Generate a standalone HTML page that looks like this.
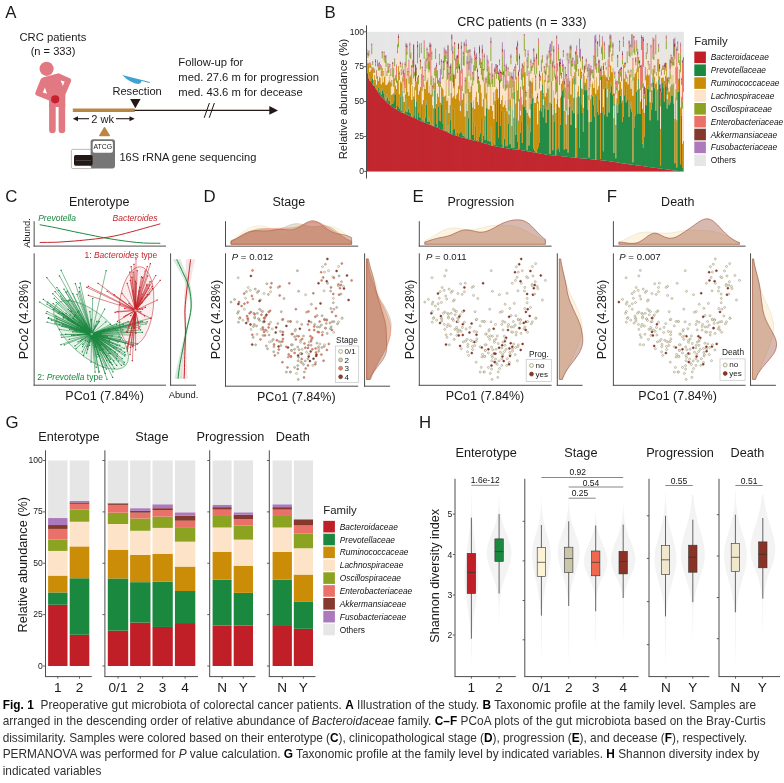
<!DOCTYPE html>
<html><head><meta charset="utf-8"><title>Fig. 1</title>
<style>
html,body{margin:0;padding:0;background:#fff;}
svg{display:block;font-family:'Liberation Sans', sans-serif;will-change:transform;}
</style></head><body>
<svg width="784" height="783" viewBox="0 0 784 783" font-family="Liberation Sans, sans-serif">
<rect width="784" height="783" fill="#fff"/>
<defs><circle id="s0" r="1.02" fill="#FDF6DC" stroke="#7d7960" stroke-width="0.42"/><circle id="s2" r="1.02" fill="#D2CDB2" stroke="#7d7960" stroke-width="0.42"/><circle id="s3" r="1.02" fill="#F07C62" stroke="#9a6a58" stroke-width="0.42"/><circle id="s4" r="1.02" fill="#8F3C2A" stroke="#5e3a30" stroke-width="0.42"/><circle id="p0" r="1.02" fill="#FCF4DA" stroke="#7d7960" stroke-width="0.42"/><circle id="p1" r="1.02" fill="#8E3423" stroke="#6e2b1f" stroke-width="0.42"/><circle id="d0" r="1.02" fill="#FCF4DA" stroke="#7d7960" stroke-width="0.42"/><circle id="d1" r="1.02" fill="#8E3423" stroke="#6e2b1f" stroke-width="0.42"/></defs>
<text x="5.20" y="18.15" font-size="16.8" text-anchor="start" fill="#1a1a1a">A</text>
<text x="52.90" y="41.45" font-size="11.25" text-anchor="middle" fill="#1a1a1a">CRC patients</text>
<text x="53.00" y="55.20" font-size="11.1" text-anchor="middle" fill="#1a1a1a">(n = 333)</text>
<g fill="#E27882">
<circle cx="46.6" cy="68.8" r="7.1"/>
<path d="M58.6,73.2 L70.2,78.6 Q71.8,79.8 71.0,81.6 L65.4,94.6 L65.2,107 L49.1,107 L49.1,100.6 L36.6,95.4 Q34.6,94.4 35.4,92.4 L40.6,79.6 Q41.2,78.2 42.8,77.6 Z"/>
<path d="M49.1,104 h6.6 v26 a3.3,3.3 0 0 1 -6.6,0 z"/>
<path d="M58.6,104 h6.6 v26 a3.3,3.3 0 0 1 -6.6,0 z"/>
</g>
<path d="M44.9,87.6 L42.8,92.4 L47,93.7 Z" fill="#fff"/>
<path d="M60.6,80.6 L64.6,81.6 L62.9,85.9 Z" fill="#fff"/>
<circle cx="55.2" cy="99.3" r="4.1" fill="#C7202E"/>
<rect x="72.80" y="108.50" width="62.00" height="3.50" fill="#B98644"/>
<line x1="134.50" y1="110.40" x2="271.00" y2="110.40" stroke="#231815" stroke-width="1.2"/>
<path d="M269.3,106 L278,110.4 L269.3,114.8 Z" fill="#231815"/>
<path d="M130.1,99 L140.6,99 L135.35,108.2 Z" fill="#231815"/>
<line x1="204.20" y1="117.80" x2="209.40" y2="103.00" stroke="#231815" stroke-width="1"/>
<line x1="209.20" y1="117.80" x2="214.40" y2="103.00" stroke="#231815" stroke-width="1"/>
<text x="137.10" y="95.30" font-size="11.1" text-anchor="middle" fill="#1a1a1a">Resection</text>
<text x="178.30" y="65.85" font-size="11.25" text-anchor="start" fill="#1a1a1a">Follow-up for</text>
<text x="178.30" y="81.05" font-size="11.25" text-anchor="start" fill="#1a1a1a">med. 27.6 m for progression</text>
<text x="178.30" y="96.05" font-size="11.25" text-anchor="start" fill="#1a1a1a">med. 43.6 m for decease</text>
<path d="M122.1,75.1 L149.9,81.9 L149.7,83.1 L141.6,81.1 Q141.2,83.7 138.4,84 Q130.6,83.6 122.1,75.1 Z" fill="#3FA2D2"/>
<text x="102.60" y="122.90" font-size="11.1" text-anchor="middle" fill="#1a1a1a">2 wk</text>
<line x1="76.00" y1="118.70" x2="89.00" y2="118.70" stroke="#231815" stroke-width="1.1"/>
<path d="M72.8,118.7 L78,116.2 L78,121.2 Z" fill="#231815"/>
<line x1="116.00" y1="118.70" x2="131.50" y2="118.70" stroke="#231815" stroke-width="1.1"/>
<path d="M134.7,118.7 L129.5,116.2 L129.5,121.2 Z" fill="#231815"/>
<path d="M104.55,127.6 L109.4,135.6 L99.7,135.6 Z" fill="#B98644" stroke="#B98644" stroke-width="1.2" stroke-linejoin="round"/>
<rect x="71.4" y="149.4" width="22" height="19.2" rx="1.5" fill="#fff" stroke="#8a8a8a" stroke-width="0.6"/>
<rect x="90.6" y="139.3" width="24.4" height="29.1" rx="2.6" fill="#767676"/>
<rect x="92.7" y="141.1" width="20.2" height="11.6" rx="1.8" fill="#fff"/>
<text x="102.80" y="149.48" font-size="6.9" text-anchor="middle" fill="#1a1a1a">ATCG</text>
<rect x="74" y="155.1" width="18.6" height="10.6" rx="1.6" fill="#231815"/>
<line x1="75.50" y1="160.50" x2="91.00" y2="160.50" stroke="#6a6a6a" stroke-width="0.5"/>
<text x="119.40" y="160.50" font-size="11.1" text-anchor="start" fill="#1a1a1a">16S rRNA gene sequencing</text>
<text x="324.60" y="17.65" font-size="16.8" text-anchor="start" fill="#1a1a1a">B</text>
<text x="521.80" y="26.44" font-size="12.6" text-anchor="middle" fill="#1a1a1a">CRC patients (n = 333)</text>
<rect x="366.50" y="31.80" width="317.40" height="139.60" fill="#E6E6E6"/>
<g transform="translate(366.500,171.4) scale(0.9532,-0.13960)">
<path d="M0,751H1V703H2V665H3V652H4V643H5V634H6V625H7V615H8V605H9V595H10V585H11V575H12V565H13V555H14V545H15V538H16V531H17V524H18V517H19V510H20V503H21V496H22V489H23V482H24V475H25V469H26V465H27V461H28V457H29V453H30V449H31V444H32V440H33V436H34V432H35V428H36V424H37V421H38V418H39V415H40V413H41V410H42V407H43V404H44V401H45V398H46V395H47V391H48V388H49V385H50V382H51V379H52V376H53V372H54V369H55V366H56V363H57V360H58V357H59V354H60V351H61V348H62V346H63V343H64V340H65V337H66V334H67V332H68V329H69V326H70V323H71V321H72V318H73V315H74V313H75V310H76V307H77V304H78V302H79V299H80V295H81V292H82V289H83V285H84V282H85V278H86V275H87V272H88V268H89V265H90V263H91V261H92V259H93V257H94V255H95V253H96V251H97V249H98V246H99V244H100V242H101V241H102V239H103V237H104V236H105V234H106V232H107V231H108V229H109V227H110V226H111V224H112V222H113V220H114V219H115V217H116V215H117V213H118V211H119V210H120V208H121V206H122V204H123V202H124V200H125V198H126V196H127V194H128V192H129V190H130V188H131V186H132V184H133V182H134V181H135V180H136V178H137V177H138V175H139V174H140V173H141V171H142V170H143V169H144V168H145V167H146V166H147V165H148V164H149V163H150V162H151V161H152V160H153V159H154V158H156V157H157V156H159V155H160V154H161V153H162V152H163V151H164V150H165V149H166V147H167V146H168V145H169V144H170V143H171V141H172V140H173V139H174V138H175V137H176V135H177V134H178V133H179V132H180V130H181V129H182V128H183V127H184V125H185V124H186V123H187V122H188V120H189V119H190V118H191V117H192V116H193V115H195V114H197V113H198V112H200V111H202V110H204V109H205V108H206V107H208V106H209V105H211V104H212V103H213V102H215V101H216V100H218V99H219V98H221V97H222V96H223V95H225V94H226V93H228V92H229V91H231V90H232V89H234V88H235V87H237V86H238V85H239V84H241V83H242V82H244V81H245V80H247V79H248V78H250V77H251V76H252V75H253V74H254V73H255V72H256V71H257V70H258V69H259V68H260V67H261V66H262V65H263V64H264V63H265V62H266V60H267V59H268V58H269V57H270V56H271V55H272V54H273V53H274V52H275V51H276V50H277V49H278V48H279V47H280V46H281V45H282V44H283V43H284V42H285V41H286V40H288V39H289V38H290V37H291V36H292V35H293V34H294V33H295V32H296V31H297V30H299V29H300V28H301V27H302V26H303V25H304V24H305V23H306V22H307V21H309V20H310V19H311V18H312V17H313V16H314V15H315V14H316V13H317V12H318V11H319V10H320V9H321V8H322V7H323V6H324V5H325V4H326V3H327V2H329V1H331V2H332V0H333V0H0Z" fill="#C01F27"/>
<path d="M0,751H1V703H2V665H3V652H4V648H5V676H6V666H7V615H8V611H9V596H10V588H11V580H12V597H13V567H14V578H15V550H16V593H17V576H18V558H19V522H20V508H21V553H22V528H23V502H24V605H25V476H26V488H27V485H28V503H29V553H30V552H31V449H32V474H33V464H34V449H35V539H36V432H37V580H38V421H39V419H40V430H41V517H42V424H43V446H44V463H45V422H46V416H47V392H48V388H49V396H50V522H51V384H52V502H53V376H54V418H55V393H56V385H57V473H58V364H59V379H60V355H61V386H62V509H63V477H64V354H65V388H66V357H67V332H68V465H69V327H71V587H72V447H73V341H74V319H75V467H76V366H77V360H78V479H79V538H80V340H81V294H82V289H83V438H84V285H85V328H86V276H87V366H88V470H89V272H90V301H91V448H92V304H93V266H94V258H95V279H96V252H97V273H98V280H99V283H100V272H101V253H102V268H103V243H104V488H105V236H106V380H107V573H108V230H109V506H110V493H111V261H112V356H113V229H114V330H115V220H116V229H117V222H118V250H119V274H120V375H121V209H122V253H123V371H124V225H125V453H126V513H127V219H128V225H129V215H130V314H131V188H132V185H133V215H134V190H135V482H136V354H137V515H138V239H139V658H140V325H141V436H142V194H143V172H144V232H145V423H146V181H147V183H148V517H149V339H150V195H151V477H152V168H153V439H154V170H155V574H156V262H157V380H158V214H159V157H160V160H161V276H162V360H163V204H164V516H165V464H166V588H167V440H168V152H169V333H170V186H171V281H172V485H173V553H174V523H175V162H176V147H177V142H178V134H179V163H180V174H181V204H182V452H183V431H184V622H185V387H186V510H187V448H188V349H189V468H190V440H191V608H192V124H193V482H194V603H195V152H196V355H197V449H198V117H199V154H200V522H201V165H202V139H203V335H204V546H205V577H206V594H207V157H208V425H209V160H210V517H211V135H212V461H213V482H214V333H215V552H216V437H217V416H218V670H219V100H220V107H221V412H222V543H223V169H224V665H225V481H226V421H227V286H228V621H229V581H230V583H231V587H232V439H233V99H234V364H235V356H236V537H237V546H238V475H239V394H240V85H241V545H242V427H243V407H244V517H245V89H246V677H247V423H248V145H249V408H250V603H251V593H252V394H253V593H254V422H255V564H256V637H257V610H258V546H259V131H260V486H261V94H262V479H263V421H264V481H265V583H266V542H267V493H268V355H269V391H270V546H271V604H272V496H273V597H274V512H275V390H276V450H277V497H278V427H279V65H280V311H281V400H282V655H283V569H284V414H285V664H286V412H287V415H288V523H289V198H290V172H291V250H292V552H293V473H294V590H295V614H296V587H297V367H298V441H299V491H300V671H301V638H302V596H303V435H304V581H305V367H306V654H307V624H308V43H309V570H310V635H311V602H312V500H313V631H314V608H315V450H316V517H317V478H318V493H319V621H320V542H321V624H322V486H323V58H324V535H325V28H326V568H327V573H328V671H329V51H330V401H331V30H332V5H333V0H332V2H331V1H329V2H327V3H326V4H325V5H324V6H323V7H322V8H321V9H320V10H319V11H318V12H317V13H316V14H315V15H314V16H313V17H312V18H311V19H310V20H309V21H307V22H306V23H305V24H304V25H303V26H302V27H301V28H300V29H299V30H297V31H296V32H295V33H294V34H293V35H292V36H291V37H290V38H289V39H288V40H286V41H285V42H284V43H283V44H282V45H281V46H280V47H279V48H278V49H277V50H276V51H275V52H274V53H273V54H272V55H271V56H270V57H269V58H268V59H267V60H266V62H265V63H264V64H263V65H262V66H261V67H260V68H259V69H258V70H257V71H256V72H255V73H254V74H253V75H252V76H251V77H250V78H248V79H247V80H245V81H244V82H242V83H241V84H239V85H238V86H237V87H235V88H234V89H232V90H231V91H229V92H228V93H226V94H225V95H223V96H222V97H221V98H219V99H218V100H216V101H215V102H213V103H212V104H211V105H209V106H208V107H206V108H205V109H204V110H202V111H200V112H198V113H197V114H195V115H193V116H192V117H191V118H190V119H189V120H188V122H187V123H186V124H185V125H184V127H183V128H182V129H181V130H180V132H179V133H178V134H177V135H176V137H175V138H174V139H173V140H172V141H171V143H170V144H169V145H168V146H167V147H166V149H165V150H164V151H163V152H162V153H161V154H160V155H159V156H157V157H156V158H154V159H153V160H152V161H151V162H150V163H149V164H148V165H147V166H146V167H145V168H144V169H143V170H142V171H141V173H140V174H139V175H138V177H137V178H136V180H135V181H134V182H133V184H132V186H131V188H130V190H129V192H128V194H127V196H126V198H125V200H124V202H123V204H122V206H121V208H120V210H119V211H118V213H117V215H116V217H115V219H114V220H113V222H112V224H111V226H110V227H109V229H108V231H107V232H106V234H105V236H104V237H103V239H102V241H101V242H100V244H99V246H98V249H97V251H96V253H95V255H94V257H93V259H92V261H91V263H90V265H89V268H88V272H87V275H86V278H85V282H84V285H83V289H82V292H81V295H80V299H79V302H78V304H77V307H76V310H75V313H74V315H73V318H72V321H71V323H70V326H69V329H68V332H67V334H66V337H65V340H64V343H63V346H62V348H61V351H60V354H59V357H58V360H57V363H56V366H55V369H54V372H53V376H52V379H51V382H50V385H49V388H48V391H47V395H46V398H45V401H44V404H43V407H42V410H41V413H40V415H39V418H38V421H37V424H36V428H35V432H34V436H33V440H32V444H31V449H30V453H29V457H28V461H27V465H26V469H25V475H24V482H23V489H22V496H21V503H20V510H19V517H18V524H17V531H16V538H15V545H14V555H13V565H12V575H11V585H10V595H9V605H8V615H7V625H6V634H5V643H4V652H3V665H2V703H1V751H0Z" fill="#1B8840"/>
<path d="M0,798H1V774H2V776H3V713H4V728H5V748H6V746H7V654H8V692H9V659H10V623H11V686H12V647H13V679H14V671H15V624H16V740H17V639H18V678H19V740H20V619H21V625H22V637H23V651H24V691H25V638H26V547H27V554H28V561H29V667H30V616H31V591H32V653H33V755H34V552H35V650H36V637H37V675H38V537H39V497H40V552H41V666H42V742H43V569H44V542H45V679H46V693H47V513H48V611H49V537H50V605H51V465H52V646H53V676H54V551H55V580H56V605H57V698H58V481H59V512H60V624H61V590H62V642H63V653H64V672H65V563H66V615H67V551H68V685H69V473H70V452H71V635H72V752H73V482H74V560H75V534H76V669H77V493H78V609H79V599H80V589H81V536H82V544H83V658H84V506H85V530H86V419H87V476H88V562H89V702H90V530H91V542H92V693H93V523H94V549H95V561H96V612H97V508H98V433H99V618H100V513H101V564H102V555H103V393H104V673H105V433H106V591H107V645H108V569H109V610H110V634H111V457H112V509H113V447H114V533H115V572H116V497H117V478H118V649H119V623H120V566H121V465H122V519H123V636H124V396H125V559H126V685H127V451H128V444H129V469H130V637H131V468H132V435H133V376H134V504H135V586H136V603H137V591H138V526H139V733H140V482H141V512H142V545H143V464H144V478H145V510H146V456H147V430H148V627H149V407H150V516H151V685H152V326H153V563H154V384H155V650H156V487H157V678H158V581H159V364H160V518H161V403H162V536H163V479H164V614H165V787H166V711H167V512H168V421H169V589H170V399H171V382H172V651H173V639H174V670H175V528H176V490H177V493H178V532H179V338H180V501H181V437H182V577H183V581H184V709H185V476H186V655H187V536H188V561H189V651H190V594H191V760H192V491H193V644H194V769H195V406H196V581H197V526H198V419H199V482H200V685H201V463H202V456H203V529H204V630H205V649H206V770H207V433H208V599H209V338H210V665H211V404H212V672H213V649H214V550H215V691H216V668H217V527H218V711H219V311H220V532H221V573H222V612H223V537H224V739H225V596H226V591H227V456H228V687H229V635H230V664H231V686H232V543H233V352H234V516H235V549H236V627H237V646H238V597H239V659H240V556H241V678H242V587H243V611H244V799H245V419H246V756H247V689H248V462H249V723H250V692H251V677H252V532H253V654H254V676H255V765H256V757H257V710H258V743H259V381H260V555H261V333H262V524H263V649H264V579H265V734H266V642H267V594H268V507H269V763H270V666H271V716H272V640H273V680H274V625H275V722H276V695H277V592H278V659H279V542H280V675H281V699H282V711H283V738H284V583H285V749H286V594H287V501H288V765H289V449H290V631H291V420H292V598H293V689H294V733H295V696H296V687H297V495H298V630H299V582H300V731H301V761H302V677H303V630H304V642H305V587H306V805H307V681H308V306H309V669H310V673H311V675H312V649H313V685H314V779H315V518H316V600H317V571H318V608H319V695H320V622H321V691H322V630H323V375H324V590H325V366H326V752H327V663H328V732H329V458H330V536H331V200H332V220H333V5H332V30H331V401H330V51H329V671H328V573H327V568H326V28H325V535H324V58H323V486H322V624H321V542H320V621H319V493H318V478H317V517H316V450H315V608H314V631H313V500H312V602H311V635H310V570H309V43H308V624H307V654H306V367H305V581H304V435H303V596H302V638H301V671H300V491H299V441H298V367H297V587H296V614H295V590H294V473H293V552H292V250H291V172H290V198H289V523H288V415H287V412H286V664H285V414H284V569H283V655H282V400H281V311H280V65H279V427H278V497H277V450H276V390H275V512H274V597H273V496H272V604H271V546H270V391H269V355H268V493H267V542H266V583H265V481H264V421H263V479H262V94H261V486H260V131H259V546H258V610H257V637H256V564H255V422H254V593H253V394H252V593H251V603H250V408H249V145H248V423H247V677H246V89H245V517H244V407H243V427H242V545H241V85H240V394H239V475H238V546H237V537H236V356H235V364H234V99H233V439H232V587H231V583H230V581H229V621H228V286H227V421H226V481H225V665H224V169H223V543H222V412H221V107H220V100H219V670H218V416H217V437H216V552H215V333H214V482H213V461H212V135H211V517H210V160H209V425H208V157H207V594H206V577H205V546H204V335H203V139H202V165H201V522H200V154H199V117H198V449H197V355H196V152H195V603H194V482H193V124H192V608H191V440H190V468H189V349H188V448H187V510H186V387H185V622H184V431H183V452H182V204H181V174H180V163H179V134H178V142H177V147H176V162H175V523H174V553H173V485H172V281H171V186H170V333H169V152H168V440H167V588H166V464H165V516H164V204H163V360H162V276H161V160H160V157H159V214H158V380H157V262H156V574H155V170H154V439H153V168H152V477H151V195H150V339H149V517H148V183H147V181H146V423H145V232H144V172H143V194H142V436H141V325H140V658H139V239H138V515H137V354H136V482H135V190H134V215H133V185H132V188H131V314H130V215H129V225H128V219H127V513H126V453H125V225H124V371H123V253H122V209H121V375H120V274H119V250H118V222H117V229H116V220H115V330H114V229H113V356H112V261H111V493H110V506H109V230H108V573H107V380H106V236H105V488H104V243H103V268H102V253H101V272H100V283H99V280H98V273H97V252H96V279H95V258H94V266H93V304H92V448H91V301H90V272H89V470H88V366H87V276H86V328H85V285H84V438H83V289H82V294H81V340H80V538H79V479H78V360H77V366H76V467H75V319H74V341H73V447H72V587H71V327H69V465H68V332H67V357H66V388H65V354H64V477H63V509H62V386H61V355H60V379H59V364H58V473H57V385H56V393H55V418H54V376H53V502H52V384H51V522H50V396H49V388H48V392H47V416H46V422H45V463H44V446H43V424H42V517H41V430H40V419H39V421H38V580H37V432H36V539H35V449H34V464H33V474H32V449H31V552H30V553H29V503H28V485H27V488H26V476H25V605H24V502H23V528H22V553H21V508H20V522H19V558H18V576H17V593H16V550H15V578H14V567H13V597H12V580H11V588H10V596H9V611H8V615H7V666H6V676H5V648H4V652H3V665H2V703H1V751H0Z" fill="#CB8D07"/>
<path d="M0,846H1V815H2V825H3V743H4V742H5V840H6V763H7V705H8V707H9V753H10V663H11V750H12V723H13V722H14V732H15V682H16V811H17V686H18V795H19V777H20V748H21V684H22V707H23V706H24V746H25V684H26V609H27V674H28V607H29V754H30V652H31V634H32V847H33V889H34V654H35V746H36V688H37V736H38V642H39V561H40V598H41V748H42V836H43V686H44V628H45V814H46V805H47V621H48V744H49V665H50V684H51V581H52V686H53V775H54V625H55V814H56V731H57V847H58V578H59V607H60V806H61V648H62V735H63V797H64V736H65V709H66V726H67V618H68V799H69V537H70V590H71V685H72V806H73V671H74V627H75V609H76V763H77V605H78V691H79V660H80V666H81V727H82V784H83V805H84V654H85V662H86V541H87V645H88V651H89V864H90V640H91V595H92V797H93V663H94V734H95V705H96V737H97V587H98V470H99V703H100V576H101V760H102V756H103V557H104V849H105V560H106V792H107V684H108V777H109V653H110V773H111V616H112V652H113V722H114V721H115V741H116V630H117V563H118V762H119V741H120V690H121V656H122V643H123V722H124V523H125V631H126V715H127V605H128V622H129V607H130V789H131V628H132V604H133V478H134V605H135V697H136V664H137V698H138V653H139V760H140V636H141V647H142V691H143V593H144V680H145V576H146V589H147V599H148V684H149V435H150V597H151V767H152V523H153V603H154V516H155V720H156V658H157V788H158V763H159V500H160V714H161V434H162V657H163V586H164V675H165V867H166V822H167V535H168V683H169V741H170V610H171V444H172V701H173V721H174V742H175V761H176V694H177V578H178V699H179V487H180V761H181V592H182V650H183V713H184V778H185V517H186V709H187V641H188V693H189V746H190V633H191V814H192V640H193V770H194V861H195V649H196V773H197V673H198V552H199V569H200V715H201V792H202V619H203V687H204V665H205V713H206V819H207V527H208V662H209V437H210V796H211V518H212V773H213V813H214V686H215V751H216V752H217V625H218V732H219V622H220V716H221V770H222V683H223V814H224V787H225V664H226V729H227V551H228V702H229V730H230V749H231V716H232V676H233V512H234V602H235V690H236V704H237V671H238V660H239V752H240V731H241V706H242V822H243V707H244V895H245V654H246V842H247V796H248V589H249V805H250V758H251V729H252V590H253V674H254V747H255V853H256V885H257V788H258V830H259V470H260V665H261V552H262V581H263V746H264V626H265V859H266V679H267V646H268V765H269V892H270V741H271V750H272V665H273V774H274V705H275V827H276V818H277V675H278V830H279V651H280V850H281V833H282V760H283V858H284V710H285V773H286V741H287V583H288V870H289V600H290V748H291V520H292V653H293V803H294V843H295V765H296V727H297V568H298V694H299V605H300V807H301V798H302V702H303V839H304V685H305V715H306V855H307V713H308V467H309V688H310V729H312V693H313V722H314V875H315V551H316V642H317V628H318V662H319V774H320V751H321V763H322V756H323V804H324V627H325V510H326V865H327V777H328V761H329V711H330V620H331V450H332V570H333V220H332V200H331V536H330V458H329V732H328V663H327V752H326V366H325V590H324V375H323V630H322V691H321V622H320V695H319V608H318V571H317V600H316V518H315V779H314V685H313V649H312V675H311V673H310V669H309V306H308V681H307V805H306V587H305V642H304V630H303V677H302V761H301V731H300V582H299V630H298V495H297V687H296V696H295V733H294V689H293V598H292V420H291V631H290V449H289V765H288V501H287V594H286V749H285V583H284V738H283V711H282V699H281V675H280V542H279V659H278V592H277V695H276V722H275V625H274V680H273V640H272V716H271V666H270V763H269V507H268V594H267V642H266V734H265V579H264V649H263V524H262V333H261V555H260V381H259V743H258V710H257V757H256V765H255V676H254V654H253V532H252V677H251V692H250V723H249V462H248V689H247V756H246V419H245V799H244V611H243V587H242V678H241V556H240V659H239V597H238V646H237V627H236V549H235V516H234V352H233V543H232V686H231V664H230V635H229V687H228V456H227V591H226V596H225V739H224V537H223V612H222V573H221V532H220V311H219V711H218V527H217V668H216V691H215V550H214V649H213V672H212V404H211V665H210V338H209V599H208V433H207V770H206V649H205V630H204V529H203V456H202V463H201V685H200V482H199V419H198V526H197V581H196V406H195V769H194V644H193V491H192V760H191V594H190V651H189V561H188V536H187V655H186V476H185V709H184V581H183V577H182V437H181V501H180V338H179V532H178V493H177V490H176V528H175V670H174V639H173V651H172V382H171V399H170V589H169V421H168V512H167V711H166V787H165V614H164V479H163V536H162V403H161V518H160V364H159V581H158V678H157V487H156V650H155V384H154V563H153V326H152V685H151V516H150V407H149V627H148V430H147V456H146V510H145V478H144V464H143V545H142V512H141V482H140V733H139V526H138V591H137V603H136V586H135V504H134V376H133V435H132V468H131V637H130V469H129V444H128V451H127V685H126V559H125V396H124V636H123V519H122V465H121V566H120V623H119V649H118V478H117V497H116V572H115V533H114V447H113V509H112V457H111V634H110V610H109V569H108V645H107V591H106V433H105V673H104V393H103V555H102V564H101V513H100V618H99V433H98V508H97V612H96V561H95V549H94V523H93V693H92V542H91V530H90V702H89V562H88V476H87V419H86V530H85V506H84V658H83V544H82V536H81V589H80V599H79V609H78V493H77V669H76V534H75V560H74V482H73V752H72V635H71V452H70V473H69V685H68V551H67V615H66V563H65V672H64V653H63V642H62V590H61V624H60V512H59V481H58V698H57V605H56V580H55V551H54V676H53V646H52V465H51V605H50V537H49V611H48V513H47V693H46V679H45V542H44V569H43V742H42V666H41V552H40V497H39V537H38V675H37V637H36V650H35V552H34V755H33V653H32V591H31V616H30V667H29V561H28V554H27V547H26V638H25V691H24V651H23V637H22V625H21V619H20V740H19V678H18V639H17V740H16V624H15V671H14V679H13V647H12V686H11V623H10V659H9V692H8V654H7V746H6V748H5V728H4V713H3V776H2V774H1V798H0Z" fill="#FDE3C7"/>
<path d="M0,862H1V823H2V849H3V764H4V761H5V886H6V775H7V733H8V722H9V774H10V680H11V776H12V744H13V754H14V744H15V722H16V842H17V699H18V837H19V799H20V801H21V698H22V731H23V739H24V762H25V708H26V638H27V739H28V648H29V797H30V675H31V672H32V872H33V936H34V685H35V758H36V716H37V757H38V674H39V582H40V617H41V878H42V861H43V710H44V672H45V879H46V836H47V703H48V767H49V728H50V704H51V625H52V723H53V854H54V667H55V861H56V762H57V895H58V594H59V666H60V888H61V695H62V774H63V863H64V813H65V787H66V818H67V667H68V840H69V582H70V651H71V722H72V840H73V728H74V678H75V640H76V794H77V624H78V756H79V671H80V745H81V830H82V850H83V836H84V745H85V738H86V599H87V708H88V689H89V913H90V802H91V606H92V893H93V751H94V758H95V782H96V801H97V689H98V494H99V825H100V595H101V830H102V851H103V634H104V892H105V696H106V833H107V715H108V832H109V683H110V792H111V680H112V737H113V794H114V757H115V797H116V662H117V658H118V823H119V784H120V753H121V809H122V680H123V810H124V608H125V651H126V747H127V741H128V712H129V666H130V894H131V717H132V665H133V531H134V682H135V752H136V712H137V734H138V691H139V775H140V665H141V690H142V832H143V677H144V750H145V609H146V635H147V620H148V723H149V472H150V659H151V799H152V609H153V652H154V573H155V733H156V729H157V837H158V877H159V646H160V762H161V446H162V705H163V702H164V729H165V960H166V853H167V557H168V755H169V826H170V672H171V489H172V758H173V750H174V762H175V817H176V756H177V657H178V753H179V516H180V907H181V638H182V662H183V758H184V816H185V543H186V726H187V671H188V753H189V778H190V654H191V840H192V804H193V815H194V899H195V724H196V816H197V723H198V640H199V645H200V758H201V862H202V705H203V764H204V690H205V742H206V841H207V617H208V722H209V467H210V819H211V572H212V810H213V885H214V845H215V781H216V775H217V658H218V763H219V769H220V831H221V808H222V711H223V878H224V813H225V694H226V792H227V640H228V708H229V754H230V764H231V733H232V746H233V558H234V629H235V720H236V713H237V716H238V687H239V820H240V905H241V742H242V890H243V765H244V952H245V695H246V884H247V905H248V714H249V858H250V770H251V737H252V628H253V696H254V806H255V937H256V940H257V824H258V872H259V525H260V685H261V615H262V603H263V804H264V676H265V909H266V714H267V711H268V801H269V938H270V757H271V759H272V678H273V821H274V717H275V880H276V858H277V702H278V874H279V743H280V911H281V880H282V776H283V910H284V791H285V805H286V758H287V596H288V934H289V631H290V865H291V538H292V676H293V833H294V886H295V776H296V754H297V604H298V719H299V619H300V839H301V819H302V733H303V927H304V701H305V777H306V882H307V732H308V519H309V715H310V742H311V746H312V724H313V735H314V937H315V577H316V663H317V657H318V719H319V821H320V791H321V784H322V800H323V884H324V652H325V587H326V891H327V834H328V772H329V843H330V647H331V500H332V600H333V570H332V450H331V620H330V711H329V761H328V777H327V865H326V510H325V627H324V804H323V756H322V763H321V751H320V774H319V662H318V628H317V642H316V551H315V875H314V722H313V693H312V729H310V688H309V467H308V713H307V855H306V715H305V685H304V839H303V702H302V798H301V807H300V605H299V694H298V568H297V727H296V765H295V843H294V803H293V653H292V520H291V748H290V600H289V870H288V583H287V741H286V773H285V710H284V858H283V760H282V833H281V850H280V651H279V830H278V675H277V818H276V827H275V705H274V774H273V665H272V750H271V741H270V892H269V765H268V646H267V679H266V859H265V626H264V746H263V581H262V552H261V665H260V470H259V830H258V788H257V885H256V853H255V747H254V674H253V590H252V729H251V758H250V805H249V589H248V796H247V842H246V654H245V895H244V707H243V822H242V706H241V731H240V752H239V660H238V671H237V704H236V690H235V602H234V512H233V676H232V716H231V749H230V730H229V702H228V551H227V729H226V664H225V787H224V814H223V683H222V770H221V716H220V622H219V732H218V625H217V752H216V751H215V686H214V813H213V773H212V518H211V796H210V437H209V662H208V527H207V819H206V713H205V665H204V687H203V619H202V792H201V715H200V569H199V552H198V673H197V773H196V649H195V861H194V770H193V640H192V814H191V633H190V746H189V693H188V641H187V709H186V517H185V778H184V713H183V650H182V592H181V761H180V487H179V699H178V578H177V694H176V761H175V742H174V721H173V701H172V444H171V610H170V741H169V683H168V535H167V822H166V867H165V675H164V586H163V657H162V434H161V714H160V500H159V763H158V788H157V658H156V720H155V516H154V603H153V523H152V767H151V597H150V435H149V684H148V599H147V589H146V576H145V680H144V593H143V691H142V647H141V636H140V760H139V653H138V698H137V664H136V697H135V605H134V478H133V604H132V628H131V789H130V607H129V622H128V605H127V715H126V631H125V523H124V722H123V643H122V656H121V690H120V741H119V762H118V563H117V630H116V741H115V721H114V722H113V652H112V616H111V773H110V653H109V777H108V684H107V792H106V560H105V849H104V557H103V756H102V760H101V576H100V703H99V470H98V587H97V737H96V705H95V734H94V663H93V797H92V595H91V640H90V864H89V651H88V645H87V541H86V662H85V654H84V805H83V784H82V727H81V666H80V660H79V691H78V605H77V763H76V609H75V627H74V671H73V806H72V685H71V590H70V537H69V799H68V618H67V726H66V709H65V736H64V797H63V735H62V648H61V806H60V607H59V578H58V847H57V731H56V814H55V625H54V775H53V686H52V581H51V684H50V665H49V744H48V621H47V805H46V814H45V628H44V686H43V836H42V748H41V598H40V561H39V642H38V736H37V688H36V746H35V654H34V889H33V847H32V634H31V652H30V754H29V607H28V674H27V609H26V684H25V746H24V706H23V707H22V684H21V748H20V777H19V795H18V686H17V811H16V682H15V732H14V722H13V723H12V750H11V663H10V753H9V707H8V705H7V763H6V840H5V742H4V743H3V825H2V815H1V846H0Z" fill="#8CA322"/>
<path d="M0,871H1V831H2V853H3V777H4V770H5V908H6V782H7V736H8V731H9V784H10V719H11V789H12V760H13V769H14V757H15V744H16V846H17V713H18V849H19V817H20V818H21V710H22V762H23V748H24V763H25V728H26V649H27V770H28V652H29V801H30V682H31V758H32V907H33V956H34V700H35V770H36V725H37V772H38V697H39V695H40V762H41V893H42V888H43V714H44V790H45V901H46V841H47V744H48V786H49V746H50V709H51V646H52V730H53V887H54V677H55V898H56V782H57V909H58V741H59V677H60V926H61V719H62V790H63V868H64V845H65V825H66V890H67V893H68V843H69V602H70V658H71V739H72V860H73V750H74V707H75V643H76V833H77V635H78V784H79V673H80V775H81V869H82V861H83V844H84V772H85V744H86V696H87V740H88V699H89V945H90V842H91V610H92V912H93V794H94V803H95V812H96V876H97V729H98V719H99V878H100V727H101V841H102V897H103V644H104V896H105V767H106V849H107V729H108V855H109V710H110V800H111V700H112V742H113V830H114V804H115V810H116V711H117V663H118V844H119V801H120V771H121V847H122V724H123V818H124V646H125V657H126V755H127V774H128V740H129V692H130V919H131V760H132V678H133V551H134V710H135V763H136V742H137V750H138V697H139V792H140V705H141V700H142V856H143V692H144V754H145V610H146V715H147V637H148V732H149V640H150V688H151V812H152V666H153V665H154V587H155V743H156V750H157V872H158V899H159V684H160V801H161V597H162V733H163V750H164V742H165V974H166V865H167V562H168V788H169V830H170V700H171V525H172V778H173V753H174V770H175V858H176V787H177V673H178V804H179V522H180V946H181V679H182V674H183V785H184V823H185V550H186V743H187V699H188V766H189V801H190V674H191V858H192V853H193V831H194V918H195V744H196V854H197V741H198V658H199V953H200V768H201V874H202V749H203V769H204V698H205V755H206V857H207V623H208V738H209V681H210V830H211V607H212V837H213V888H214V871H215V784H216V800H217V679H218V766H219V835H220V873H221V824H222V725H223V917H224V818H225V704H226V807H227V685H228V709H229V760H230V788H231V738H232V759H233V585H234V647H235V748H236V716H237V719H238V821H239V868H240V921H241V763H242V911H243V779H244V970H245V717H246V887H247V947H248V724H249V903H250V775H251V739H252V650H253V796H254V819H255V948H256V966H257V830H258V888H259V538H260V699H261V628H262V641H263V814H264V701H265V927H266V728H267V732H268V833H269V951H270V772H271V767H272V685H273V844H274V721H275V912H276V891H277V715H278V888H279V802H280V956H281V922H282V781H283V930H284V837H285V813H286V776H287V748H288V952H289V947H290V933H291V555H292V678H293V841H294V906H295V784H296V761H297V613H298V890H299V622H300V953H301V936H302V751H303V968H304V704H305V800H306V900H307V734H308V573H309V728H310V754H311V752H313V743H314V957H315V580H316V666H317V663H318V735H319V828H320V804H321V798H322V824H323V891H324V740H325V864H326V916H327V837H328V775H329V896H330V657H331V780H332V800H333V600H332V500H331V647H330V843H329V772H328V834H327V891H326V587H325V652H324V884H323V800H322V784H321V791H320V821H319V719H318V657H317V663H316V577H315V937H314V735H313V724H312V746H311V742H310V715H309V519H308V732H307V882H306V777H305V701H304V927H303V733H302V819H301V839H300V619H299V719H298V604H297V754H296V776H295V886H294V833H293V676H292V538H291V865H290V631H289V934H288V596H287V758H286V805H285V791H284V910H283V776H282V880H281V911H280V743H279V874H278V702H277V858H276V880H275V717H274V821H273V678H272V759H271V757H270V938H269V801H268V711H267V714H266V909H265V676H264V804H263V603H262V615H261V685H260V525H259V872H258V824H257V940H256V937H255V806H254V696H253V628H252V737H251V770H250V858H249V714H248V905H247V884H246V695H245V952H244V765H243V890H242V742H241V905H240V820H239V687H238V716H237V713H236V720H235V629H234V558H233V746H232V733H231V764H230V754H229V708H228V640H227V792H226V694H225V813H224V878H223V711H222V808H221V831H220V769H219V763H218V658H217V775H216V781H215V845H214V885H213V810H212V572H211V819H210V467H209V722H208V617H207V841H206V742H205V690H204V764H203V705H202V862H201V758H200V645H199V640H198V723H197V816H196V724H195V899H194V815H193V804H192V840H191V654H190V778H189V753H188V671H187V726H186V543H185V816H184V758H183V662H182V638H181V907H180V516H179V753H178V657H177V756H176V817H175V762H174V750H173V758H172V489H171V672H170V826H169V755H168V557H167V853H166V960H165V729H164V702H163V705H162V446H161V762H160V646H159V877H158V837H157V729H156V733H155V573H154V652H153V609H152V799H151V659H150V472H149V723H148V620H147V635H146V609H145V750H144V677H143V832H142V690H141V665H140V775H139V691H138V734H137V712H136V752H135V682H134V531H133V665H132V717H131V894H130V666H129V712H128V741H127V747H126V651H125V608H124V810H123V680H122V809H121V753H120V784H119V823H118V658H117V662H116V797H115V757H114V794H113V737H112V680H111V792H110V683H109V832H108V715H107V833H106V696H105V892H104V634H103V851H102V830H101V595H100V825H99V494H98V689H97V801H96V782H95V758H94V751H93V893H92V606H91V802H90V913H89V689H88V708H87V599H86V738H85V745H84V836H83V850H82V830H81V745H80V671H79V756H78V624H77V794H76V640H75V678H74V728H73V840H72V722H71V651H70V582H69V840H68V667H67V818H66V787H65V813H64V863H63V774H62V695H61V888H60V666H59V594H58V895H57V762H56V861H55V667H54V854H53V723H52V625H51V704H50V728H49V767H48V703H47V836H46V879H45V672H44V710H43V861H42V878H41V617H40V582H39V674H38V757H37V716H36V758H35V685H34V936H33V872H32V672H31V675H30V797H29V648H28V739H27V638H26V708H25V762H24V739H23V731H22V698H21V801H20V799H19V837H18V699H17V842H16V722H15V744H14V754H13V744H12V776H11V680H10V774H9V722H8V733H7V775H6V886H5V761H4V764H3V849H2V823H1V862H0Z" fill="#EA7169"/>
<path d="M0,872H1V848H2V861H3V777H4V770H5V912H6V788H7V736H8V732H9V796H10V722H11V793H12V766H13V775H14V762H15V748H16V856H17V717H18V851H19V828H20V822H21V715H22V767H23V752H24V768H25V729H26V652H27V781H28V659H29V806H30V685H31V759H32V908H33V973H34V707H35V781H36V728H37V773H38V724H39V702H40V770H41V910H42V900H43V719H44V791H45V910H46V845H47V759H48V789H49V905H50V711H51V763H52V738H53V908H54V684H55V900H56V799H57V911H58V750H59V681H60V928H61V727H62V801H63V877H64V852H65V841H66V911H67V904H68V850H69V613H70V665H71V741H72V866H73V763H74V707H75V647H76V834H77V642H78V790H79V674H80V790H81V871H82V867H83V855H84V788H85V901H86V704H87V750H88V766H89V975H90V862H91V695H92V925H93V801H94V811H95V832H96V912H97V756H98V721H99V902H100V729H101V851H102V918H103V657H104V915H105V791H106V870H107V789H108V873H109V711H110V805H111V710H112V745H113V866H114V815H115V823H116V732H117V676H118V891H119V803H120V778H121V881H122V733H123V832H124V650H125V662H126V755H127V784H128V741H129V697H130V935H131V764H132V693H133V551H134V734H135V766H136V754H137V760H138V706H139V798H140V715H141V711H142V881H143V715H144V762H145V618H146V759H147V642H148V740H149V643H150V695H151V830H152V686H153V675H154V590H155V747H156V757H157V889H158V919H159V714H160V827H161V601H162V735H163V767H164V750H165V983H166V872H167V568H168V797H169V845H170V707H171V645H172V793H173V755H174V775H175V877H176V801H177V686H178V839H179V543H180V949H181V702H182V682H183V789H184V828H185V557H186V753H187V715H188V769H189V825H190V681H191V862H192V891H193V842H194V929H195V786H196V878H197V753H198V680H199V967H200V770H201V883H202V785H203V781H204V704H205V762H206V867H207V648H208V747H209V698H210V840H211V623H212V839H213V895H215V790H216V815H217V683H218V769H219V857H220V880H221V826H222V730H223V923H224V820H225V711H226V823H227V692H228V756H229V760H230V802H231V740H232V761H233V600H234V734H235V753H236V724H237V722H238V829H239V872H240V952H241V768H242V932H243V792H244V970H245V736H246V888H247V952H248V756H249V918H250V777H251V745H252V667H253V796H254V904H255V970H256V968H257V838H258V915H259V557H260V710H261V639H262V645H263V834H264V714H265V935H266V734H267V741H268V851H269V955H270V774H271V776H272V689H273V847H274V723H275V935H276V908H277V724H278V983H279V806H280V970H281V924H282V816H283V932H284V859H285V817H286V794H287V755H288V963H289V948H290V951H291V605H292V678H293V842H294V911H295V791H296V766H297V616H298V900H299V628H300V955H301V944H302V756H303V972H304V708H305V802H306V908H307V768H308V595H309V729H310V756H311V754H312V765H313V777H314V964H315V667H316V671H317V668H318V800H319V835H320V819H321V801H322V949H323V917H324V742H325V876H326V926H327V839H328V779H329V904H330V664H331V790H332V810H333V800H332V780H331V657H330V896H329V775H328V837H327V916H326V864H325V740H324V891H323V824H322V798H321V804H320V828H319V735H318V663H317V666H316V580H315V957H314V743H313V752H311V754H310V728H309V573H308V734H307V900H306V800H305V704H304V968H303V751H302V936H301V953H300V622H299V890H298V613H297V761H296V784H295V906H294V841H293V678H292V555H291V933H290V947H289V952H288V748H287V776H286V813H285V837H284V930H283V781H282V922H281V956H280V802H279V888H278V715H277V891H276V912H275V721H274V844H273V685H272V767H271V772H270V951H269V833H268V732H267V728H266V927H265V701H264V814H263V641H262V628H261V699H260V538H259V888H258V830H257V966H256V948H255V819H254V796H253V650H252V739H251V775H250V903H249V724H248V947H247V887H246V717H245V970H244V779H243V911H242V763H241V921H240V868H239V821H238V719H237V716H236V748H235V647H234V585H233V759H232V738H231V788H230V760H229V709H228V685H227V807H226V704H225V818H224V917H223V725H222V824H221V873H220V835H219V766H218V679H217V800H216V784H215V871H214V888H213V837H212V607H211V830H210V681H209V738H208V623H207V857H206V755H205V698H204V769H203V749H202V874H201V768H200V953H199V658H198V741H197V854H196V744H195V918H194V831H193V853H192V858H191V674H190V801H189V766H188V699H187V743H186V550H185V823H184V785H183V674H182V679H181V946H180V522H179V804H178V673H177V787H176V858H175V770H174V753H173V778H172V525H171V700H170V830H169V788H168V562H167V865H166V974H165V742H164V750H163V733H162V597H161V801H160V684H159V899H158V872H157V750H156V743H155V587H154V665H153V666H152V812H151V688H150V640H149V732H148V637H147V715H146V610H145V754H144V692H143V856H142V700H141V705H140V792H139V697H138V750H137V742H136V763H135V710H134V551H133V678H132V760H131V919H130V692H129V740H128V774H127V755H126V657H125V646H124V818H123V724H122V847H121V771H120V801H119V844H118V663H117V711H116V810H115V804H114V830H113V742H112V700H111V800H110V710H109V855H108V729H107V849H106V767H105V896H104V644H103V897H102V841H101V727H100V878H99V719H98V729H97V876H96V812H95V803H94V794H93V912H92V610H91V842H90V945H89V699H88V740H87V696H86V744H85V772H84V844H83V861H82V869H81V775H80V673H79V784H78V635H77V833H76V643H75V707H74V750H73V860H72V739H71V658H70V602H69V843H68V893H67V890H66V825H65V845H64V868H63V790H62V719H61V926H60V677H59V741H58V909H57V782H56V898H55V677H54V887H53V730H52V646H51V709H50V746H49V786H48V744H47V841H46V901H45V790H44V714H43V888H42V893H41V762H40V695H39V697H38V772H37V725H36V770H35V700H34V956H33V907H32V758H31V682H30V801H29V652H28V770H27V649H26V728H25V763H24V748H23V762H22V710H21V818H20V817H19V849H18V713H17V846H16V744H15V757H14V769H13V760H12V789H11V719H10V784H9V731H8V736H7V782H6V908H5V770H4V777H3V853H2V831H1V871H0Z" fill="#84392C"/>
<path d="M0,874H1V851H2V866H3V783H4V774H5V916H6V790H7V743H8V736H9V805H10V723H11V798H12V775H13V783H14V767H15V758H16V863H17V717H18V858H19V830H20V834H21V718H22V776H23V758H24V771H25V739H26V654H27V782H28V740H29V809H30V687H31V766H32V912H33V982H34V715H35V788H36V732H37V778H38V733H39V702H40V784H41V922H42V913H43V720H44V801H45V924H46V850H47V763H48V800H49V913H50V713H51V767H52V746H53V934H54V691H55V917H56V803H57V921H58V752H59V690H60V939H61V790H62V811H63V887H64V855H65V847H66V924H67V917H68V861H69V617H70V668H71V741H72V881H73V778H74V722H75V653H76V843H77V733H78V804H79V678H80V795H81V887H82V874H83V868H84V798H85V907H86V709H87V752H88V773H89V985H90V896H91V701H92V927H93V808H94V830H95V836H96V920H97V771H98V722H99V928H100V735H101V860H102V928H103V674H104V944H105V825H106V871H107V794H108V876H109V830H110V809H111V712H112V763H113V889H114V834H115V849H116V739H117V682H118V904H119V808H120V786H121V907H122V733H123V846H124V673H125V668H126V832H127V799H128V751H129V707H130V959H131V775H132V702H133V567H134V745H135V770H137V760H138V715H139V802H140V722H141V712H142V925H143V721H144V873H145V688H146V772H147V653H148V749H149V643H150V713H151V841H152V709H153V681H154V733H155V751H156V772H157V898H158V936H159V725H160V842H161V606H162V737H163V775H164V761H165V985H166V875H167V570H168V817H169V869H170V721H171V650H172V803H173V760H174V777H175V884H176V819H177V696H178V846H179V560H180V954H181V720H182V685H183V800H184V833H185V560H186V755H187V725H188V775H189V837H190V690H191V866H192V910H193V918H194V936H195V794H196V899H197V765H198V694H199V975H200V774H201V911H202V806H203V808H204V707H205V802H206V867H207V664H208V750H209V698H210V850H211V803H212V847H213V900H214V907H215V801H216V816H217V684H218V795H219V862H220V903H221V832H222V733H223V952H224V879H225V714H226V824H227V705H228V756H229V766H230V809H231V747H232V768H233V772H234V739H235V758H236V728H237V730H238V830H239V972H240V981H241V774H242V933H243V803H244V980H245V744H246V894H247V968H248V777H249V931H250V784H251V747H252V678H253V801H254V907H255V985H256V975H257V843H258V925H259V562H260V715H261V659H262V646H263V836H264V723H265V935H266V745H267V749H268V863H269V966H270V779H271V781H272V694H273V860H274V728H275V937H276V915H277V730H278V985H279V815H280V971H281V939H282V817H283V940H284V878H285V818H286V794H287V760H288V977H289V962H290V965H291V610H292V747H293V854H294V919H295V791H296V771H297V694H298V909H299V633H300V960H301V952H302V760H303V978H304V709H305V805H306V915H307V768H308V625H309V732H310V756H311V758H312V774H313V780H314V975H315V672H316V674H318V805H319V838H320V822H321V805H322V949H323V960H324V746H325V890H326V932H327V848H328V797H329V924H330V671H331V800H332V820H333V810H332V790H331V664H330V904H329V779H328V839H327V926H326V876H325V742H324V917H323V949H322V801H321V819H320V835H319V800H318V668H317V671H316V667H315V964H314V777H313V765H312V754H311V756H310V729H309V595H308V768H307V908H306V802H305V708H304V972H303V756H302V944H301V955H300V628H299V900H298V616H297V766H296V791H295V911H294V842H293V678H292V605H291V951H290V948H289V963H288V755H287V794H286V817H285V859H284V932H283V816H282V924H281V970H280V806H279V983H278V724H277V908H276V935H275V723H274V847H273V689H272V776H271V774H270V955H269V851H268V741H267V734H266V935H265V714H264V834H263V645H262V639H261V710H260V557H259V915H258V838H257V968H256V970H255V904H254V796H253V667H252V745H251V777H250V918H249V756H248V952H247V888H246V736H245V970H244V792H243V932H242V768H241V952H240V872H239V829H238V722H237V724H236V753H235V734H234V600H233V761H232V740H231V802H230V760H229V756H228V692H227V823H226V711H225V820H224V923H223V730H222V826H221V880H220V857H219V769H218V683H217V815H216V790H215V895H213V839H212V623H211V840H210V698H209V747H208V648H207V867H206V762H205V704H204V781H203V785H202V883H201V770H200V967H199V680H198V753H197V878H196V786H195V929H194V842H193V891H192V862H191V681H190V825H189V769H188V715H187V753H186V557H185V828H184V789H183V682H182V702H181V949H180V543H179V839H178V686H177V801H176V877H175V775H174V755H173V793H172V645H171V707H170V845H169V797H168V568H167V872H166V983H165V750H164V767H163V735H162V601H161V827H160V714H159V919H158V889H157V757H156V747H155V590H154V675H153V686H152V830H151V695H150V643H149V740H148V642H147V759H146V618H145V762H144V715H143V881H142V711H141V715H140V798H139V706H138V760H137V754H136V766H135V734H134V551H133V693H132V764H131V935H130V697H129V741H128V784H127V755H126V662H125V650H124V832H123V733H122V881H121V778H120V803H119V891H118V676H117V732H116V823H115V815H114V866H113V745H112V710H111V805H110V711H109V873H108V789H107V870H106V791H105V915H104V657H103V918H102V851H101V729H100V902H99V721H98V756H97V912H96V832H95V811H94V801H93V925H92V695H91V862H90V975H89V766H88V750H87V704H86V901H85V788H84V855H83V867H82V871H81V790H80V674H79V790H78V642H77V834H76V647H75V707H74V763H73V866H72V741H71V665H70V613H69V850H68V904H67V911H66V841H65V852H64V877H63V801H62V727H61V928H60V681H59V750H58V911H57V799H56V900H55V684H54V908H53V738H52V763H51V711H50V905H49V789H48V759H47V845H46V910H45V791H44V719H43V900H42V910H41V770H40V702H39V724H38V773H37V728H36V781H35V707H34V973H33V908H32V759H31V685H30V806H29V659H28V781H27V652H26V729H25V768H24V752H23V767H22V715H21V822H20V828H19V851H18V717H17V856H16V748H15V762H14V775H13V766H12V793H11V722H10V796H9V732H8V736H7V788H6V912H5V770H4V777H3V861H2V848H1V872H0Z" fill="#AC79BC"/>
<path d="M1,0V1000M2,0V1000M3,0V1000M4,0V1000M5,0V1000M6,0V1000M7,0V1000M8,0V1000M9,0V1000M10,0V1000M11,0V1000M12,0V1000M13,0V1000M14,0V1000M15,0V1000M16,0V1000M17,0V1000M18,0V1000M19,0V1000M20,0V1000M21,0V1000M22,0V1000M23,0V1000M24,0V1000M25,0V1000M26,0V1000M27,0V1000M28,0V1000M29,0V1000M30,0V1000M31,0V1000M32,0V1000M33,0V1000M34,0V1000M35,0V1000M36,0V1000M37,0V1000M38,0V1000M39,0V1000M40,0V1000M41,0V1000M42,0V1000M43,0V1000M44,0V1000M45,0V1000M46,0V1000M47,0V1000M48,0V1000M49,0V1000M50,0V1000M51,0V1000M52,0V1000M53,0V1000M54,0V1000M55,0V1000M56,0V1000M57,0V1000M58,0V1000M59,0V1000M60,0V1000M61,0V1000M62,0V1000M63,0V1000M64,0V1000M65,0V1000M66,0V1000M67,0V1000M68,0V1000M69,0V1000M70,0V1000M71,0V1000M72,0V1000M73,0V1000M74,0V1000M75,0V1000M76,0V1000M77,0V1000M78,0V1000M79,0V1000M80,0V1000M81,0V1000M82,0V1000M83,0V1000M84,0V1000M85,0V1000M86,0V1000M87,0V1000M88,0V1000M89,0V1000M90,0V1000M91,0V1000M92,0V1000M93,0V1000M94,0V1000M95,0V1000M96,0V1000M97,0V1000M98,0V1000M99,0V1000M100,0V1000M101,0V1000M102,0V1000M103,0V1000M104,0V1000M105,0V1000M106,0V1000M107,0V1000M108,0V1000M109,0V1000M110,0V1000M111,0V1000M112,0V1000M113,0V1000M114,0V1000M115,0V1000M116,0V1000M117,0V1000M118,0V1000M119,0V1000M120,0V1000M121,0V1000M122,0V1000M123,0V1000M124,0V1000M125,0V1000M126,0V1000M127,0V1000M128,0V1000M129,0V1000M130,0V1000M131,0V1000M132,0V1000M133,0V1000M134,0V1000M135,0V1000M136,0V1000M137,0V1000M138,0V1000M139,0V1000M140,0V1000M141,0V1000M142,0V1000M143,0V1000M144,0V1000M145,0V1000M146,0V1000M147,0V1000M148,0V1000M149,0V1000M150,0V1000M151,0V1000M152,0V1000M153,0V1000M154,0V1000M155,0V1000M156,0V1000M157,0V1000M158,0V1000M159,0V1000M160,0V1000M161,0V1000M162,0V1000M163,0V1000M164,0V1000M165,0V1000M166,0V1000M167,0V1000M168,0V1000M169,0V1000M170,0V1000M171,0V1000M172,0V1000M173,0V1000M174,0V1000M175,0V1000M176,0V1000M177,0V1000M178,0V1000M179,0V1000M180,0V1000M181,0V1000M182,0V1000M183,0V1000M184,0V1000M185,0V1000M186,0V1000M187,0V1000M188,0V1000M189,0V1000M190,0V1000M191,0V1000M192,0V1000M193,0V1000M194,0V1000M195,0V1000M196,0V1000M197,0V1000M198,0V1000M199,0V1000M200,0V1000M201,0V1000M202,0V1000M203,0V1000M204,0V1000M205,0V1000M206,0V1000M207,0V1000M208,0V1000M209,0V1000M210,0V1000M211,0V1000M212,0V1000M213,0V1000M214,0V1000M215,0V1000M216,0V1000M217,0V1000M218,0V1000M219,0V1000M220,0V1000M221,0V1000M222,0V1000M223,0V1000M224,0V1000M225,0V1000M226,0V1000M227,0V1000M228,0V1000M229,0V1000M230,0V1000M231,0V1000M232,0V1000M233,0V1000M234,0V1000M235,0V1000M236,0V1000M237,0V1000M238,0V1000M239,0V1000M240,0V1000M241,0V1000M242,0V1000M243,0V1000M244,0V1000M245,0V1000M246,0V1000M247,0V1000M248,0V1000M249,0V1000M250,0V1000M251,0V1000M252,0V1000M253,0V1000M254,0V1000M255,0V1000M256,0V1000M257,0V1000M258,0V1000M259,0V1000M260,0V1000M261,0V1000M262,0V1000M263,0V1000M264,0V1000M265,0V1000M266,0V1000M267,0V1000M268,0V1000M269,0V1000M270,0V1000M271,0V1000M272,0V1000M273,0V1000M274,0V1000M275,0V1000M276,0V1000M277,0V1000M278,0V1000M279,0V1000M280,0V1000M281,0V1000M282,0V1000M283,0V1000M284,0V1000M285,0V1000M286,0V1000M287,0V1000M288,0V1000M289,0V1000M290,0V1000M291,0V1000M292,0V1000M293,0V1000M294,0V1000M295,0V1000M296,0V1000M297,0V1000M298,0V1000M299,0V1000M300,0V1000M301,0V1000M302,0V1000M303,0V1000M304,0V1000M305,0V1000M306,0V1000M307,0V1000M308,0V1000M309,0V1000M310,0V1000M311,0V1000M312,0V1000M313,0V1000M314,0V1000M315,0V1000M316,0V1000M317,0V1000M318,0V1000M319,0V1000M320,0V1000M321,0V1000M322,0V1000M323,0V1000M324,0V1000M325,0V1000M326,0V1000M327,0V1000M328,0V1000M329,0V1000M330,0V1000M331,0V1000M332,0V1000" stroke="#fff" stroke-opacity="0.5" stroke-width="0.16" fill="none"/>
</g>
<line x1="366.50" y1="25.40" x2="366.50" y2="178.50" stroke="#4d4d4d" stroke-width="1"/>
<line x1="364.10" y1="171.40" x2="366.50" y2="171.40" stroke="#4d4d4d" stroke-width="0.9"/>
<text x="364.00" y="174.10" font-size="8.6" text-anchor="end" fill="#1a1a1a">0</text>
<line x1="364.10" y1="136.50" x2="366.50" y2="136.50" stroke="#4d4d4d" stroke-width="0.9"/>
<text x="364.00" y="139.20" font-size="8.6" text-anchor="end" fill="#1a1a1a">25</text>
<line x1="364.10" y1="101.60" x2="366.50" y2="101.60" stroke="#4d4d4d" stroke-width="0.9"/>
<text x="364.00" y="104.30" font-size="8.6" text-anchor="end" fill="#1a1a1a">50</text>
<line x1="364.10" y1="66.70" x2="366.50" y2="66.70" stroke="#4d4d4d" stroke-width="0.9"/>
<text x="364.00" y="69.40" font-size="8.6" text-anchor="end" fill="#1a1a1a">75</text>
<line x1="364.10" y1="31.80" x2="366.50" y2="31.80" stroke="#4d4d4d" stroke-width="0.9"/>
<text x="364.00" y="34.50" font-size="8.6" text-anchor="end" fill="#1a1a1a">100</text>
<text x="342.80" y="103.07" font-size="11.3" text-anchor="middle" fill="#1a1a1a" transform="rotate(-90 342.80 99.00)">Relative abundance (%)</text>
<text x="694.30" y="44.79" font-size="11.35" text-anchor="start" fill="#1a1a1a">Family</text>
<rect x="694.30" y="51.55" width="11.60" height="11.60" fill="#C01F27"/>
<text x="710.80" y="60.36" font-size="8.35" text-anchor="start" font-style="italic" fill="#111">Bacteroidaceae</text>
<rect x="694.30" y="64.41" width="11.60" height="11.60" fill="#1B8840"/>
<text x="710.80" y="73.22" font-size="8.35" text-anchor="start" font-style="italic" fill="#111">Prevotellaceae</text>
<rect x="694.30" y="77.27" width="11.60" height="11.60" fill="#CB8D07"/>
<text x="710.80" y="86.08" font-size="8.35" text-anchor="start" font-style="italic" fill="#111">Ruminococcaceae</text>
<rect x="694.30" y="90.13" width="11.60" height="11.60" fill="#FDE3C7"/>
<text x="710.80" y="98.94" font-size="8.35" text-anchor="start" font-style="italic" fill="#111">Lachnospiraceae</text>
<rect x="694.30" y="102.99" width="11.60" height="11.60" fill="#8CA322"/>
<text x="710.80" y="111.80" font-size="8.35" text-anchor="start" font-style="italic" fill="#111">Oscillospiraceae</text>
<rect x="694.30" y="115.85" width="11.60" height="11.60" fill="#EA7169"/>
<text x="710.80" y="124.66" font-size="8.35" text-anchor="start" font-style="italic" fill="#111">Enterobacteriaceae</text>
<rect x="694.30" y="128.71" width="11.60" height="11.60" fill="#84392C"/>
<text x="710.80" y="137.52" font-size="8.35" text-anchor="start" font-style="italic" fill="#111">Akkermansiaceae</text>
<rect x="694.30" y="141.57" width="11.60" height="11.60" fill="#AC79BC"/>
<text x="710.80" y="150.38" font-size="8.35" text-anchor="start" font-style="italic" fill="#111">Fusobacteriaceae</text>
<rect x="694.30" y="154.43" width="11.60" height="11.60" fill="#E6E6E6"/>
<text x="710.80" y="163.24" font-size="8.35" text-anchor="start" fill="#111">Others</text>
<text x="5.20" y="201.95" font-size="16.8" text-anchor="start" fill="#1a1a1a">C</text>
<text x="99.20" y="205.70" font-size="12.5" text-anchor="middle" fill="#1a1a1a">Enterotype</text>
<line x1="34.15" y1="221.20" x2="34.15" y2="246.60" stroke="#4d4d4d" stroke-width="1"/>
<line x1="33.65" y1="246.10" x2="166.00" y2="246.10" stroke="#4d4d4d" stroke-width="1"/>
<line x1="34.15" y1="253.30" x2="34.15" y2="385.70" stroke="#4d4d4d" stroke-width="1"/>
<line x1="33.65" y1="385.20" x2="166.00" y2="385.20" stroke="#4d4d4d" stroke-width="1"/>
<line x1="170.60" y1="253.30" x2="170.60" y2="385.70" stroke="#4d4d4d" stroke-width="1"/>
<line x1="170.10" y1="385.20" x2="196.10" y2="385.20" stroke="#4d4d4d" stroke-width="1"/>
<text x="23.90" y="324.07" font-size="12.7" text-anchor="middle" fill="#1a1a1a" transform="rotate(-90 23.90 319.50)">PCo2 (4.28%)</text>
<text x="104.60" y="399.70" font-size="12.5" text-anchor="middle" fill="#1a1a1a">PCo1 (7.84%)</text>
<text x="26.40" y="236.38" font-size="9.4" text-anchor="middle" fill="#1a1a1a" transform="rotate(-90 26.40 233.00)">Abund.</text>
<text x="183.50" y="397.78" font-size="9.4" text-anchor="middle" fill="#1a1a1a">Abund.</text>
<text x="38.20" y="221.06" font-size="8.5" text-anchor="start" font-style="italic" fill="#1B8840">Prevotella</text>
<text x="112.60" y="221.06" font-size="8.5" text-anchor="start" font-style="italic" fill="#C5242B">Bacteroides</text>
<path d="M39.7,224.7 C42.7,225.3 51.7,226.9 57.5,228.1 C63.3,229.3 69.0,230.6 74.7,231.8 C80.5,233.0 87.2,234.3 92.0,235.3 C96.8,236.3 99.6,236.9 103.4,237.6 C107.2,238.3 110.6,238.9 114.9,239.6 C119.2,240.3 124.5,241.0 129.3,241.6 C134.1,242.2 138.5,242.7 143.7,243.0 C148.9,243.3 157.5,243.2 160.3,243.3" fill="none" stroke="#1B8840" stroke-width="1.0"/>
<path d="M39.7,242.5 C42.7,242.4 51.7,242.4 57.5,242.2 C63.3,241.9 69.0,241.5 74.7,241.0 C80.5,240.5 87.2,239.8 92.0,239.3 C96.8,238.8 99.6,238.5 103.4,237.9 C107.2,237.3 110.6,236.8 114.9,235.9 C119.2,235.0 124.5,233.7 129.3,232.4 C134.1,231.2 138.5,229.8 143.7,228.4 C148.9,227.0 157.5,224.6 160.3,223.8" fill="none" stroke="#C5242B" stroke-width="1.0"/>
<path d="M172.8,259.3 C173.9,261.3 177.2,267.1 179.6,271.5 C181.9,275.9 184.9,281.0 186.6,285.8 C188.3,290.6 189.2,295.7 189.7,300.1 C190.2,304.5 190.4,307.2 189.7,312.3 C189.0,317.4 186.8,324.2 185.3,330.7 C183.7,337.2 182.0,345.0 180.5,351.1 C179.1,357.2 177.8,362.8 176.7,367.4 C175.7,372.0 174.8,376.8 174.4,378.7 L181.6,378.7 C181.7,376.8 181.6,372.0 182.1,367.4 C182.5,362.8 183.3,357.2 184.3,351.1 C185.2,345.0 186.5,337.2 187.7,330.7 C188.9,324.2 190.7,317.4 191.5,312.3 C192.3,307.2 192.4,304.5 192.3,300.1 C192.1,295.7 191.7,290.6 190.6,285.8 C189.4,281.0 186.9,275.9 185.2,271.5 C183.6,267.1 181.4,261.3 180.6,259.3Z" fill="#1B8840" fill-opacity="0.16"/>
<path d="M186.0,259.3 C185.9,262.0 185.8,269.5 185.5,275.6 C185.2,281.7 184.4,289.9 184.2,296.0 C183.9,302.1 183.8,306.5 183.8,312.3 C183.8,318.1 184.5,324.2 184.5,330.7 C184.4,337.2 183.7,345.0 183.2,351.1 C182.8,357.2 182.4,362.8 182.0,367.4 C181.5,372.0 180.7,376.8 180.5,378.7 L187.7,378.7 C187.6,376.8 187.2,372.0 187.0,367.4 C186.8,362.8 186.6,357.2 186.6,351.1 C186.5,345.0 186.6,337.2 186.5,330.7 C186.5,324.2 185.8,318.1 186.0,312.3 C186.2,306.5 187.1,302.1 188.0,296.0 C189.0,289.9 190.5,281.7 191.7,275.6 C192.9,269.5 194.6,262.0 195.2,259.3Z" fill="#C5242B" fill-opacity="0.13"/>
<path d="M176.7,259.3 C177.6,261.3 180.4,267.1 182.4,271.5 C184.4,275.9 187.2,281.0 188.6,285.8 C190.0,290.6 190.7,295.7 191.0,300.1 C191.3,304.5 191.3,307.2 190.6,312.3 C189.8,317.4 187.9,324.2 186.5,330.7 C185.1,337.2 183.6,345.0 182.4,351.1 C181.2,357.2 180.1,362.8 179.4,367.4 C178.7,372.0 178.2,376.8 178.0,378.7" fill="none" stroke="#1B8840" stroke-width="1.0"/>
<path d="M190.6,259.3 C190.3,262.0 189.3,269.5 188.6,275.6 C187.8,281.7 186.7,289.9 186.1,296.0 C185.5,302.1 185.0,306.5 184.9,312.3 C184.8,318.1 185.5,324.2 185.5,330.7 C185.5,337.2 185.1,345.0 184.9,351.1 C184.7,357.2 184.6,362.8 184.5,367.4 C184.4,372.0 184.2,376.8 184.1,378.7" fill="none" stroke="#C5242B" stroke-width="1.0"/>
<ellipse cx="91.1" cy="334.9" rx="46.1" ry="21.4" transform="rotate(41.3 91.1 334.9)" fill="#1B8840" fill-opacity="0.10" stroke="#1B8840" stroke-width="0.5"/>
<ellipse cx="136.3" cy="306.1" rx="17.1" ry="39.6" transform="rotate(6.1 136.3 306.1)" fill="#C5242B" fill-opacity="0.08" stroke="#C5242B" stroke-width="0.5"/>
<path d="M91.7,334.0L73.2,318.4M91.7,334.0L75.0,345.9M91.7,334.0L63.4,317.0M91.7,334.0L82.3,351.8M91.7,334.0L67.2,291.1M91.7,334.0L85.4,340.3M91.7,334.0L108.6,328.7M91.7,334.0L103.2,367.4M91.7,334.0L82.6,346.6M91.7,334.0L43.3,299.4M91.7,334.0L137.4,343.9M91.7,334.0L110.8,339.0M91.7,334.0L80.3,341.2M91.7,334.0L125.1,354.6M91.7,334.0L125.6,343.2M91.7,334.0L65.6,334.3M91.7,334.0L77.7,324.3M91.7,334.0L61.0,334.8M91.7,334.0L122.9,326.5M91.7,334.0L75.4,283.7M91.7,334.0L81.0,329.0M91.7,334.0L47.1,322.2M91.7,334.0L59.2,324.4M91.7,334.0L101.2,334.1M91.7,334.0L109.3,342.3M91.7,334.0L72.8,331.9M91.7,334.0L47.7,302.1M91.7,334.0L119.3,351.5M91.7,334.0L121.5,365.4M91.7,334.0L116.6,365.4M91.7,334.0L91.5,331.9M91.7,334.0L74.3,330.1M91.7,334.0L72.8,318.1M91.7,334.0L119.1,336.3M91.7,334.0L114.4,368.5M91.7,334.0L79.3,291.7M91.7,334.0L87.2,346.4M91.7,334.0L51.5,320.2M91.7,334.0L89.3,342.1M91.7,334.0L76.1,348.7M91.7,334.0L96.9,321.4M91.7,334.0L67.4,318.9M91.7,334.0L115.3,352.2M91.7,334.0L70.1,310.8M91.7,334.0L46.2,313.3M91.7,334.0L68.3,320.4M91.7,334.0L107.2,336.3M91.7,334.0L48.6,317.7M91.7,334.0L134.9,323.4M91.7,334.0L124.2,348.4M91.7,334.0L110.4,359.1M91.7,334.0L71.4,327.4M91.7,334.0L55.1,291.6M91.7,334.0L99.6,356.4M91.7,334.0L119.8,345.3M91.7,334.0L113.0,343.5M91.7,334.0L61.6,299.0M91.7,334.0L82.8,344.4M91.7,334.0L91.1,319.8M91.7,334.0L124.2,362.4M91.7,334.0L71.9,321.8M91.7,334.0L107.0,379.4M91.7,334.0L100.5,334.1M91.7,334.0L113.9,360.9M91.7,334.0L104.1,329.6M91.7,334.0L106.3,347.0M91.7,334.0L78.7,310.8M91.7,334.0L68.3,309.3M91.7,334.0L60.9,344.6M91.7,334.0L96.6,347.5M91.7,334.0L59.5,275.9M91.7,334.0L53.1,309.3M91.7,334.0L113.9,347.8M91.7,334.0L64.0,289.1M91.7,334.0L119.8,322.2M91.7,334.0L72.9,321.6M91.7,334.0L79.3,322.2M91.7,334.0L92.7,298.5M91.7,334.0L100.0,350.4M91.7,334.0L112.6,377.4M91.7,334.0L87.5,341.4M91.7,334.0L96.9,357.1M91.7,334.0L84.8,327.4M91.7,334.0L122.2,358.7M91.7,334.0L128.2,321.6M91.7,334.0L71.2,311.5M91.7,334.0L121.1,337.8M91.7,334.0L56.7,321.1M91.7,334.0L89.6,345.5M91.7,334.0L121.1,349.3M91.7,334.0L98.8,372.1M91.7,334.0L124.8,356.0M91.7,334.0L116.6,358.7M91.7,334.0L79.3,287.4M91.7,334.0L59.5,312.1M91.7,334.0L99.1,356.4M91.7,334.0L107.2,357.3M91.7,334.0L110.8,362.7M91.7,334.0L48.2,318.4M91.7,334.0L99.2,371.9M91.7,334.0L55.8,316.1M91.7,334.0L71.7,335.4M91.7,334.0L67.4,318.8M91.7,334.0L56.2,302.5M91.7,334.0L146.1,323.8M91.7,334.0L66.0,292.4M91.7,334.0L86.4,323.6M91.7,334.0L117.1,345.3M91.7,334.0L123.3,324.4M91.7,334.0L106.8,355.5M91.7,334.0L107.7,349.7M91.7,334.0L124.7,352.4M91.7,334.0L69.6,329.4M91.7,334.0L50.2,306.1M91.7,334.0L54.9,323.1M91.7,334.0L65.2,326.0M91.7,334.0L135.4,320.2M91.7,334.0L52.8,293.6M91.7,334.0L77.2,327.4M91.7,334.0L103.2,349.3M91.7,334.0L140.8,321.8M91.7,334.0L62.5,313.3M91.7,334.0L64.3,344.8M91.7,334.0L53.1,303.7M91.7,334.0L46.8,277.7M91.7,334.0L69.2,339.4M91.7,334.0L128.5,343.9M91.7,334.0L95.1,372.1M91.7,334.0L103.2,352.9M91.7,334.0L78.1,341.9M91.7,334.0L61.1,270.4M91.7,334.0L139.9,326.9M91.7,334.0L87.5,349.5M91.7,334.0L72.8,293.5M91.7,334.0L119.8,341.2M91.7,334.0L60.5,296.0M91.7,334.0L84.4,332.5M91.7,334.0L73.6,335.4M91.7,334.0L47.1,311.5M91.7,334.0L150.9,318.1M91.7,334.0L103.7,331.0M91.7,334.0L110.4,324.4M91.7,334.0L61.8,337.4M91.7,334.0L91.1,341.4M91.7,334.0L96.2,367.4M91.7,334.0L89.0,331.4M91.7,334.0L106.1,270.7M91.7,334.0L91.3,334.7M91.7,334.0L120.2,339.4M91.7,334.0L63.4,318.0M91.7,334.0L130.9,335.0M91.7,334.0L105.5,335.9M91.7,334.0L105.9,321.8M91.7,334.0L39.7,302.1M91.7,334.0L58.3,313.3M91.7,334.0L113.0,371.9M91.7,334.0L112.2,364.5M91.7,334.0L58.9,290.4M91.7,334.0L118.0,329.9M91.7,334.0L75.9,331.4M91.7,334.0L47.0,304.1M91.7,334.0L99.1,321.4M91.7,334.0L54.2,298.3M91.7,334.0L95.1,325.9M91.7,334.0L69.2,299.9M91.7,334.0L126.0,326.9M91.7,334.0L71.9,329.4M91.7,334.0L109.3,340.3M91.7,334.0L95.1,346.8M91.7,334.0L147.3,321.8M91.7,334.0L131.1,332.3M91.7,334.0L118.0,342.1M91.7,334.0L59.5,329.4M91.7,334.0L110.4,353.7M91.7,334.0L86.6,353.1M91.7,334.0L74.3,316.4M91.7,334.0L56.9,287.5M91.7,334.0L62.9,324.4M91.7,334.0L106.3,365.6M91.7,334.0L106.3,369.1M91.7,334.0L91.1,362.2M91.7,334.0L116.6,324.4M91.7,334.0L68.1,300.9M91.7,334.0L116.6,347.9M91.7,334.0L56.2,318.4M91.7,334.0L66.0,313.3M91.7,334.0L140.6,329.9M91.7,334.0L106.8,360.7M91.7,334.0L81.9,339.4M91.7,334.0L122.9,330.1M91.7,334.0L124.0,364.3M91.7,334.0L118.6,361.1M91.7,334.0L91.7,339.0M91.7,334.0L77.0,294.4M91.7,334.0L105.2,373.4M91.7,334.0L89.9,311.7M91.7,334.0L77.7,335.0M91.7,334.0L142.5,321.6M91.7,334.0L97.3,354.4M91.7,334.0L101.0,344.8M91.7,334.0L104.6,339.4M91.7,334.0L112.2,335.9M91.7,334.0L117.3,356.4M91.7,334.0L56.7,318.9M91.7,334.0L109.0,353.5M91.7,334.0L83.5,355.4M91.7,334.0L62.0,326.5M91.7,334.0L117.5,354.2M91.7,334.0L75.2,314.8M91.7,334.0L100.0,344.8M91.7,334.0L63.4,314.2M91.7,334.0L80.2,283.2M91.7,334.0L100.4,350.4M91.7,334.0L133.2,344.8M91.7,334.0L103.2,336.8M91.7,334.0L77.4,311.9M91.7,334.0L70.1,314.8M91.7,334.0L104.6,309.2M91.7,334.0L110.8,349.3M91.7,334.0L91.5,319.3M91.7,334.0L109.5,362.1M91.7,334.0L99.2,321.6M91.7,334.0L142.4,332.3" fill="none" stroke="#1B8840" stroke-width="0.55"/>
<path d="M72.6,317.8h1.2v1.2h-1.2zM74.4,345.3h1.2v1.2h-1.2zM62.8,316.4h1.2v1.2h-1.2zM81.7,351.2h1.2v1.2h-1.2zM66.6,290.5h1.2v1.2h-1.2zM84.8,339.7h1.2v1.2h-1.2zM108.0,328.1h1.2v1.2h-1.2zM102.6,366.8h1.2v1.2h-1.2zM82.0,346.0h1.2v1.2h-1.2zM42.7,298.8h1.2v1.2h-1.2zM136.8,343.3h1.2v1.2h-1.2zM110.2,338.4h1.2v1.2h-1.2zM79.7,340.6h1.2v1.2h-1.2zM124.5,354.0h1.2v1.2h-1.2zM125.0,342.6h1.2v1.2h-1.2zM65.0,333.7h1.2v1.2h-1.2zM77.1,323.7h1.2v1.2h-1.2zM60.4,334.2h1.2v1.2h-1.2zM122.3,325.9h1.2v1.2h-1.2zM74.8,283.1h1.2v1.2h-1.2zM80.4,328.4h1.2v1.2h-1.2zM46.5,321.6h1.2v1.2h-1.2zM58.6,323.8h1.2v1.2h-1.2zM100.6,333.5h1.2v1.2h-1.2zM108.7,341.7h1.2v1.2h-1.2zM72.2,331.3h1.2v1.2h-1.2zM47.1,301.5h1.2v1.2h-1.2zM118.7,350.9h1.2v1.2h-1.2zM120.9,364.8h1.2v1.2h-1.2zM116.0,364.8h1.2v1.2h-1.2zM90.9,331.3h1.2v1.2h-1.2zM73.7,329.5h1.2v1.2h-1.2zM72.2,317.5h1.2v1.2h-1.2zM118.5,335.7h1.2v1.2h-1.2zM113.8,367.9h1.2v1.2h-1.2zM78.7,291.1h1.2v1.2h-1.2zM86.6,345.8h1.2v1.2h-1.2zM50.9,319.6h1.2v1.2h-1.2zM88.7,341.5h1.2v1.2h-1.2zM75.5,348.1h1.2v1.2h-1.2zM96.3,320.8h1.2v1.2h-1.2zM66.8,318.3h1.2v1.2h-1.2zM114.7,351.6h1.2v1.2h-1.2zM69.5,310.2h1.2v1.2h-1.2zM45.6,312.7h1.2v1.2h-1.2zM67.7,319.8h1.2v1.2h-1.2zM106.6,335.7h1.2v1.2h-1.2zM48.0,317.1h1.2v1.2h-1.2zM134.3,322.8h1.2v1.2h-1.2zM123.6,347.8h1.2v1.2h-1.2zM109.8,358.5h1.2v1.2h-1.2zM70.8,326.8h1.2v1.2h-1.2zM54.5,291.0h1.2v1.2h-1.2zM99.0,355.8h1.2v1.2h-1.2zM119.2,344.7h1.2v1.2h-1.2zM112.4,342.9h1.2v1.2h-1.2zM61.0,298.4h1.2v1.2h-1.2zM82.2,343.8h1.2v1.2h-1.2zM90.5,319.2h1.2v1.2h-1.2zM123.6,361.8h1.2v1.2h-1.2zM71.3,321.2h1.2v1.2h-1.2zM106.4,378.8h1.2v1.2h-1.2zM99.9,333.5h1.2v1.2h-1.2zM113.3,360.3h1.2v1.2h-1.2zM103.5,329.0h1.2v1.2h-1.2zM105.7,346.4h1.2v1.2h-1.2zM78.1,310.2h1.2v1.2h-1.2zM67.7,308.7h1.2v1.2h-1.2zM60.3,344.0h1.2v1.2h-1.2zM96.0,346.9h1.2v1.2h-1.2zM58.9,275.3h1.2v1.2h-1.2zM52.5,308.7h1.2v1.2h-1.2zM113.3,347.2h1.2v1.2h-1.2zM63.4,288.5h1.2v1.2h-1.2zM119.2,321.6h1.2v1.2h-1.2zM72.3,321.0h1.2v1.2h-1.2zM78.7,321.6h1.2v1.2h-1.2zM92.1,297.9h1.2v1.2h-1.2zM99.4,349.8h1.2v1.2h-1.2zM112.0,376.8h1.2v1.2h-1.2zM86.9,340.8h1.2v1.2h-1.2zM96.3,356.5h1.2v1.2h-1.2zM84.2,326.8h1.2v1.2h-1.2zM121.6,358.1h1.2v1.2h-1.2zM127.6,321.0h1.2v1.2h-1.2zM70.6,310.9h1.2v1.2h-1.2zM120.5,337.2h1.2v1.2h-1.2zM56.1,320.5h1.2v1.2h-1.2zM89.0,344.9h1.2v1.2h-1.2zM120.5,348.7h1.2v1.2h-1.2zM98.2,371.5h1.2v1.2h-1.2zM124.2,355.4h1.2v1.2h-1.2zM116.0,358.1h1.2v1.2h-1.2zM78.7,286.8h1.2v1.2h-1.2zM58.9,311.5h1.2v1.2h-1.2zM98.5,355.8h1.2v1.2h-1.2zM106.6,356.7h1.2v1.2h-1.2zM110.2,362.1h1.2v1.2h-1.2zM47.6,317.8h1.2v1.2h-1.2zM98.6,371.3h1.2v1.2h-1.2zM55.2,315.5h1.2v1.2h-1.2zM71.1,334.8h1.2v1.2h-1.2zM66.8,318.2h1.2v1.2h-1.2zM55.6,301.9h1.2v1.2h-1.2zM145.5,323.2h1.2v1.2h-1.2zM65.4,291.8h1.2v1.2h-1.2zM85.8,323.0h1.2v1.2h-1.2zM116.5,344.7h1.2v1.2h-1.2zM122.7,323.8h1.2v1.2h-1.2zM106.2,354.9h1.2v1.2h-1.2zM107.1,349.1h1.2v1.2h-1.2zM124.1,351.8h1.2v1.2h-1.2zM69.0,328.8h1.2v1.2h-1.2zM49.6,305.5h1.2v1.2h-1.2zM54.3,322.5h1.2v1.2h-1.2zM64.6,325.4h1.2v1.2h-1.2zM134.8,319.6h1.2v1.2h-1.2zM52.2,293.0h1.2v1.2h-1.2zM76.6,326.8h1.2v1.2h-1.2zM102.6,348.7h1.2v1.2h-1.2zM140.2,321.2h1.2v1.2h-1.2zM61.9,312.7h1.2v1.2h-1.2zM63.7,344.2h1.2v1.2h-1.2zM52.5,303.1h1.2v1.2h-1.2zM46.2,277.1h1.2v1.2h-1.2zM68.6,338.8h1.2v1.2h-1.2zM127.9,343.3h1.2v1.2h-1.2zM94.5,371.5h1.2v1.2h-1.2zM102.6,352.3h1.2v1.2h-1.2zM77.5,341.3h1.2v1.2h-1.2zM60.5,269.8h1.2v1.2h-1.2zM139.3,326.3h1.2v1.2h-1.2zM86.9,348.9h1.2v1.2h-1.2zM72.2,292.9h1.2v1.2h-1.2zM119.2,340.6h1.2v1.2h-1.2zM59.9,295.4h1.2v1.2h-1.2zM83.8,331.9h1.2v1.2h-1.2zM73.0,334.8h1.2v1.2h-1.2zM46.5,310.9h1.2v1.2h-1.2zM150.3,317.5h1.2v1.2h-1.2zM103.1,330.4h1.2v1.2h-1.2zM109.8,323.8h1.2v1.2h-1.2zM61.2,336.8h1.2v1.2h-1.2zM90.5,340.8h1.2v1.2h-1.2zM95.6,366.8h1.2v1.2h-1.2zM88.4,330.8h1.2v1.2h-1.2zM105.5,270.1h1.2v1.2h-1.2zM90.7,334.1h1.2v1.2h-1.2zM119.6,338.8h1.2v1.2h-1.2zM62.8,317.4h1.2v1.2h-1.2zM130.3,334.4h1.2v1.2h-1.2zM104.9,335.3h1.2v1.2h-1.2zM105.3,321.2h1.2v1.2h-1.2zM39.1,301.5h1.2v1.2h-1.2zM57.7,312.7h1.2v1.2h-1.2zM112.4,371.3h1.2v1.2h-1.2zM111.6,363.9h1.2v1.2h-1.2zM58.3,289.8h1.2v1.2h-1.2zM117.4,329.3h1.2v1.2h-1.2zM75.3,330.8h1.2v1.2h-1.2zM46.4,303.5h1.2v1.2h-1.2zM98.5,320.8h1.2v1.2h-1.2zM53.6,297.7h1.2v1.2h-1.2zM94.5,325.3h1.2v1.2h-1.2zM68.6,299.3h1.2v1.2h-1.2zM125.4,326.3h1.2v1.2h-1.2zM71.3,328.8h1.2v1.2h-1.2zM108.7,339.7h1.2v1.2h-1.2zM94.5,346.2h1.2v1.2h-1.2zM146.7,321.2h1.2v1.2h-1.2zM130.5,331.7h1.2v1.2h-1.2zM117.4,341.5h1.2v1.2h-1.2zM58.9,328.8h1.2v1.2h-1.2zM109.8,353.1h1.2v1.2h-1.2zM86.0,352.5h1.2v1.2h-1.2zM73.7,315.8h1.2v1.2h-1.2zM56.3,286.9h1.2v1.2h-1.2zM62.3,323.8h1.2v1.2h-1.2zM105.7,365.0h1.2v1.2h-1.2zM105.7,368.5h1.2v1.2h-1.2zM90.5,361.6h1.2v1.2h-1.2zM116.0,323.8h1.2v1.2h-1.2zM67.5,300.3h1.2v1.2h-1.2zM116.0,347.3h1.2v1.2h-1.2zM55.6,317.8h1.2v1.2h-1.2zM65.4,312.7h1.2v1.2h-1.2zM140.0,329.3h1.2v1.2h-1.2zM106.2,360.1h1.2v1.2h-1.2zM81.3,338.8h1.2v1.2h-1.2zM122.3,329.5h1.2v1.2h-1.2zM123.4,363.7h1.2v1.2h-1.2zM118.0,360.5h1.2v1.2h-1.2zM91.1,338.4h1.2v1.2h-1.2zM76.4,293.8h1.2v1.2h-1.2zM104.6,372.8h1.2v1.2h-1.2zM89.3,311.1h1.2v1.2h-1.2zM77.1,334.4h1.2v1.2h-1.2zM141.9,321.0h1.2v1.2h-1.2zM96.7,353.8h1.2v1.2h-1.2zM100.4,344.2h1.2v1.2h-1.2zM104.0,338.8h1.2v1.2h-1.2zM111.6,335.3h1.2v1.2h-1.2zM116.7,355.8h1.2v1.2h-1.2zM56.1,318.3h1.2v1.2h-1.2zM108.4,352.9h1.2v1.2h-1.2zM82.9,354.8h1.2v1.2h-1.2zM61.4,325.9h1.2v1.2h-1.2zM116.9,353.6h1.2v1.2h-1.2zM74.6,314.2h1.2v1.2h-1.2zM99.4,344.2h1.2v1.2h-1.2zM62.8,313.6h1.2v1.2h-1.2zM79.6,282.6h1.2v1.2h-1.2zM99.8,349.8h1.2v1.2h-1.2zM132.6,344.2h1.2v1.2h-1.2zM102.6,336.2h1.2v1.2h-1.2zM76.8,311.3h1.2v1.2h-1.2zM69.5,314.2h1.2v1.2h-1.2zM104.0,308.6h1.2v1.2h-1.2zM110.2,348.7h1.2v1.2h-1.2zM90.9,318.7h1.2v1.2h-1.2zM108.9,361.5h1.2v1.2h-1.2zM98.6,321.0h1.2v1.2h-1.2zM141.8,331.7h1.2v1.2h-1.2z" fill="#1B8840"/>
<path d="M135.5,310.4L134.0,264.3M135.5,310.4L130.7,315.7M135.5,310.4L132.7,290.8M135.5,310.4L130.5,347.5M135.5,310.4L145.2,271.0M135.5,310.4L122.0,293.3M135.5,310.4L130.3,280.4M135.5,310.4L138.5,322.9M135.5,310.4L139.7,287.4M135.5,310.4L117.5,321.3M135.5,310.4L157.3,300.0M135.5,310.4L136.0,258.9M135.5,310.4L150.1,281.7M135.5,310.4L141.5,276.8M135.5,310.4L135.4,319.7M135.5,310.4L126.5,331.9M135.5,310.4L160.2,280.4M135.5,310.4L147.7,294.7M135.5,310.4L135.4,281.3M135.5,310.4L142.1,298.4M135.5,310.4L132.3,360.7M135.5,310.4L130.0,354.6M135.5,310.4L131.2,266.7M135.5,310.4L139.6,308.5M135.5,310.4L124.7,308.4M135.5,310.4L129.8,272.2M135.5,310.4L141.9,302.7M135.5,310.4L127.2,283.3M135.5,310.4L152.2,286.4M135.5,310.4L149.5,285.1M135.5,310.4L155.7,275.5M135.5,310.4L135.8,333.4M135.5,310.4L98.0,283.3M135.5,310.4L135.6,349.9M135.5,310.4L88.4,286.4M135.5,310.4L139.0,328.7M135.5,310.4L147.3,266.5M135.5,310.4L127.3,351.2M135.5,310.4L133.2,319.3M135.5,310.4L133.2,319.8M135.5,310.4L145.4,307.4M135.5,310.4L150.4,263.6M135.5,310.4L120.0,304.3M135.5,310.4L127.3,348.8M135.5,310.4L125.8,315.5M135.5,310.4L133.2,272.1M135.5,310.4L148.6,288.2M135.5,310.4L124.0,316.8M135.5,310.4L134.0,328.3M135.5,310.4L147.0,284.4M135.5,310.4L88.4,295.4M135.5,310.4L115.1,312.3M135.5,310.4L147.7,275.9M135.5,310.4L131.8,277.4M135.5,310.4L86.9,287.4M135.5,310.4L150.6,318.4M135.5,310.4L132.7,346.6M135.5,310.4L152.6,288.6M135.5,310.4L127.5,332.3M135.5,310.4L137.2,270.7M135.5,310.4L130.0,325.1M135.5,310.4L147.0,285.7M135.5,310.4L128.2,326.9M135.5,310.4L140.8,311.9M135.5,310.4L142.5,309.2M135.5,310.4L129.1,303.4M135.5,310.4L114.2,294.7M135.5,310.4L136.1,283.3M135.5,310.4L144.6,315.9M135.5,310.4L141.9,294.0M135.5,310.4L142.5,277.7M135.5,310.4L117.1,311.5M135.5,310.4L107.2,291.3M135.5,310.4L149.5,294.0M135.5,310.4L139.2,291.1M135.5,310.4L127.2,346.8M135.5,310.4L134.3,328.1" fill="none" stroke="#C5242B" stroke-width="0.55"/>
<path d="M133.4,263.7h1.2v1.2h-1.2zM130.1,315.1h1.2v1.2h-1.2zM132.1,290.2h1.2v1.2h-1.2zM129.9,346.9h1.2v1.2h-1.2zM144.6,270.4h1.2v1.2h-1.2zM121.4,292.7h1.2v1.2h-1.2zM129.7,279.8h1.2v1.2h-1.2zM137.9,322.3h1.2v1.2h-1.2zM139.1,286.8h1.2v1.2h-1.2zM116.9,320.7h1.2v1.2h-1.2zM156.7,299.4h1.2v1.2h-1.2zM135.4,258.3h1.2v1.2h-1.2zM149.5,281.1h1.2v1.2h-1.2zM140.9,276.2h1.2v1.2h-1.2zM134.8,319.1h1.2v1.2h-1.2zM125.9,331.3h1.2v1.2h-1.2zM159.6,279.8h1.2v1.2h-1.2zM147.1,294.1h1.2v1.2h-1.2zM134.8,280.7h1.2v1.2h-1.2zM141.5,297.8h1.2v1.2h-1.2zM131.7,360.1h1.2v1.2h-1.2zM129.4,354.0h1.2v1.2h-1.2zM130.6,266.1h1.2v1.2h-1.2zM139.0,307.9h1.2v1.2h-1.2zM124.1,307.8h1.2v1.2h-1.2zM129.2,271.6h1.2v1.2h-1.2zM141.3,302.1h1.2v1.2h-1.2zM126.6,282.7h1.2v1.2h-1.2zM151.6,285.8h1.2v1.2h-1.2zM148.9,284.5h1.2v1.2h-1.2zM155.1,274.9h1.2v1.2h-1.2zM135.2,332.8h1.2v1.2h-1.2zM97.4,282.7h1.2v1.2h-1.2zM135.0,349.3h1.2v1.2h-1.2zM87.8,285.8h1.2v1.2h-1.2zM138.4,328.1h1.2v1.2h-1.2zM146.7,265.9h1.2v1.2h-1.2zM126.7,350.6h1.2v1.2h-1.2zM132.6,318.7h1.2v1.2h-1.2zM132.6,319.2h1.2v1.2h-1.2zM144.8,306.8h1.2v1.2h-1.2zM149.8,263.0h1.2v1.2h-1.2zM119.4,303.7h1.2v1.2h-1.2zM126.7,348.2h1.2v1.2h-1.2zM125.2,314.9h1.2v1.2h-1.2zM132.6,271.5h1.2v1.2h-1.2zM148.0,287.6h1.2v1.2h-1.2zM123.4,316.2h1.2v1.2h-1.2zM133.4,327.7h1.2v1.2h-1.2zM146.4,283.8h1.2v1.2h-1.2zM87.8,294.8h1.2v1.2h-1.2zM114.5,311.7h1.2v1.2h-1.2zM147.1,275.3h1.2v1.2h-1.2zM131.2,276.8h1.2v1.2h-1.2zM86.3,286.8h1.2v1.2h-1.2zM150.0,317.8h1.2v1.2h-1.2zM132.1,346.0h1.2v1.2h-1.2zM152.0,288.0h1.2v1.2h-1.2zM126.9,331.7h1.2v1.2h-1.2zM136.6,270.1h1.2v1.2h-1.2zM129.4,324.5h1.2v1.2h-1.2zM146.4,285.1h1.2v1.2h-1.2zM127.6,326.3h1.2v1.2h-1.2zM140.2,311.3h1.2v1.2h-1.2zM141.9,308.6h1.2v1.2h-1.2zM128.5,302.8h1.2v1.2h-1.2zM113.6,294.1h1.2v1.2h-1.2zM135.5,282.7h1.2v1.2h-1.2zM144.0,315.3h1.2v1.2h-1.2zM141.3,293.4h1.2v1.2h-1.2zM141.9,277.1h1.2v1.2h-1.2zM116.5,310.9h1.2v1.2h-1.2zM106.6,290.7h1.2v1.2h-1.2zM148.9,293.4h1.2v1.2h-1.2zM138.6,290.5h1.2v1.2h-1.2zM126.6,346.2h1.2v1.2h-1.2zM133.7,327.5h1.2v1.2h-1.2z" fill="#C5242B"/>
<circle cx="91.7" cy="334.0" r="1.2" fill="#7fc08f"/>
<circle cx="135.5" cy="310.4" r="1.2" fill="#e7a19e"/>
<text x="84.5" y="258.0" font-size="8.5" fill="#C5242B">1: <tspan font-style="italic">Bacteroides</tspan> type</text>
<text x="37.2" y="380.4" font-size="8.5" fill="#1B8840">2: <tspan font-style="italic">Prevotella</tspan> type</text>
<text x="203.60" y="201.95" font-size="16.8" text-anchor="start" fill="#1a1a1a">D</text>
<text x="288.80" y="205.70" font-size="12.5" text-anchor="middle" fill="#1a1a1a">Stage</text>
<line x1="225.50" y1="221.20" x2="225.50" y2="246.65" stroke="#4d4d4d" stroke-width="1"/>
<line x1="225.00" y1="246.15" x2="358.20" y2="246.15" stroke="#4d4d4d" stroke-width="1"/>
<line x1="225.50" y1="253.30" x2="225.50" y2="386.70" stroke="#4d4d4d" stroke-width="1"/>
<line x1="225.00" y1="386.20" x2="358.20" y2="386.20" stroke="#4d4d4d" stroke-width="1"/>
<line x1="364.60" y1="253.30" x2="364.60" y2="386.70" stroke="#4d4d4d" stroke-width="1"/>
<line x1="364.10" y1="386.20" x2="390.10" y2="386.20" stroke="#4d4d4d" stroke-width="1"/>
<text x="215.20" y="324.07" font-size="12.7" text-anchor="middle" fill="#1a1a1a" transform="rotate(-90 215.20 319.50)">PCo2 (4.28%)</text>
<text x="296.30" y="401.00" font-size="12.5" text-anchor="middle" fill="#1a1a1a">PCo1 (7.84%)</text>
<path d="M231.0,244.3 L231.0,240.4 L233.0,239.2 L235.1,237.8 L237.1,236.3 L239.1,234.8 L241.1,233.3 L243.1,231.8 L245.1,230.4 L247.1,229.2 L249.1,228.2 L251.1,227.4 L253.1,226.7 L255.1,226.2 L257.2,225.9 L259.2,225.7 L261.2,225.7 L263.2,225.9 L265.2,226.4 L267.2,227.1 L269.2,228.1 L271.2,229.3 L273.2,230.7 L275.2,232.1 L277.2,233.4 L279.3,234.5 L281.3,235.3 L283.3,235.7 L285.3,235.6 L287.3,235.2 L289.3,234.3 L291.3,233.2 L293.3,231.9 L295.3,230.6 L297.3,229.4 L299.3,228.3 L301.4,227.5 L303.4,227.0 L305.4,226.7 L307.4,226.6 L309.4,226.6 L311.4,226.7 L313.4,226.8 L315.4,226.8 L317.4,226.7 L319.4,226.6 L321.4,226.4 L323.5,226.2 L325.5,226.1 L327.5,226.1 L329.5,226.2 L331.5,226.5 L333.5,226.9 L335.5,227.6 L337.5,228.5 L339.5,229.7 L341.5,231.1 L343.5,232.6 L345.6,234.2 L347.6,235.9 L349.6,237.5 L351.6,239.0 L351.6,244.3Z" fill="#FCF1D6" fill-opacity="0.6" stroke="#efe6c8" stroke-width="0.6"/>
<path d="M231.0,244.3 L231.0,240.5 L233.0,239.8 L235.1,239.1 L237.1,238.4 L239.1,237.6 L241.1,236.7 L243.1,235.7 L245.1,234.7 L247.1,233.6 L249.1,232.5 L251.1,231.4 L253.1,230.4 L255.1,229.6 L257.2,229.0 L259.2,228.7 L261.2,228.6 L263.2,228.7 L265.2,228.9 L267.2,229.2 L269.2,229.5 L271.2,229.7 L273.2,229.7 L275.2,229.6 L277.2,229.3 L279.3,228.9 L281.3,228.3 L283.3,227.7 L285.3,226.9 L287.3,226.1 L289.3,225.3 L291.3,224.6 L293.3,224.1 L295.3,223.8 L297.3,223.7 L299.3,223.9 L301.4,224.3 L303.4,224.8 L305.4,225.4 L307.4,226.0 L309.4,226.4 L311.4,226.7 L313.4,226.8 L315.4,226.7 L317.4,226.4 L319.4,226.2 L321.4,225.9 L323.5,225.8 L325.5,225.9 L327.5,226.3 L329.5,226.9 L331.5,227.8 L333.5,229.0 L335.5,230.4 L337.5,232.0 L339.5,233.6 L341.5,235.3 L343.5,236.9 L345.6,238.4 L347.6,239.7 L349.6,240.9 L351.6,241.8 L351.6,244.3Z" fill="#C9C4A8" fill-opacity="0.5" stroke="#c2bda2" stroke-width="0.6"/>
<path d="M231.0,244.3 L231.0,241.5 L233.0,240.5 L235.1,239.5 L237.1,238.4 L239.1,237.2 L241.1,236.1 L243.1,235.0 L245.1,234.0 L247.1,233.2 L249.1,232.4 L251.1,231.8 L253.1,231.3 L255.1,230.8 L257.2,230.3 L259.2,229.9 L261.2,229.5 L263.2,229.1 L265.2,228.8 L267.2,228.6 L269.2,228.4 L271.2,228.4 L273.2,228.4 L275.2,228.4 L277.2,228.4 L279.3,228.4 L281.3,228.3 L283.3,228.3 L285.3,228.2 L287.3,228.1 L289.3,228.0 L291.3,227.8 L293.3,227.6 L295.3,227.3 L297.3,226.9 L299.3,226.3 L301.4,225.6 L303.4,224.8 L305.4,223.9 L307.4,223.2 L309.4,222.5 L311.4,222.0 L313.4,221.8 L315.4,221.9 L317.4,222.3 L319.4,222.9 L321.4,223.7 L323.5,224.7 L325.5,225.8 L327.5,227.0 L329.5,228.3 L331.5,229.5 L333.5,230.8 L335.5,232.1 L337.5,233.4 L339.5,234.7 L341.5,235.9 L343.5,237.1 L345.6,238.3 L347.6,239.4 L349.6,240.3 L351.6,241.2 L351.6,244.3Z" fill="#F0785C" fill-opacity="0.34" stroke="#ec8d74" stroke-width="0.6"/>
<path d="M231.0,244.3 L231.0,241.2 L233.0,240.2 L235.1,239.2 L237.1,238.0 L239.1,236.8 L241.1,235.6 L243.1,234.4 L245.1,233.3 L247.1,232.4 L249.1,231.6 L251.1,231.1 L253.1,230.8 L255.1,230.7 L257.2,230.7 L259.2,230.8 L261.2,230.9 L263.2,231.0 L265.2,231.0 L267.2,230.9 L269.2,230.7 L271.2,230.4 L273.2,230.1 L275.2,229.8 L277.2,229.6 L279.3,229.5 L281.3,229.5 L283.3,229.5 L285.3,229.7 L287.3,229.8 L289.3,229.9 L291.3,229.8 L293.3,229.5 L295.3,228.9 L297.3,228.0 L299.3,227.0 L301.4,225.7 L303.4,224.4 L305.4,223.2 L307.4,222.1 L309.4,221.3 L311.4,220.8 L313.4,220.8 L315.4,221.2 L317.4,222.0 L319.4,223.1 L321.4,224.5 L323.5,226.1 L325.5,227.7 L327.5,229.2 L329.5,230.5 L331.5,231.6 L333.5,232.5 L335.5,233.2 L337.5,233.7 L339.5,234.0 L341.5,234.3 L343.5,234.7 L345.6,235.2 L347.6,235.8 L349.6,236.6 L351.6,237.5 L351.6,244.3Z" fill="#8F3B26" fill-opacity="0.3" stroke="#a5604a" stroke-width="0.6"/>
<path d="M366.6,258.9 L368.3,258.9 L368.7,260.9 L369.2,263.0 L369.7,265.0 L370.3,267.0 L370.9,269.0 L371.5,271.0 L372.2,273.0 L372.9,275.0 L373.6,277.0 L374.3,279.0 L375.0,281.0 L375.6,283.0 L376.3,285.0 L376.9,287.0 L377.4,289.1 L378.0,291.1 L378.5,293.1 L378.9,295.1 L379.4,297.1 L379.9,299.1 L380.5,301.1 L381.1,303.1 L381.7,305.1 L382.2,307.1 L382.7,309.1 L383.3,311.1 L383.9,313.1 L384.7,315.2 L385.4,317.2 L386.1,319.2 L386.7,321.2 L387.2,323.2 L387.6,325.2 L387.9,327.2 L388.0,329.2 L388.0,331.2 L387.9,333.2 L387.6,335.2 L387.2,337.2 L386.7,339.2 L386.1,341.2 L385.3,343.3 L384.5,345.3 L383.7,347.3 L382.7,349.3 L381.8,351.3 L380.8,353.3 L379.8,355.3 L378.8,357.3 L377.9,359.3 L377.0,361.3 L376.1,363.3 L375.3,365.3 L374.5,367.3 L373.7,369.4 L373.0,371.4 L372.3,373.4 L371.6,375.4 L371.0,377.4 L370.4,379.4 L366.6,379.4Z" fill="#FCF1D6" fill-opacity="0.6" stroke="#efe6c8" stroke-width="0.6"/>
<path d="M366.6,258.9 L367.1,258.9 L367.3,260.9 L367.5,263.0 L367.7,265.0 L368.0,267.0 L368.3,269.0 L368.7,271.0 L369.1,273.0 L369.6,275.0 L370.2,277.0 L370.8,279.0 L371.5,281.0 L372.2,283.0 L373.0,285.0 L373.8,287.0 L374.6,289.1 L375.5,291.1 L376.5,293.1 L377.5,295.1 L378.6,297.1 L379.8,299.1 L381.1,301.1 L382.5,303.1 L383.8,305.1 L384.9,307.1 L385.9,309.1 L386.9,311.1 L387.9,313.1 L388.8,315.2 L389.6,317.2 L390.2,319.2 L390.7,321.2 L391.0,323.2 L391.1,325.2 L391.1,327.2 L390.9,329.2 L390.6,331.2 L390.3,333.2 L389.8,335.2 L389.3,337.2 L388.8,339.2 L388.2,341.2 L387.5,343.3 L386.9,345.3 L386.1,347.3 L385.3,349.3 L384.4,351.3 L383.5,353.3 L382.5,355.3 L381.5,357.3 L380.4,359.3 L379.3,361.3 L378.2,363.3 L377.2,365.3 L376.1,367.3 L375.1,369.4 L374.1,371.4 L373.2,373.4 L372.3,375.4 L371.5,377.4 L370.8,379.4 L366.6,379.4Z" fill="#C9C4A8" fill-opacity="0.5" stroke="#c2bda2" stroke-width="0.6"/>
<path d="M366.6,258.9 L367.4,258.9 L367.7,260.9 L367.9,263.0 L368.3,265.0 L368.7,267.0 L369.2,269.0 L369.7,271.0 L370.2,273.0 L370.8,275.0 L371.5,277.0 L372.1,279.0 L372.8,281.0 L373.4,283.0 L374.1,285.0 L374.7,287.0 L375.4,289.1 L376.1,291.1 L376.8,293.1 L377.6,295.1 L378.4,297.1 L379.3,299.1 L380.4,301.1 L381.5,303.1 L382.6,305.1 L383.5,307.1 L384.4,309.1 L385.3,311.1 L386.2,313.1 L387.0,315.2 L387.8,317.2 L388.6,319.2 L389.2,321.2 L389.7,323.2 L390.1,325.2 L390.4,327.2 L390.6,329.2 L390.6,331.2 L390.5,333.2 L390.3,335.2 L389.9,337.2 L389.4,339.2 L388.8,341.2 L388.1,343.3 L387.2,345.3 L386.3,347.3 L385.3,349.3 L384.3,351.3 L383.2,353.3 L382.1,355.3 L380.9,357.3 L379.8,359.3 L378.6,361.3 L377.5,363.3 L376.4,365.3 L375.3,367.3 L374.3,369.4 L373.3,371.4 L372.4,373.4 L371.6,375.4 L370.8,377.4 L370.1,379.4 L366.6,379.4Z" fill="#F0785C" fill-opacity="0.34" stroke="#ec8d74" stroke-width="0.6"/>
<path d="M366.6,258.9 L368.4,258.9 L368.8,260.9 L369.2,263.0 L369.7,265.0 L370.3,267.0 L370.8,269.0 L371.4,271.0 L372.0,273.0 L372.6,275.0 L373.1,277.0 L373.6,279.0 L374.1,281.0 L374.6,283.0 L375.0,285.0 L375.4,287.0 L375.8,289.1 L376.3,291.1 L376.7,293.1 L377.2,295.1 L377.7,297.1 L378.2,299.1 L378.9,301.1 L379.6,303.1 L380.3,305.1 L380.8,307.1 L381.4,309.1 L381.9,311.1 L382.6,313.1 L383.2,315.2 L383.8,317.2 L384.4,319.2 L384.9,321.2 L385.3,323.2 L385.7,325.2 L385.9,327.2 L386.1,329.2 L386.2,331.2 L386.3,333.2 L386.4,335.2 L386.4,337.2 L386.5,339.2 L386.6,341.2 L386.7,343.3 L386.8,345.3 L386.8,347.3 L386.7,349.3 L386.4,351.3 L385.9,353.3 L385.2,355.3 L384.2,357.3 L383.1,359.3 L381.8,361.3 L380.3,363.3 L378.7,365.3 L377.1,367.3 L375.6,369.4 L374.1,371.4 L372.7,373.4 L371.5,375.4 L370.5,377.4 L369.6,379.4 L366.6,379.4Z" fill="#8F3B26" fill-opacity="0.3" stroke="#a5604a" stroke-width="0.6"/>
<use href="#s3" x="264.5" y="318.4"/>
<use href="#s2" x="266.3" y="345.9"/>
<use href="#s0" x="254.7" y="317.0"/>
<use href="#s2" x="273.7" y="351.8"/>
<use href="#s2" x="258.6" y="291.1"/>
<use href="#s3" x="276.8" y="340.3"/>
<use href="#s4" x="299.9" y="328.7"/>
<use href="#s2" x="294.6" y="367.4"/>
<use href="#s2" x="273.9" y="346.6"/>
<use href="#s2" x="325.4" y="264.3"/>
<use href="#s2" x="234.6" y="299.4"/>
<use href="#s2" x="322.1" y="315.7"/>
<use href="#s3" x="328.8" y="343.9"/>
<use href="#s0" x="324.1" y="290.8"/>
<use href="#s3" x="302.2" y="339.0"/>
<use href="#s0" x="271.7" y="341.2"/>
<use href="#s4" x="316.5" y="354.6"/>
<use href="#s2" x="316.9" y="343.2"/>
<use href="#s0" x="257.0" y="334.3"/>
<use href="#s3" x="269.0" y="324.3"/>
<use href="#s3" x="252.3" y="334.8"/>
<use href="#s3" x="314.2" y="326.5"/>
<use href="#s2" x="266.8" y="283.7"/>
<use href="#s0" x="272.3" y="329.0"/>
<use href="#s2" x="238.5" y="322.2"/>
<use href="#s2" x="321.8" y="347.5"/>
<use href="#s4" x="336.6" y="271.0"/>
<use href="#s3" x="313.3" y="293.3"/>
<use href="#s4" x="250.5" y="324.4"/>
<use href="#s3" x="292.5" y="334.1"/>
<use href="#s0" x="300.6" y="342.3"/>
<use href="#s3" x="264.1" y="331.9"/>
<use href="#s3" x="321.6" y="280.4"/>
<use href="#s3" x="239.1" y="302.1"/>
<use href="#s4" x="310.7" y="351.5"/>
<use href="#s0" x="312.9" y="365.4"/>
<use href="#s2" x="329.9" y="322.9"/>
<use href="#s3" x="308.0" y="365.4"/>
<use href="#s3" x="282.9" y="331.9"/>
<use href="#s3" x="265.6" y="330.1"/>
<use href="#s3" x="264.1" y="318.1"/>
<use href="#s3" x="310.5" y="336.3"/>
<use href="#s3" x="305.7" y="368.5"/>
<use href="#s0" x="270.6" y="291.7"/>
<use href="#s4" x="278.6" y="346.4"/>
<use href="#s0" x="242.8" y="320.2"/>
<use href="#s2" x="280.6" y="342.1"/>
<use href="#s2" x="267.5" y="348.7"/>
<use href="#s2" x="288.2" y="321.4"/>
<use href="#s0" x="258.7" y="318.9"/>
<use href="#s3" x="331.0" y="287.4"/>
<use href="#s4" x="308.9" y="321.3"/>
<use href="#s0" x="306.6" y="352.2"/>
<use href="#s0" x="261.4" y="310.8"/>
<use href="#s2" x="237.6" y="313.3"/>
<use href="#s2" x="259.6" y="320.4"/>
<use href="#s4" x="348.6" y="300.0"/>
<use href="#s4" x="327.4" y="258.9"/>
<use href="#s3" x="298.6" y="336.3"/>
<use href="#s2" x="341.5" y="281.7"/>
<use href="#s3" x="240.0" y="317.7"/>
<use href="#s2" x="326.3" y="323.4"/>
<use href="#s3" x="315.6" y="348.4"/>
<use href="#s3" x="301.7" y="359.1"/>
<use href="#s3" x="262.8" y="327.4"/>
<use href="#s0" x="332.8" y="276.8"/>
<use href="#s2" x="246.4" y="291.6"/>
<use href="#s3" x="291.0" y="356.4"/>
<use href="#s2" x="311.1" y="345.3"/>
<use href="#s3" x="304.4" y="343.5"/>
<use href="#s2" x="326.7" y="319.7"/>
<use href="#s3" x="317.8" y="331.9"/>
<use href="#s2" x="252.9" y="299.0"/>
<use href="#s3" x="274.1" y="344.4"/>
<use href="#s2" x="282.4" y="319.8"/>
<use href="#s3" x="351.6" y="280.4"/>
<use href="#s3" x="339.1" y="294.7"/>
<use href="#s2" x="315.6" y="362.4"/>
<use href="#s2" x="263.2" y="321.8"/>
<use href="#s2" x="298.3" y="379.4"/>
<use href="#s4" x="326.7" y="281.3"/>
<use href="#s0" x="333.4" y="298.4"/>
<use href="#s3" x="291.8" y="334.1"/>
<use href="#s2" x="305.3" y="360.9"/>
<use href="#s2" x="295.5" y="329.6"/>
<use href="#s2" x="297.7" y="347.0"/>
<use href="#s3" x="270.1" y="310.8"/>
<use href="#s2" x="259.6" y="309.3"/>
<use href="#s4" x="252.2" y="344.6"/>
<use href="#s3" x="323.6" y="360.7"/>
<use href="#s4" x="288.0" y="347.5"/>
<use href="#s4" x="250.9" y="275.9"/>
<use href="#s0" x="244.4" y="309.3"/>
<use href="#s3" x="305.3" y="347.8"/>
<use href="#s2" x="255.3" y="289.1"/>
<use href="#s2" x="311.1" y="322.2"/>
<use href="#s4" x="264.3" y="321.6"/>
<use href="#s0" x="270.6" y="322.2"/>
<use href="#s3" x="321.4" y="354.6"/>
<use href="#s2" x="284.0" y="298.5"/>
<use href="#s0" x="322.5" y="266.7"/>
<use href="#s2" x="330.9" y="308.5"/>
<use href="#s2" x="291.4" y="350.4"/>
<use href="#s3" x="316.0" y="308.4"/>
<use href="#s3" x="304.0" y="377.4"/>
<use href="#s3" x="321.2" y="272.2"/>
<use href="#s2" x="278.8" y="341.4"/>
<use href="#s2" x="288.2" y="357.1"/>
<use href="#s4" x="276.2" y="327.4"/>
<use href="#s4" x="313.5" y="358.7"/>
<use href="#s3" x="319.6" y="321.6"/>
<use href="#s2" x="333.3" y="302.7"/>
<use href="#s2" x="262.6" y="311.5"/>
<use href="#s3" x="312.4" y="337.8"/>
<use href="#s2" x="248.0" y="321.1"/>
<use href="#s4" x="318.5" y="283.3"/>
<use href="#s2" x="280.9" y="345.5"/>
<use href="#s0" x="343.5" y="286.4"/>
<use href="#s3" x="340.9" y="285.1"/>
<use href="#s3" x="312.4" y="349.3"/>
<use href="#s0" x="290.2" y="372.1"/>
<use href="#s4" x="347.0" y="275.5"/>
<use href="#s4" x="316.2" y="356.0"/>
<use href="#s2" x="308.0" y="358.7"/>
<use href="#s3" x="270.6" y="287.4"/>
<use href="#s3" x="250.9" y="312.1"/>
<use href="#s3" x="290.5" y="356.4"/>
<use href="#s2" x="298.6" y="357.3"/>
<use href="#s0" x="302.2" y="362.7"/>
<use href="#s2" x="239.5" y="318.4"/>
<use href="#s2" x="327.2" y="333.4"/>
<use href="#s2" x="290.5" y="371.9"/>
<use href="#s3" x="247.1" y="316.1"/>
<use href="#s2" x="263.0" y="335.4"/>
<use href="#s2" x="258.7" y="318.8"/>
<use href="#s3" x="289.3" y="283.3"/>
<use href="#s3" x="247.6" y="302.5"/>
<use href="#s2" x="337.5" y="323.8"/>
<use href="#s2" x="257.4" y="292.4"/>
<use href="#s2" x="277.8" y="323.6"/>
<use href="#s3" x="308.4" y="345.3"/>
<use href="#s2" x="314.7" y="324.4"/>
<use href="#s4" x="298.1" y="355.5"/>
<use href="#s2" x="299.0" y="349.7"/>
<use href="#s3" x="316.0" y="352.4"/>
<use href="#s0" x="261.0" y="329.4"/>
<use href="#s3" x="241.6" y="306.1"/>
<use href="#s3" x="326.9" y="349.9"/>
<use href="#s4" x="246.2" y="323.1"/>
<use href="#s3" x="279.7" y="286.4"/>
<use href="#s2" x="330.3" y="328.7"/>
<use href="#s2" x="256.5" y="326.0"/>
<use href="#s0" x="338.6" y="266.5"/>
<use href="#s3" x="326.7" y="320.2"/>
<use href="#s2" x="318.7" y="351.2"/>
<use href="#s3" x="244.2" y="293.6"/>
<use href="#s3" x="268.6" y="327.4"/>
<use href="#s2" x="294.6" y="349.3"/>
<use href="#s2" x="324.5" y="319.3"/>
<use href="#s2" x="332.1" y="321.8"/>
<use href="#s3" x="324.5" y="319.8"/>
<use href="#s2" x="253.8" y="313.3"/>
<use href="#s2" x="336.7" y="307.4"/>
<use href="#s2" x="255.6" y="344.8"/>
<use href="#s3" x="244.4" y="303.7"/>
<use href="#s0" x="238.2" y="277.7"/>
<use href="#s3" x="260.5" y="339.4"/>
<use href="#s3" x="341.8" y="263.6"/>
<use href="#s0" x="319.9" y="343.9"/>
<use href="#s2" x="311.4" y="304.3"/>
<use href="#s0" x="318.7" y="348.8"/>
<use href="#s2" x="286.4" y="372.1"/>
<use href="#s3" x="294.6" y="352.9"/>
<use href="#s0" x="269.5" y="341.9"/>
<use href="#s3" x="252.5" y="270.4"/>
<use href="#s2" x="331.2" y="326.9"/>
<use href="#s2" x="317.2" y="315.5"/>
<use href="#s3" x="278.8" y="349.5"/>
<use href="#s0" x="264.1" y="293.5"/>
<use href="#s3" x="311.1" y="341.2"/>
<use href="#s3" x="251.9" y="296.0"/>
<use href="#s0" x="324.5" y="272.1"/>
<use href="#s4" x="275.7" y="332.5"/>
<use href="#s3" x="265.0" y="335.4"/>
<use href="#s2" x="238.5" y="311.5"/>
<use href="#s0" x="342.2" y="318.1"/>
<use href="#s0" x="295.0" y="331.0"/>
<use href="#s2" x="301.7" y="324.4"/>
<use href="#s2" x="253.2" y="337.4"/>
<use href="#s3" x="282.4" y="341.4"/>
<use href="#s3" x="287.5" y="367.4"/>
<use href="#s2" x="280.4" y="331.4"/>
<use href="#s2" x="297.4" y="270.7"/>
<use href="#s4" x="282.7" y="334.7"/>
<use href="#s3" x="311.5" y="339.4"/>
<use href="#s3" x="340.0" y="288.2"/>
<use href="#s2" x="254.7" y="318.0"/>
<use href="#s3" x="322.3" y="335.0"/>
<use href="#s2" x="296.8" y="335.9"/>
<use href="#s0" x="297.2" y="321.8"/>
<use href="#s2" x="231.0" y="302.1"/>
<use href="#s3" x="249.6" y="313.3"/>
<use href="#s2" x="304.4" y="371.9"/>
<use href="#s2" x="303.5" y="364.5"/>
<use href="#s0" x="250.3" y="290.4"/>
<use href="#s3" x="309.3" y="329.9"/>
<use href="#s0" x="267.2" y="331.4"/>
<use href="#s4" x="238.4" y="304.1"/>
<use href="#s3" x="315.3" y="316.8"/>
<use href="#s2" x="290.5" y="321.4"/>
<use href="#s0" x="245.5" y="298.3"/>
<use href="#s4" x="286.4" y="325.9"/>
<use href="#s2" x="260.5" y="299.9"/>
<use href="#s3" x="325.4" y="328.3"/>
<use href="#s2" x="317.4" y="326.9"/>
<use href="#s3" x="263.2" y="329.4"/>
<use href="#s2" x="300.6" y="340.3"/>
<use href="#s3" x="338.4" y="284.4"/>
<use href="#s3" x="279.7" y="295.4"/>
<use href="#s3" x="286.4" y="346.8"/>
<use href="#s0" x="338.6" y="321.8"/>
<use href="#s2" x="322.5" y="332.3"/>
<use href="#s2" x="306.5" y="312.3"/>
<use href="#s0" x="309.3" y="342.1"/>
<use href="#s0" x="250.9" y="329.4"/>
<use href="#s2" x="339.1" y="275.9"/>
<use href="#s4" x="301.7" y="353.7"/>
<use href="#s3" x="323.2" y="277.4"/>
<use href="#s2" x="278.2" y="287.4"/>
<use href="#s2" x="278.0" y="353.1"/>
<use href="#s3" x="265.6" y="316.4"/>
<use href="#s0" x="248.3" y="287.5"/>
<use href="#s0" x="341.9" y="318.4"/>
<use href="#s2" x="254.3" y="324.4"/>
<use href="#s2" x="297.7" y="365.6"/>
<use href="#s3" x="297.7" y="369.1"/>
<use href="#s3" x="282.4" y="362.2"/>
<use href="#s3" x="308.0" y="324.4"/>
<use href="#s4" x="259.5" y="300.9"/>
<use href="#s3" x="308.0" y="347.9"/>
<use href="#s3" x="247.6" y="318.4"/>
<use href="#s2" x="324.1" y="346.6"/>
<use href="#s4" x="344.0" y="288.6"/>
<use href="#s3" x="318.9" y="332.3"/>
<use href="#s2" x="257.4" y="313.3"/>
<use href="#s0" x="328.5" y="270.7"/>
<use href="#s3" x="331.9" y="329.9"/>
<use href="#s2" x="298.1" y="360.7"/>
<use href="#s2" x="273.2" y="339.4"/>
<use href="#s3" x="314.2" y="330.1"/>
<use href="#s3" x="315.3" y="364.3"/>
<use href="#s4" x="309.9" y="361.1"/>
<use href="#s2" x="321.4" y="325.1"/>
<use href="#s3" x="283.0" y="339.0"/>
<use href="#s2" x="338.4" y="285.7"/>
<use href="#s2" x="319.6" y="326.9"/>
<use href="#s3" x="332.1" y="311.9"/>
<use href="#s2" x="268.4" y="294.4"/>
<use href="#s0" x="296.5" y="373.4"/>
<use href="#s2" x="333.9" y="309.2"/>
<use href="#s2" x="281.3" y="311.7"/>
<use href="#s2" x="269.0" y="335.0"/>
<use href="#s2" x="333.9" y="321.6"/>
<use href="#s3" x="288.7" y="354.4"/>
<use href="#s4" x="320.5" y="303.4"/>
<use href="#s2" x="292.3" y="344.8"/>
<use href="#s0" x="305.6" y="294.7"/>
<use href="#s3" x="295.9" y="339.4"/>
<use href="#s2" x="327.5" y="283.3"/>
<use href="#s2" x="303.5" y="335.9"/>
<use href="#s4" x="308.7" y="356.4"/>
<use href="#s3" x="248.0" y="318.9"/>
<use href="#s3" x="335.9" y="315.9"/>
<use href="#s2" x="300.4" y="353.5"/>
<use href="#s3" x="333.3" y="294.0"/>
<use href="#s3" x="274.8" y="355.4"/>
<use href="#s2" x="253.4" y="326.5"/>
<use href="#s3" x="333.9" y="277.7"/>
<use href="#s3" x="308.4" y="311.5"/>
<use href="#s0" x="308.9" y="354.2"/>
<use href="#s2" x="298.6" y="291.3"/>
<use href="#s4" x="266.5" y="314.8"/>
<use href="#s2" x="291.4" y="344.8"/>
<use href="#s2" x="340.9" y="294.0"/>
<use href="#s3" x="254.7" y="314.2"/>
<use href="#s3" x="271.5" y="283.2"/>
<use href="#s2" x="330.6" y="291.1"/>
<use href="#s2" x="291.7" y="350.4"/>
<use href="#s0" x="324.5" y="344.8"/>
<use href="#s2" x="318.5" y="346.8"/>
<use href="#s2" x="294.6" y="336.8"/>
<use href="#s3" x="268.7" y="311.9"/>
<use href="#s2" x="325.7" y="328.1"/>
<use href="#s3" x="261.4" y="314.8"/>
<use href="#s3" x="295.9" y="309.2"/>
<use href="#s0" x="302.2" y="349.3"/>
<use href="#s3" x="282.9" y="319.3"/>
<use href="#s2" x="300.8" y="362.1"/>
<use href="#s3" x="290.5" y="321.6"/>
<use href="#s0" x="333.7" y="332.3"/>
<text x="231.8" y="260.3" font-size="9.6" fill="#1a1a1a"><tspan font-style="italic">P</tspan> = 0.012</text>
<text x="336.10" y="342.94" font-size="8.3" text-anchor="start" fill="#1a1a1a">Stage</text>
<rect x="335.3" y="346.0" width="23.4" height="36.5" fill="#fff" stroke="#c4c4c4" stroke-width="0.7"/>
<circle cx="340.6" cy="351.4" r="2.0" fill="#FDF6DC" stroke="#7d7960" stroke-width="0.55"/>
<text x="344.60" y="354.42" font-size="8.1" text-anchor="start" fill="#1a1a1a">0/1</text>
<circle cx="340.6" cy="359.9" r="2.0" fill="#D2CDB2" stroke="#7d7960" stroke-width="0.55"/>
<text x="344.60" y="362.92" font-size="8.1" text-anchor="start" fill="#1a1a1a">2</text>
<circle cx="340.6" cy="368.2" r="2.0" fill="#F07C62" stroke="#9a6a58" stroke-width="0.55"/>
<text x="344.60" y="371.22" font-size="8.1" text-anchor="start" fill="#1a1a1a">3</text>
<circle cx="340.6" cy="376.8" r="2.0" fill="#8F3C2A" stroke="#5e3a30" stroke-width="0.55"/>
<text x="344.60" y="379.82" font-size="8.1" text-anchor="start" fill="#1a1a1a">4</text>
<text x="412.60" y="201.95" font-size="16.8" text-anchor="start" fill="#1a1a1a">E</text>
<text x="480.80" y="205.70" font-size="12.5" text-anchor="middle" fill="#1a1a1a">Progression</text>
<line x1="419.30" y1="221.20" x2="419.30" y2="246.65" stroke="#4d4d4d" stroke-width="1"/>
<line x1="418.80" y1="246.15" x2="551.60" y2="246.15" stroke="#4d4d4d" stroke-width="1"/>
<line x1="419.30" y1="253.30" x2="419.30" y2="385.80" stroke="#4d4d4d" stroke-width="1"/>
<line x1="418.80" y1="385.30" x2="551.60" y2="385.30" stroke="#4d4d4d" stroke-width="1"/>
<line x1="557.30" y1="253.30" x2="557.30" y2="385.80" stroke="#4d4d4d" stroke-width="1"/>
<line x1="556.80" y1="385.30" x2="582.60" y2="385.30" stroke="#4d4d4d" stroke-width="1"/>
<text x="409.70" y="324.07" font-size="12.7" text-anchor="middle" fill="#1a1a1a" transform="rotate(-90 409.70 319.50)">PCo2 (4.28%)</text>
<text x="485.00" y="399.50" font-size="12.5" text-anchor="middle" fill="#1a1a1a">PCo1 (7.84%)</text>
<path d="M424.8,244.3 L424.8,240.7 L426.8,239.8 L428.9,238.7 L430.9,237.6 L432.9,236.5 L434.9,235.3 L436.9,234.0 L438.9,232.8 L440.9,231.7 L442.9,230.6 L444.9,229.7 L446.9,229.0 L448.9,228.4 L451.0,228.1 L453.0,227.9 L455.0,227.9 L457.0,228.1 L459.0,228.4 L461.0,228.7 L463.0,229.0 L465.0,229.4 L467.0,229.6 L469.0,229.7 L471.0,229.7 L473.1,229.6 L475.1,229.4 L477.1,229.0 L479.1,228.6 L481.1,228.0 L483.1,227.5 L485.1,227.0 L487.1,226.5 L489.1,226.1 L491.1,225.7 L493.1,225.5 L495.2,225.3 L497.2,225.2 L499.2,225.2 L501.2,225.2 L503.2,225.3 L505.2,225.4 L507.2,225.5 L509.2,225.6 L511.2,225.9 L513.2,226.2 L515.2,226.7 L517.3,227.3 L519.3,228.0 L521.3,228.8 L523.3,229.7 L525.3,230.7 L527.3,231.7 L529.3,232.8 L531.3,233.9 L533.3,235.0 L535.3,236.1 L537.3,237.2 L539.4,238.3 L541.4,239.3 L543.4,240.2 L545.4,241.0 L545.4,244.3Z" fill="#FBF1DA" fill-opacity="0.8" stroke="#e9dfc2" stroke-width="0.6"/>
<path d="M424.8,244.3 L424.8,242.1 L426.8,241.5 L428.9,240.8 L430.9,240.1 L432.9,239.5 L434.9,238.9 L436.9,238.4 L438.9,237.9 L440.9,237.5 L442.9,237.2 L444.9,236.8 L446.9,236.3 L448.9,235.7 L451.0,235.0 L453.0,234.1 L455.0,233.2 L457.0,232.3 L459.0,231.4 L461.0,230.7 L463.0,230.2 L465.0,229.9 L467.0,229.9 L469.0,230.1 L471.0,230.5 L473.1,230.9 L475.1,231.4 L477.1,231.8 L479.1,232.1 L481.1,232.2 L483.1,232.0 L485.1,231.7 L487.1,231.1 L489.1,230.3 L491.1,229.4 L493.1,228.4 L495.2,227.3 L497.2,226.1 L499.2,225.0 L501.2,223.9 L503.2,223.0 L505.2,222.2 L507.2,221.5 L509.2,220.9 L511.2,220.5 L513.2,220.1 L515.2,219.9 L517.3,219.8 L519.3,219.9 L521.3,220.1 L523.3,220.6 L525.3,221.4 L527.3,222.6 L529.3,224.1 L531.3,225.9 L533.3,227.9 L535.3,230.0 L537.3,232.2 L539.4,234.3 L541.4,236.2 L543.4,238.0 L545.4,239.5 L545.4,244.3Z" fill="#9A4A30" fill-opacity="0.39" stroke="#9A4A30" stroke-width="0.6"/>
<path d="M559.3,258.9 L560.1,258.9 L560.3,260.9 L560.6,263.0 L560.9,265.0 L561.3,267.0 L561.8,269.0 L562.2,271.0 L562.8,273.0 L563.4,275.0 L564.0,277.0 L564.6,279.0 L565.3,281.0 L566.0,283.0 L566.7,285.0 L567.5,287.0 L568.2,289.1 L569.0,291.1 L569.8,293.1 L570.7,295.1 L571.6,297.1 L572.5,299.1 L573.6,301.1 L574.7,303.1 L575.8,305.1 L576.6,307.1 L577.5,309.1 L578.3,311.1 L579.1,313.1 L579.9,315.2 L580.5,317.2 L581.1,319.2 L581.6,321.2 L581.9,323.2 L582.1,325.2 L582.2,327.2 L582.1,329.2 L581.9,331.2 L581.6,333.2 L581.1,335.2 L580.6,337.2 L580.1,339.2 L579.4,341.2 L578.8,343.3 L578.0,345.3 L577.3,347.3 L576.4,349.3 L575.6,351.3 L574.7,353.3 L573.8,355.3 L572.8,357.3 L571.9,359.3 L570.9,361.3 L569.9,363.3 L568.9,365.3 L568.0,367.3 L567.1,369.4 L566.2,371.4 L565.3,373.4 L564.5,375.4 L563.8,377.4 L563.1,379.4 L559.3,379.4Z" fill="#FBF1DA" fill-opacity="0.8" stroke="#e9dfc2" stroke-width="0.6"/>
<path d="M559.3,258.9 L560.7,258.9 L561.0,260.9 L561.3,263.0 L561.7,265.0 L562.1,267.0 L562.6,269.0 L563.0,271.0 L563.5,273.0 L563.9,275.0 L564.4,277.0 L564.8,279.0 L565.3,281.0 L565.7,283.0 L566.1,285.0 L566.4,287.0 L566.8,289.1 L567.1,291.1 L567.5,293.1 L568.0,295.1 L568.5,297.1 L569.1,299.1 L569.8,301.1 L570.6,303.1 L571.6,305.1 L572.4,307.1 L573.2,309.1 L574.2,311.1 L575.1,313.1 L576.1,315.2 L577.1,317.2 L578.0,319.2 L578.8,321.2 L579.6,323.2 L580.3,325.2 L580.9,327.2 L581.4,329.2 L581.8,331.2 L582.2,333.2 L582.5,335.2 L582.7,337.2 L582.8,339.2 L582.8,341.2 L582.6,343.3 L582.2,345.3 L581.7,347.3 L581.0,349.3 L580.0,351.3 L579.0,353.3 L577.7,355.3 L576.4,357.3 L574.9,359.3 L573.4,361.3 L571.8,363.3 L570.3,365.3 L568.8,367.3 L567.4,369.4 L566.1,371.4 L564.9,373.4 L563.9,375.4 L563.0,377.4 L562.2,379.4 L559.3,379.4Z" fill="#9A4A30" fill-opacity="0.39" stroke="#9A4A30" stroke-width="0.6"/>
<use href="#p0" x="458.3" y="318.4"/>
<use href="#p1" x="460.1" y="345.9"/>
<use href="#p0" x="448.5" y="317.0"/>
<use href="#p0" x="467.5" y="351.8"/>
<use href="#p0" x="452.4" y="291.1"/>
<use href="#p0" x="470.6" y="340.3"/>
<use href="#p1" x="493.7" y="328.7"/>
<use href="#p0" x="488.4" y="367.4"/>
<use href="#p0" x="467.7" y="346.6"/>
<use href="#p1" x="519.2" y="264.3"/>
<use href="#p0" x="428.4" y="299.4"/>
<use href="#p0" x="515.9" y="315.7"/>
<use href="#p1" x="522.6" y="343.9"/>
<use href="#p0" x="517.9" y="290.8"/>
<use href="#p0" x="496.0" y="339.0"/>
<use href="#p0" x="465.5" y="341.2"/>
<use href="#p0" x="510.3" y="354.6"/>
<use href="#p1" x="510.7" y="343.2"/>
<use href="#p0" x="450.8" y="334.3"/>
<use href="#p1" x="462.8" y="324.3"/>
<use href="#p0" x="446.1" y="334.8"/>
<use href="#p0" x="508.0" y="326.5"/>
<use href="#p0" x="460.6" y="283.7"/>
<use href="#p0" x="466.1" y="329.0"/>
<use href="#p0" x="432.3" y="322.2"/>
<use href="#p0" x="515.6" y="347.5"/>
<use href="#p1" x="530.4" y="271.0"/>
<use href="#p0" x="507.1" y="293.3"/>
<use href="#p0" x="444.3" y="324.4"/>
<use href="#p0" x="486.3" y="334.1"/>
<use href="#p0" x="494.4" y="342.3"/>
<use href="#p0" x="457.9" y="331.9"/>
<use href="#p0" x="515.4" y="280.4"/>
<use href="#p0" x="432.9" y="302.1"/>
<use href="#p0" x="504.5" y="351.5"/>
<use href="#p0" x="506.7" y="365.4"/>
<use href="#p1" x="523.7" y="322.9"/>
<use href="#p0" x="501.8" y="365.4"/>
<use href="#p0" x="476.7" y="331.9"/>
<use href="#p0" x="459.4" y="330.1"/>
<use href="#p0" x="457.9" y="318.1"/>
<use href="#p0" x="504.3" y="336.3"/>
<use href="#p0" x="499.5" y="368.5"/>
<use href="#p0" x="464.4" y="291.7"/>
<use href="#p0" x="472.4" y="346.4"/>
<use href="#p0" x="436.6" y="320.2"/>
<use href="#p1" x="474.4" y="342.1"/>
<use href="#p0" x="461.3" y="348.7"/>
<use href="#p0" x="482.0" y="321.4"/>
<use href="#p0" x="452.5" y="318.9"/>
<use href="#p0" x="524.8" y="287.4"/>
<use href="#p0" x="502.7" y="321.3"/>
<use href="#p0" x="500.4" y="352.2"/>
<use href="#p0" x="455.2" y="310.8"/>
<use href="#p1" x="431.4" y="313.3"/>
<use href="#p0" x="453.4" y="320.4"/>
<use href="#p0" x="542.4" y="300.0"/>
<use href="#p1" x="521.2" y="258.9"/>
<use href="#p0" x="492.4" y="336.3"/>
<use href="#p0" x="535.3" y="281.7"/>
<use href="#p0" x="433.8" y="317.7"/>
<use href="#p0" x="520.1" y="323.4"/>
<use href="#p1" x="509.4" y="348.4"/>
<use href="#p0" x="495.5" y="359.1"/>
<use href="#p0" x="456.6" y="327.4"/>
<use href="#p0" x="526.6" y="276.8"/>
<use href="#p0" x="440.2" y="291.6"/>
<use href="#p0" x="484.8" y="356.4"/>
<use href="#p0" x="504.9" y="345.3"/>
<use href="#p0" x="498.2" y="343.5"/>
<use href="#p0" x="520.5" y="319.7"/>
<use href="#p0" x="511.6" y="331.9"/>
<use href="#p0" x="446.7" y="299.0"/>
<use href="#p0" x="467.9" y="344.4"/>
<use href="#p0" x="476.2" y="319.8"/>
<use href="#p0" x="545.4" y="280.4"/>
<use href="#p1" x="532.9" y="294.7"/>
<use href="#p0" x="509.4" y="362.4"/>
<use href="#p1" x="457.0" y="321.8"/>
<use href="#p0" x="492.1" y="379.4"/>
<use href="#p1" x="520.5" y="281.3"/>
<use href="#p0" x="527.2" y="298.4"/>
<use href="#p0" x="485.6" y="334.1"/>
<use href="#p0" x="499.1" y="360.9"/>
<use href="#p0" x="489.3" y="329.6"/>
<use href="#p0" x="491.5" y="347.0"/>
<use href="#p1" x="463.9" y="310.8"/>
<use href="#p0" x="453.4" y="309.3"/>
<use href="#p1" x="446.0" y="344.6"/>
<use href="#p0" x="517.4" y="360.7"/>
<use href="#p1" x="481.8" y="347.5"/>
<use href="#p0" x="444.7" y="275.9"/>
<use href="#p0" x="438.2" y="309.3"/>
<use href="#p1" x="499.1" y="347.8"/>
<use href="#p0" x="449.1" y="289.1"/>
<use href="#p0" x="504.9" y="322.2"/>
<use href="#p0" x="458.1" y="321.6"/>
<use href="#p0" x="464.4" y="322.2"/>
<use href="#p0" x="515.2" y="354.6"/>
<use href="#p0" x="477.8" y="298.5"/>
<use href="#p0" x="516.3" y="266.7"/>
<use href="#p0" x="524.7" y="308.5"/>
<use href="#p0" x="485.2" y="350.4"/>
<use href="#p0" x="509.8" y="308.4"/>
<use href="#p0" x="497.8" y="377.4"/>
<use href="#p1" x="515.0" y="272.2"/>
<use href="#p0" x="472.6" y="341.4"/>
<use href="#p0" x="482.0" y="357.1"/>
<use href="#p0" x="470.0" y="327.4"/>
<use href="#p0" x="507.3" y="358.7"/>
<use href="#p0" x="513.4" y="321.6"/>
<use href="#p0" x="527.1" y="302.7"/>
<use href="#p0" x="456.4" y="311.5"/>
<use href="#p1" x="506.2" y="337.8"/>
<use href="#p0" x="441.8" y="321.1"/>
<use href="#p0" x="512.3" y="283.3"/>
<use href="#p0" x="474.7" y="345.5"/>
<use href="#p0" x="537.3" y="286.4"/>
<use href="#p1" x="534.7" y="285.1"/>
<use href="#p0" x="506.2" y="349.3"/>
<use href="#p0" x="484.0" y="372.1"/>
<use href="#p1" x="540.8" y="275.5"/>
<use href="#p1" x="510.0" y="356.0"/>
<use href="#p0" x="501.8" y="358.7"/>
<use href="#p1" x="464.4" y="287.4"/>
<use href="#p0" x="444.7" y="312.1"/>
<use href="#p0" x="484.3" y="356.4"/>
<use href="#p0" x="492.4" y="357.3"/>
<use href="#p0" x="496.0" y="362.7"/>
<use href="#p0" x="433.3" y="318.4"/>
<use href="#p0" x="521.0" y="333.4"/>
<use href="#p0" x="484.3" y="371.9"/>
<use href="#p1" x="440.9" y="316.1"/>
<use href="#p0" x="456.8" y="335.4"/>
<use href="#p0" x="452.5" y="318.8"/>
<use href="#p1" x="483.1" y="283.3"/>
<use href="#p0" x="441.4" y="302.5"/>
<use href="#p0" x="531.3" y="323.8"/>
<use href="#p0" x="451.2" y="292.4"/>
<use href="#p1" x="471.6" y="323.6"/>
<use href="#p1" x="502.2" y="345.3"/>
<use href="#p0" x="508.5" y="324.4"/>
<use href="#p0" x="491.9" y="355.5"/>
<use href="#p0" x="492.8" y="349.7"/>
<use href="#p0" x="509.8" y="352.4"/>
<use href="#p0" x="454.8" y="329.4"/>
<use href="#p0" x="435.4" y="306.1"/>
<use href="#p1" x="520.7" y="349.9"/>
<use href="#p1" x="440.0" y="323.1"/>
<use href="#p0" x="473.5" y="286.4"/>
<use href="#p0" x="524.1" y="328.7"/>
<use href="#p0" x="450.3" y="326.0"/>
<use href="#p0" x="532.4" y="266.5"/>
<use href="#p0" x="520.5" y="320.2"/>
<use href="#p0" x="512.5" y="351.2"/>
<use href="#p1" x="438.0" y="293.6"/>
<use href="#p0" x="462.4" y="327.4"/>
<use href="#p1" x="488.4" y="349.3"/>
<use href="#p0" x="518.3" y="319.3"/>
<use href="#p1" x="525.9" y="321.8"/>
<use href="#p0" x="518.3" y="319.8"/>
<use href="#p0" x="447.6" y="313.3"/>
<use href="#p0" x="530.5" y="307.4"/>
<use href="#p0" x="449.4" y="344.8"/>
<use href="#p0" x="438.2" y="303.7"/>
<use href="#p0" x="432.0" y="277.7"/>
<use href="#p0" x="454.3" y="339.4"/>
<use href="#p0" x="535.6" y="263.6"/>
<use href="#p0" x="513.7" y="343.9"/>
<use href="#p0" x="505.2" y="304.3"/>
<use href="#p0" x="512.5" y="348.8"/>
<use href="#p0" x="480.2" y="372.1"/>
<use href="#p0" x="488.4" y="352.9"/>
<use href="#p0" x="463.3" y="341.9"/>
<use href="#p0" x="446.3" y="270.4"/>
<use href="#p0" x="525.0" y="326.9"/>
<use href="#p0" x="511.0" y="315.5"/>
<use href="#p0" x="472.6" y="349.5"/>
<use href="#p0" x="457.9" y="293.5"/>
<use href="#p1" x="504.9" y="341.2"/>
<use href="#p0" x="445.7" y="296.0"/>
<use href="#p0" x="518.3" y="272.1"/>
<use href="#p1" x="469.5" y="332.5"/>
<use href="#p1" x="458.8" y="335.4"/>
<use href="#p0" x="432.3" y="311.5"/>
<use href="#p0" x="536.0" y="318.1"/>
<use href="#p0" x="488.8" y="331.0"/>
<use href="#p0" x="495.5" y="324.4"/>
<use href="#p0" x="447.0" y="337.4"/>
<use href="#p0" x="476.2" y="341.4"/>
<use href="#p0" x="481.3" y="367.4"/>
<use href="#p0" x="474.2" y="331.4"/>
<use href="#p0" x="491.2" y="270.7"/>
<use href="#p1" x="476.5" y="334.7"/>
<use href="#p0" x="505.3" y="339.4"/>
<use href="#p1" x="533.8" y="288.2"/>
<use href="#p0" x="448.5" y="318.0"/>
<use href="#p0" x="516.1" y="335.0"/>
<use href="#p0" x="490.6" y="335.9"/>
<use href="#p0" x="491.0" y="321.8"/>
<use href="#p0" x="424.8" y="302.1"/>
<use href="#p0" x="443.4" y="313.3"/>
<use href="#p0" x="498.2" y="371.9"/>
<use href="#p0" x="497.3" y="364.5"/>
<use href="#p0" x="444.1" y="290.4"/>
<use href="#p0" x="503.1" y="329.9"/>
<use href="#p0" x="461.0" y="331.4"/>
<use href="#p0" x="432.2" y="304.1"/>
<use href="#p1" x="509.1" y="316.8"/>
<use href="#p0" x="484.3" y="321.4"/>
<use href="#p0" x="439.3" y="298.3"/>
<use href="#p0" x="480.2" y="325.9"/>
<use href="#p0" x="454.3" y="299.9"/>
<use href="#p0" x="519.2" y="328.3"/>
<use href="#p0" x="511.2" y="326.9"/>
<use href="#p0" x="457.0" y="329.4"/>
<use href="#p0" x="494.4" y="340.3"/>
<use href="#p0" x="532.2" y="284.4"/>
<use href="#p0" x="473.5" y="295.4"/>
<use href="#p0" x="480.2" y="346.8"/>
<use href="#p0" x="532.4" y="321.8"/>
<use href="#p0" x="516.3" y="332.3"/>
<use href="#p0" x="500.3" y="312.3"/>
<use href="#p0" x="503.1" y="342.1"/>
<use href="#p0" x="444.7" y="329.4"/>
<use href="#p0" x="532.9" y="275.9"/>
<use href="#p1" x="495.5" y="353.7"/>
<use href="#p0" x="517.0" y="277.4"/>
<use href="#p0" x="472.0" y="287.4"/>
<use href="#p1" x="471.8" y="353.1"/>
<use href="#p1" x="459.4" y="316.4"/>
<use href="#p0" x="442.1" y="287.5"/>
<use href="#p0" x="535.7" y="318.4"/>
<use href="#p0" x="448.1" y="324.4"/>
<use href="#p1" x="491.5" y="365.6"/>
<use href="#p0" x="491.5" y="369.1"/>
<use href="#p0" x="476.2" y="362.2"/>
<use href="#p0" x="501.8" y="324.4"/>
<use href="#p0" x="453.3" y="300.9"/>
<use href="#p0" x="501.8" y="347.9"/>
<use href="#p0" x="441.4" y="318.4"/>
<use href="#p0" x="517.9" y="346.6"/>
<use href="#p0" x="537.8" y="288.6"/>
<use href="#p0" x="512.7" y="332.3"/>
<use href="#p0" x="451.2" y="313.3"/>
<use href="#p0" x="522.3" y="270.7"/>
<use href="#p1" x="525.7" y="329.9"/>
<use href="#p0" x="491.9" y="360.7"/>
<use href="#p0" x="467.0" y="339.4"/>
<use href="#p1" x="508.0" y="330.1"/>
<use href="#p1" x="509.1" y="364.3"/>
<use href="#p1" x="503.7" y="361.1"/>
<use href="#p0" x="515.2" y="325.1"/>
<use href="#p0" x="476.8" y="339.0"/>
<use href="#p0" x="532.2" y="285.7"/>
<use href="#p0" x="513.4" y="326.9"/>
<use href="#p1" x="525.9" y="311.9"/>
<use href="#p0" x="462.2" y="294.4"/>
<use href="#p0" x="490.3" y="373.4"/>
<use href="#p1" x="527.7" y="309.2"/>
<use href="#p0" x="475.1" y="311.7"/>
<use href="#p1" x="462.8" y="335.0"/>
<use href="#p0" x="527.7" y="321.6"/>
<use href="#p0" x="482.5" y="354.4"/>
<use href="#p0" x="514.3" y="303.4"/>
<use href="#p0" x="486.1" y="344.8"/>
<use href="#p0" x="499.4" y="294.7"/>
<use href="#p0" x="489.7" y="339.4"/>
<use href="#p0" x="521.3" y="283.3"/>
<use href="#p0" x="497.3" y="335.9"/>
<use href="#p1" x="502.5" y="356.4"/>
<use href="#p0" x="441.8" y="318.9"/>
<use href="#p1" x="529.7" y="315.9"/>
<use href="#p1" x="494.2" y="353.5"/>
<use href="#p1" x="527.1" y="294.0"/>
<use href="#p0" x="468.6" y="355.4"/>
<use href="#p0" x="447.2" y="326.5"/>
<use href="#p0" x="527.7" y="277.7"/>
<use href="#p0" x="502.2" y="311.5"/>
<use href="#p0" x="502.7" y="354.2"/>
<use href="#p0" x="492.4" y="291.3"/>
<use href="#p0" x="460.3" y="314.8"/>
<use href="#p0" x="485.2" y="344.8"/>
<use href="#p0" x="534.7" y="294.0"/>
<use href="#p0" x="448.5" y="314.2"/>
<use href="#p0" x="465.3" y="283.2"/>
<use href="#p0" x="524.4" y="291.1"/>
<use href="#p0" x="485.5" y="350.4"/>
<use href="#p0" x="518.3" y="344.8"/>
<use href="#p1" x="512.3" y="346.8"/>
<use href="#p0" x="488.4" y="336.8"/>
<use href="#p0" x="462.5" y="311.9"/>
<use href="#p1" x="519.5" y="328.1"/>
<use href="#p0" x="455.2" y="314.8"/>
<use href="#p0" x="489.7" y="309.2"/>
<use href="#p0" x="496.0" y="349.3"/>
<use href="#p0" x="476.7" y="319.3"/>
<use href="#p1" x="494.6" y="362.1"/>
<use href="#p0" x="484.3" y="321.6"/>
<use href="#p0" x="527.5" y="332.3"/>
<text x="426.0" y="260.3" font-size="9.6" fill="#1a1a1a"><tspan font-style="italic">P</tspan> = 0.011</text>
<text x="528.90" y="356.59" font-size="8.3" text-anchor="start" fill="#1a1a1a">Prog.</text>
<rect x="526.2" y="359.3" width="25.1" height="22.2" fill="#fff" stroke="#c4c4c4" stroke-width="0.7"/>
<circle cx="531.5" cy="365.5" r="2.0" fill="#FCF4DA" stroke="#7d7960" stroke-width="0.55"/>
<text x="535.50" y="367.92" font-size="8.1" text-anchor="start" fill="#1a1a1a">no</text>
<circle cx="531.5" cy="374.1" r="2.0" fill="#8E3423" stroke="#6e2b1f" stroke-width="0.55"/>
<text x="535.50" y="376.52" font-size="8.1" text-anchor="start" fill="#1a1a1a">yes</text>
<text x="606.70" y="201.95" font-size="16.8" text-anchor="start" fill="#1a1a1a">F</text>
<text x="677.80" y="205.70" font-size="12.5" text-anchor="middle" fill="#1a1a1a">Death</text>
<line x1="613.40" y1="221.20" x2="613.40" y2="246.65" stroke="#4d4d4d" stroke-width="1"/>
<line x1="612.90" y1="246.15" x2="745.60" y2="246.15" stroke="#4d4d4d" stroke-width="1"/>
<line x1="613.40" y1="253.30" x2="613.40" y2="385.80" stroke="#4d4d4d" stroke-width="1"/>
<line x1="612.90" y1="385.30" x2="745.60" y2="385.30" stroke="#4d4d4d" stroke-width="1"/>
<line x1="750.55" y1="253.30" x2="750.55" y2="385.80" stroke="#4d4d4d" stroke-width="1"/>
<line x1="750.05" y1="385.30" x2="775.90" y2="385.30" stroke="#4d4d4d" stroke-width="1"/>
<text x="601.80" y="324.07" font-size="12.7" text-anchor="middle" fill="#1a1a1a" transform="rotate(-90 601.80 319.50)">PCo2 (4.28%)</text>
<text x="677.60" y="400.20" font-size="12.5" text-anchor="middle" fill="#1a1a1a">PCo1 (7.84%)</text>
<path d="M618.9,244.3 L618.9,242.0 L620.9,241.3 L623.0,240.4 L625.0,239.4 L627.0,238.4 L629.0,237.4 L631.0,236.4 L633.0,235.4 L635.0,234.5 L637.0,233.7 L639.0,233.1 L641.0,232.6 L643.0,232.3 L645.1,232.1 L647.1,232.0 L649.1,232.1 L651.1,232.2 L653.1,232.4 L655.1,232.6 L657.1,232.8 L659.1,233.0 L661.1,233.1 L663.1,233.2 L665.1,233.2 L667.2,233.2 L669.2,233.1 L671.2,232.9 L673.2,232.6 L675.2,232.3 L677.2,231.9 L679.2,231.5 L681.2,231.2 L683.2,230.8 L685.2,230.6 L687.2,230.4 L689.3,230.3 L691.3,230.2 L693.3,230.2 L695.3,230.2 L697.3,230.3 L699.3,230.3 L701.3,230.4 L703.3,230.4 L705.3,230.5 L707.3,230.7 L709.3,230.9 L711.4,231.2 L713.4,231.5 L715.4,231.9 L717.4,232.4 L719.4,233.0 L721.4,233.7 L723.4,234.4 L725.4,235.3 L727.4,236.3 L729.4,237.3 L731.4,238.3 L733.5,239.3 L735.5,240.3 L737.5,241.1 L739.5,241.9 L739.5,244.3Z" fill="#FBF1DA" fill-opacity="0.8" stroke="#e9dfc2" stroke-width="0.6"/>
<path d="M618.9,244.3 L618.9,242.2 L620.9,242.2 L623.0,242.4 L625.0,242.7 L627.0,243.0 L629.0,243.2 L631.0,243.4 L633.0,243.4 L635.0,243.2 L637.0,242.8 L639.0,242.1 L641.0,241.0 L643.0,239.7 L645.1,238.2 L647.1,236.6 L649.1,235.2 L651.1,234.1 L653.1,233.4 L655.1,233.2 L657.1,233.6 L659.1,234.3 L661.1,235.3 L663.1,236.3 L665.1,237.2 L667.2,237.8 L669.2,238.2 L671.2,238.2 L673.2,237.9 L675.2,237.3 L677.2,236.4 L679.2,235.3 L681.2,234.1 L683.2,232.7 L685.2,231.4 L687.2,230.0 L689.3,228.6 L691.3,227.2 L693.3,225.8 L695.3,224.3 L697.3,222.9 L699.3,221.6 L701.3,220.4 L703.3,219.5 L705.3,218.9 L707.3,218.8 L709.3,219.1 L711.4,220.0 L713.4,221.2 L715.4,222.9 L717.4,224.8 L719.4,226.9 L721.4,229.1 L723.4,231.2 L725.4,233.2 L727.4,235.1 L729.4,236.9 L731.4,238.4 L733.5,239.8 L735.5,241.0 L737.5,242.0 L739.5,242.7 L739.5,244.3Z" fill="#9A4A30" fill-opacity="0.39" stroke="#9A4A30" stroke-width="0.6"/>
<path d="M752.55,258.9 L753.4,258.9 L753.6,260.9 L753.8,263.0 L754.1,265.0 L754.5,267.0 L754.9,269.0 L755.3,271.0 L755.8,273.0 L756.3,275.0 L756.8,277.0 L757.4,279.0 L758.0,281.0 L758.6,283.0 L759.2,285.0 L759.8,287.0 L760.5,289.1 L761.2,291.1 L761.9,293.1 L762.7,295.1 L763.5,297.1 L764.4,299.1 L765.3,301.1 L766.4,303.1 L767.5,305.1 L768.2,307.1 L769.1,309.1 L769.9,311.1 L770.7,313.1 L771.4,315.2 L772.1,317.2 L772.7,319.2 L773.1,321.2 L773.5,323.2 L773.6,325.2 L773.7,327.2 L773.6,329.2 L773.4,331.2 L773.0,333.2 L772.6,335.2 L772.2,337.2 L771.6,339.2 L771.0,341.2 L770.4,343.3 L769.7,345.3 L769.0,347.3 L768.2,349.3 L767.5,351.3 L766.6,353.3 L765.8,355.3 L764.9,357.3 L764.0,359.3 L763.1,361.3 L762.2,363.3 L761.3,365.3 L760.4,367.3 L759.6,369.4 L758.8,371.4 L758.0,373.4 L757.2,375.4 L756.6,377.4 L755.9,379.4 L752.55,379.4Z" fill="#FBF1DA" fill-opacity="0.8" stroke="#e9dfc2" stroke-width="0.6"/>
<path d="M752.55,258.9 L753.6,258.9 L753.9,260.9 L754.2,263.0 L754.6,265.0 L755.1,267.0 L755.6,269.0 L756.1,271.0 L756.6,273.0 L757.1,275.0 L757.7,277.0 L758.2,279.0 L758.6,281.0 L759.1,283.0 L759.5,285.0 L759.8,287.0 L760.1,289.1 L760.4,291.1 L760.6,293.1 L760.9,295.1 L761.1,297.1 L761.3,299.1 L761.6,301.1 L761.9,303.1 L762.2,305.1 L762.4,307.1 L762.7,309.1 L763.1,311.1 L763.6,313.1 L764.2,315.2 L764.9,317.2 L765.6,319.2 L766.5,321.2 L767.5,323.2 L768.5,325.2 L769.6,327.2 L770.7,329.2 L771.8,331.2 L772.9,333.2 L774.0,335.2 L774.9,337.2 L775.6,339.2 L776.2,341.2 L776.5,343.3 L776.5,345.3 L776.3,347.3 L775.8,349.3 L775.0,351.3 L773.9,353.3 L772.6,355.3 L771.0,357.3 L769.4,359.3 L767.7,361.3 L765.9,363.3 L764.2,365.3 L762.5,367.3 L761.0,369.4 L759.5,371.4 L758.2,373.4 L757.1,375.4 L756.2,377.4 L755.4,379.4 L752.55,379.4Z" fill="#9A4A30" fill-opacity="0.39" stroke="#9A4A30" stroke-width="0.6"/>
<use href="#d0" x="652.4" y="318.4"/>
<use href="#d1" x="654.2" y="345.9"/>
<use href="#d0" x="642.6" y="317.0"/>
<use href="#d0" x="661.6" y="351.8"/>
<use href="#d0" x="646.5" y="291.1"/>
<use href="#d0" x="664.7" y="340.3"/>
<use href="#d0" x="687.8" y="328.7"/>
<use href="#d0" x="682.5" y="367.4"/>
<use href="#d0" x="661.8" y="346.6"/>
<use href="#d0" x="713.3" y="264.3"/>
<use href="#d0" x="622.5" y="299.4"/>
<use href="#d0" x="710.0" y="315.7"/>
<use href="#d1" x="716.7" y="343.9"/>
<use href="#d0" x="712.0" y="290.8"/>
<use href="#d0" x="690.1" y="339.0"/>
<use href="#d0" x="659.6" y="341.2"/>
<use href="#d0" x="704.4" y="354.6"/>
<use href="#d0" x="704.8" y="343.2"/>
<use href="#d0" x="644.9" y="334.3"/>
<use href="#d1" x="656.9" y="324.3"/>
<use href="#d0" x="640.2" y="334.8"/>
<use href="#d0" x="702.1" y="326.5"/>
<use href="#d0" x="654.7" y="283.7"/>
<use href="#d0" x="660.2" y="329.0"/>
<use href="#d0" x="626.4" y="322.2"/>
<use href="#d0" x="709.7" y="347.5"/>
<use href="#d0" x="724.5" y="271.0"/>
<use href="#d1" x="701.2" y="293.3"/>
<use href="#d0" x="638.4" y="324.4"/>
<use href="#d0" x="680.4" y="334.1"/>
<use href="#d0" x="688.5" y="342.3"/>
<use href="#d1" x="652.0" y="331.9"/>
<use href="#d1" x="709.5" y="280.4"/>
<use href="#d0" x="627.0" y="302.1"/>
<use href="#d0" x="698.6" y="351.5"/>
<use href="#d0" x="700.8" y="365.4"/>
<use href="#d0" x="717.8" y="322.9"/>
<use href="#d0" x="695.9" y="365.4"/>
<use href="#d0" x="670.8" y="331.9"/>
<use href="#d0" x="653.5" y="330.1"/>
<use href="#d1" x="652.0" y="318.1"/>
<use href="#d1" x="698.4" y="336.3"/>
<use href="#d0" x="693.6" y="368.5"/>
<use href="#d0" x="658.5" y="291.7"/>
<use href="#d0" x="666.5" y="346.4"/>
<use href="#d0" x="630.7" y="320.2"/>
<use href="#d0" x="668.5" y="342.1"/>
<use href="#d0" x="655.4" y="348.7"/>
<use href="#d0" x="676.1" y="321.4"/>
<use href="#d0" x="646.6" y="318.9"/>
<use href="#d0" x="718.9" y="287.4"/>
<use href="#d0" x="696.8" y="321.3"/>
<use href="#d0" x="694.5" y="352.2"/>
<use href="#d0" x="649.3" y="310.8"/>
<use href="#d0" x="625.5" y="313.3"/>
<use href="#d0" x="647.5" y="320.4"/>
<use href="#d0" x="736.5" y="300.0"/>
<use href="#d0" x="715.3" y="258.9"/>
<use href="#d1" x="686.5" y="336.3"/>
<use href="#d0" x="729.4" y="281.7"/>
<use href="#d0" x="627.9" y="317.7"/>
<use href="#d0" x="714.2" y="323.4"/>
<use href="#d0" x="703.5" y="348.4"/>
<use href="#d0" x="689.6" y="359.1"/>
<use href="#d0" x="650.7" y="327.4"/>
<use href="#d0" x="720.7" y="276.8"/>
<use href="#d0" x="634.3" y="291.6"/>
<use href="#d0" x="678.9" y="356.4"/>
<use href="#d0" x="699.0" y="345.3"/>
<use href="#d0" x="692.3" y="343.5"/>
<use href="#d0" x="714.6" y="319.7"/>
<use href="#d0" x="705.7" y="331.9"/>
<use href="#d0" x="640.8" y="299.0"/>
<use href="#d0" x="662.0" y="344.4"/>
<use href="#d0" x="670.3" y="319.8"/>
<use href="#d0" x="739.5" y="280.4"/>
<use href="#d1" x="727.0" y="294.7"/>
<use href="#d0" x="703.5" y="362.4"/>
<use href="#d0" x="651.1" y="321.8"/>
<use href="#d0" x="686.2" y="379.4"/>
<use href="#d1" x="714.6" y="281.3"/>
<use href="#d0" x="721.3" y="298.4"/>
<use href="#d0" x="679.7" y="334.1"/>
<use href="#d0" x="693.2" y="360.9"/>
<use href="#d0" x="683.4" y="329.6"/>
<use href="#d0" x="685.6" y="347.0"/>
<use href="#d0" x="658.0" y="310.8"/>
<use href="#d0" x="647.5" y="309.3"/>
<use href="#d0" x="640.1" y="344.6"/>
<use href="#d0" x="711.5" y="360.7"/>
<use href="#d1" x="675.9" y="347.5"/>
<use href="#d0" x="638.8" y="275.9"/>
<use href="#d0" x="632.3" y="309.3"/>
<use href="#d1" x="693.2" y="347.8"/>
<use href="#d0" x="643.2" y="289.1"/>
<use href="#d0" x="699.0" y="322.2"/>
<use href="#d0" x="652.2" y="321.6"/>
<use href="#d0" x="658.5" y="322.2"/>
<use href="#d0" x="709.3" y="354.6"/>
<use href="#d0" x="671.9" y="298.5"/>
<use href="#d0" x="710.4" y="266.7"/>
<use href="#d0" x="718.8" y="308.5"/>
<use href="#d0" x="679.3" y="350.4"/>
<use href="#d0" x="703.9" y="308.4"/>
<use href="#d0" x="691.9" y="377.4"/>
<use href="#d1" x="709.1" y="272.2"/>
<use href="#d0" x="666.7" y="341.4"/>
<use href="#d0" x="676.1" y="357.1"/>
<use href="#d0" x="664.1" y="327.4"/>
<use href="#d0" x="701.4" y="358.7"/>
<use href="#d0" x="707.5" y="321.6"/>
<use href="#d0" x="721.2" y="302.7"/>
<use href="#d0" x="650.5" y="311.5"/>
<use href="#d1" x="700.3" y="337.8"/>
<use href="#d0" x="635.9" y="321.1"/>
<use href="#d0" x="706.4" y="283.3"/>
<use href="#d0" x="668.8" y="345.5"/>
<use href="#d0" x="731.4" y="286.4"/>
<use href="#d0" x="728.8" y="285.1"/>
<use href="#d0" x="700.3" y="349.3"/>
<use href="#d0" x="678.1" y="372.1"/>
<use href="#d0" x="734.9" y="275.5"/>
<use href="#d0" x="704.1" y="356.0"/>
<use href="#d0" x="695.9" y="358.7"/>
<use href="#d0" x="658.5" y="287.4"/>
<use href="#d0" x="638.8" y="312.1"/>
<use href="#d0" x="678.4" y="356.4"/>
<use href="#d0" x="686.5" y="357.3"/>
<use href="#d0" x="690.1" y="362.7"/>
<use href="#d0" x="627.4" y="318.4"/>
<use href="#d0" x="715.1" y="333.4"/>
<use href="#d0" x="678.4" y="371.9"/>
<use href="#d0" x="635.0" y="316.1"/>
<use href="#d0" x="650.9" y="335.4"/>
<use href="#d0" x="646.6" y="318.8"/>
<use href="#d0" x="677.2" y="283.3"/>
<use href="#d0" x="635.5" y="302.5"/>
<use href="#d0" x="725.4" y="323.8"/>
<use href="#d0" x="645.3" y="292.4"/>
<use href="#d0" x="665.7" y="323.6"/>
<use href="#d0" x="696.3" y="345.3"/>
<use href="#d0" x="702.6" y="324.4"/>
<use href="#d0" x="686.0" y="355.5"/>
<use href="#d0" x="686.9" y="349.7"/>
<use href="#d0" x="703.9" y="352.4"/>
<use href="#d0" x="648.9" y="329.4"/>
<use href="#d0" x="629.5" y="306.1"/>
<use href="#d0" x="714.8" y="349.9"/>
<use href="#d0" x="634.1" y="323.1"/>
<use href="#d0" x="667.6" y="286.4"/>
<use href="#d0" x="718.2" y="328.7"/>
<use href="#d0" x="644.4" y="326.0"/>
<use href="#d0" x="726.5" y="266.5"/>
<use href="#d0" x="714.6" y="320.2"/>
<use href="#d1" x="706.6" y="351.2"/>
<use href="#d0" x="632.1" y="293.6"/>
<use href="#d0" x="656.5" y="327.4"/>
<use href="#d1" x="682.5" y="349.3"/>
<use href="#d0" x="712.4" y="319.3"/>
<use href="#d0" x="720.0" y="321.8"/>
<use href="#d0" x="712.4" y="319.8"/>
<use href="#d0" x="641.7" y="313.3"/>
<use href="#d0" x="724.6" y="307.4"/>
<use href="#d0" x="643.5" y="344.8"/>
<use href="#d0" x="632.3" y="303.7"/>
<use href="#d0" x="626.1" y="277.7"/>
<use href="#d0" x="648.4" y="339.4"/>
<use href="#d0" x="729.7" y="263.6"/>
<use href="#d0" x="707.8" y="343.9"/>
<use href="#d0" x="699.3" y="304.3"/>
<use href="#d0" x="706.6" y="348.8"/>
<use href="#d0" x="674.3" y="372.1"/>
<use href="#d0" x="682.5" y="352.9"/>
<use href="#d0" x="657.4" y="341.9"/>
<use href="#d0" x="640.4" y="270.4"/>
<use href="#d0" x="719.1" y="326.9"/>
<use href="#d0" x="705.1" y="315.5"/>
<use href="#d0" x="666.7" y="349.5"/>
<use href="#d0" x="652.0" y="293.5"/>
<use href="#d0" x="699.0" y="341.2"/>
<use href="#d0" x="639.8" y="296.0"/>
<use href="#d0" x="712.4" y="272.1"/>
<use href="#d0" x="663.6" y="332.5"/>
<use href="#d1" x="652.9" y="335.4"/>
<use href="#d0" x="626.4" y="311.5"/>
<use href="#d0" x="730.1" y="318.1"/>
<use href="#d0" x="682.9" y="331.0"/>
<use href="#d0" x="689.6" y="324.4"/>
<use href="#d0" x="641.1" y="337.4"/>
<use href="#d0" x="670.3" y="341.4"/>
<use href="#d0" x="675.4" y="367.4"/>
<use href="#d0" x="668.3" y="331.4"/>
<use href="#d0" x="685.3" y="270.7"/>
<use href="#d0" x="670.6" y="334.7"/>
<use href="#d0" x="699.4" y="339.4"/>
<use href="#d1" x="727.9" y="288.2"/>
<use href="#d0" x="642.6" y="318.0"/>
<use href="#d0" x="710.2" y="335.0"/>
<use href="#d0" x="684.7" y="335.9"/>
<use href="#d0" x="685.1" y="321.8"/>
<use href="#d1" x="618.9" y="302.1"/>
<use href="#d0" x="637.5" y="313.3"/>
<use href="#d0" x="692.3" y="371.9"/>
<use href="#d0" x="691.4" y="364.5"/>
<use href="#d0" x="638.2" y="290.4"/>
<use href="#d0" x="697.2" y="329.9"/>
<use href="#d0" x="655.1" y="331.4"/>
<use href="#d0" x="626.3" y="304.1"/>
<use href="#d1" x="703.2" y="316.8"/>
<use href="#d0" x="678.4" y="321.4"/>
<use href="#d0" x="633.4" y="298.3"/>
<use href="#d0" x="674.3" y="325.9"/>
<use href="#d0" x="648.4" y="299.9"/>
<use href="#d0" x="713.3" y="328.3"/>
<use href="#d0" x="705.3" y="326.9"/>
<use href="#d0" x="651.1" y="329.4"/>
<use href="#d0" x="688.5" y="340.3"/>
<use href="#d0" x="726.3" y="284.4"/>
<use href="#d0" x="667.6" y="295.4"/>
<use href="#d0" x="674.3" y="346.8"/>
<use href="#d0" x="726.5" y="321.8"/>
<use href="#d0" x="710.4" y="332.3"/>
<use href="#d0" x="694.4" y="312.3"/>
<use href="#d0" x="697.2" y="342.1"/>
<use href="#d0" x="638.8" y="329.4"/>
<use href="#d0" x="727.0" y="275.9"/>
<use href="#d0" x="689.6" y="353.7"/>
<use href="#d0" x="711.1" y="277.4"/>
<use href="#d0" x="666.1" y="287.4"/>
<use href="#d1" x="665.9" y="353.1"/>
<use href="#d0" x="653.5" y="316.4"/>
<use href="#d0" x="636.2" y="287.5"/>
<use href="#d0" x="729.8" y="318.4"/>
<use href="#d0" x="642.2" y="324.4"/>
<use href="#d0" x="685.6" y="365.6"/>
<use href="#d0" x="685.6" y="369.1"/>
<use href="#d0" x="670.3" y="362.2"/>
<use href="#d0" x="695.9" y="324.4"/>
<use href="#d0" x="647.4" y="300.9"/>
<use href="#d0" x="695.9" y="347.9"/>
<use href="#d0" x="635.5" y="318.4"/>
<use href="#d1" x="712.0" y="346.6"/>
<use href="#d0" x="731.9" y="288.6"/>
<use href="#d0" x="706.8" y="332.3"/>
<use href="#d0" x="645.3" y="313.3"/>
<use href="#d1" x="716.4" y="270.7"/>
<use href="#d0" x="719.8" y="329.9"/>
<use href="#d0" x="686.0" y="360.7"/>
<use href="#d0" x="661.1" y="339.4"/>
<use href="#d0" x="702.1" y="330.1"/>
<use href="#d1" x="703.2" y="364.3"/>
<use href="#d0" x="697.8" y="361.1"/>
<use href="#d0" x="709.3" y="325.1"/>
<use href="#d0" x="670.9" y="339.0"/>
<use href="#d0" x="726.3" y="285.7"/>
<use href="#d0" x="707.5" y="326.9"/>
<use href="#d1" x="720.0" y="311.9"/>
<use href="#d0" x="656.3" y="294.4"/>
<use href="#d0" x="684.4" y="373.4"/>
<use href="#d0" x="721.8" y="309.2"/>
<use href="#d0" x="669.2" y="311.7"/>
<use href="#d0" x="656.9" y="335.0"/>
<use href="#d0" x="721.8" y="321.6"/>
<use href="#d0" x="676.6" y="354.4"/>
<use href="#d0" x="708.4" y="303.4"/>
<use href="#d0" x="680.2" y="344.8"/>
<use href="#d0" x="693.5" y="294.7"/>
<use href="#d0" x="683.8" y="339.4"/>
<use href="#d0" x="715.4" y="283.3"/>
<use href="#d0" x="691.4" y="335.9"/>
<use href="#d1" x="696.6" y="356.4"/>
<use href="#d0" x="635.9" y="318.9"/>
<use href="#d0" x="723.8" y="315.9"/>
<use href="#d1" x="688.3" y="353.5"/>
<use href="#d0" x="721.2" y="294.0"/>
<use href="#d0" x="662.7" y="355.4"/>
<use href="#d0" x="641.3" y="326.5"/>
<use href="#d0" x="721.8" y="277.7"/>
<use href="#d0" x="696.3" y="311.5"/>
<use href="#d0" x="696.8" y="354.2"/>
<use href="#d0" x="686.5" y="291.3"/>
<use href="#d0" x="654.4" y="314.8"/>
<use href="#d0" x="679.3" y="344.8"/>
<use href="#d0" x="728.8" y="294.0"/>
<use href="#d0" x="642.6" y="314.2"/>
<use href="#d0" x="659.4" y="283.2"/>
<use href="#d0" x="718.5" y="291.1"/>
<use href="#d0" x="679.6" y="350.4"/>
<use href="#d0" x="712.4" y="344.8"/>
<use href="#d1" x="706.4" y="346.8"/>
<use href="#d0" x="682.5" y="336.8"/>
<use href="#d0" x="656.6" y="311.9"/>
<use href="#d1" x="713.6" y="328.1"/>
<use href="#d0" x="649.3" y="314.8"/>
<use href="#d0" x="683.8" y="309.2"/>
<use href="#d0" x="690.1" y="349.3"/>
<use href="#d0" x="670.8" y="319.3"/>
<use href="#d1" x="688.7" y="362.1"/>
<use href="#d0" x="678.4" y="321.6"/>
<use href="#d0" x="721.6" y="332.3"/>
<text x="619.3" y="260.3" font-size="9.6" fill="#1a1a1a"><tspan font-style="italic">P</tspan> = 0.007</text>
<text x="721.90" y="355.49" font-size="8.3" text-anchor="start" fill="#1a1a1a">Death</text>
<rect x="720.0" y="358.9" width="25.1" height="21.4" fill="#fff" stroke="#c4c4c4" stroke-width="0.7"/>
<circle cx="725.2" cy="365.0" r="2.0" fill="#FCF4DA" stroke="#7d7960" stroke-width="0.55"/>
<text x="729.30" y="367.42" font-size="8.1" text-anchor="start" fill="#1a1a1a">no</text>
<circle cx="725.2" cy="373.5" r="2.0" fill="#8E3423" stroke="#6e2b1f" stroke-width="0.55"/>
<text x="729.30" y="375.92" font-size="8.1" text-anchor="start" fill="#1a1a1a">yes</text>
<text x="5.60" y="428.35" font-size="16.8" text-anchor="start" fill="#1a1a1a">G</text>
<line x1="45.50" y1="450.30" x2="45.50" y2="676.60" stroke="#4d4d4d" stroke-width="1"/>
<line x1="45.00" y1="676.60" x2="91.80" y2="676.60" stroke="#4d4d4d" stroke-width="1"/>
<text x="69.00" y="440.77" font-size="12.7" text-anchor="middle" fill="#1a1a1a">Enterotype</text>
<line x1="43.10" y1="666.00" x2="45.50" y2="666.00" stroke="#4d4d4d" stroke-width="0.9"/>
<text x="42.90" y="668.60" font-size="8.6" text-anchor="end" fill="#1a1a1a">0</text>
<line x1="43.10" y1="614.62" x2="45.50" y2="614.62" stroke="#4d4d4d" stroke-width="0.9"/>
<text x="42.90" y="617.22" font-size="8.6" text-anchor="end" fill="#1a1a1a">25</text>
<line x1="43.10" y1="563.25" x2="45.50" y2="563.25" stroke="#4d4d4d" stroke-width="0.9"/>
<text x="42.90" y="565.85" font-size="8.6" text-anchor="end" fill="#1a1a1a">50</text>
<line x1="43.10" y1="511.88" x2="45.50" y2="511.88" stroke="#4d4d4d" stroke-width="0.9"/>
<text x="42.90" y="514.47" font-size="8.6" text-anchor="end" fill="#1a1a1a">75</text>
<line x1="43.10" y1="460.50" x2="45.50" y2="460.50" stroke="#4d4d4d" stroke-width="0.9"/>
<text x="42.90" y="463.10" font-size="8.6" text-anchor="end" fill="#1a1a1a">100</text>
<rect x="48.10" y="604.76" width="19.40" height="61.24" fill="#C01F27"/>
<rect x="48.10" y="592.43" width="19.40" height="12.33" fill="#1B8840"/>
<rect x="48.10" y="575.58" width="19.40" height="16.85" fill="#CB8D07"/>
<rect x="48.10" y="550.92" width="19.40" height="24.66" fill="#FDE3C7"/>
<rect x="48.10" y="539.62" width="19.40" height="11.30" fill="#8CA322"/>
<rect x="48.10" y="528.93" width="19.40" height="10.69" fill="#EA7169"/>
<rect x="48.10" y="525.03" width="19.40" height="3.90" fill="#84392C"/>
<rect x="48.10" y="518.04" width="19.40" height="6.99" fill="#AC79BC"/>
<rect x="48.10" y="460.50" width="19.40" height="57.54" fill="#E6E6E6"/>
<line x1="57.80" y1="676.60" x2="57.80" y2="678.60" stroke="#4d4d4d" stroke-width="0.9"/>
<text x="57.80" y="692.00" font-size="13.6" text-anchor="middle" fill="#1a1a1a">1</text>
<rect x="69.70" y="634.76" width="19.60" height="31.24" fill="#C01F27"/>
<rect x="69.70" y="578.25" width="19.60" height="56.51" fill="#1B8840"/>
<rect x="69.70" y="546.40" width="19.60" height="31.85" fill="#CB8D07"/>
<rect x="69.70" y="521.74" width="19.60" height="24.66" fill="#FDE3C7"/>
<rect x="69.70" y="509.41" width="19.60" height="12.33" fill="#8CA322"/>
<rect x="69.70" y="503.86" width="19.60" height="5.55" fill="#EA7169"/>
<rect x="69.70" y="502.42" width="19.60" height="1.44" fill="#84392C"/>
<rect x="69.70" y="500.98" width="19.60" height="1.44" fill="#AC79BC"/>
<rect x="69.70" y="460.50" width="19.60" height="40.48" fill="#E6E6E6"/>
<line x1="79.50" y1="676.60" x2="79.50" y2="678.60" stroke="#4d4d4d" stroke-width="0.9"/>
<text x="79.50" y="692.00" font-size="13.6" text-anchor="middle" fill="#1a1a1a">2</text>
<line x1="104.90" y1="450.30" x2="104.90" y2="676.60" stroke="#4d4d4d" stroke-width="1"/>
<line x1="104.40" y1="676.60" x2="198.00" y2="676.60" stroke="#4d4d4d" stroke-width="1"/>
<text x="151.90" y="440.77" font-size="12.7" text-anchor="middle" fill="#1a1a1a">Stage</text>
<line x1="102.50" y1="666.00" x2="104.90" y2="666.00" stroke="#4d4d4d" stroke-width="0.9"/>
<line x1="102.50" y1="614.62" x2="104.90" y2="614.62" stroke="#4d4d4d" stroke-width="0.9"/>
<line x1="102.50" y1="563.25" x2="104.90" y2="563.25" stroke="#4d4d4d" stroke-width="0.9"/>
<line x1="102.50" y1="511.88" x2="104.90" y2="511.88" stroke="#4d4d4d" stroke-width="0.9"/>
<line x1="102.50" y1="460.50" x2="104.90" y2="460.50" stroke="#4d4d4d" stroke-width="0.9"/>
<rect x="107.80" y="630.65" width="20.40" height="35.35" fill="#C01F27"/>
<rect x="107.80" y="578.46" width="20.40" height="52.20" fill="#1B8840"/>
<rect x="107.80" y="549.69" width="20.40" height="28.77" fill="#CB8D07"/>
<rect x="107.80" y="524.00" width="20.40" height="25.69" fill="#FDE3C7"/>
<rect x="107.80" y="512.70" width="20.40" height="11.30" fill="#8CA322"/>
<rect x="107.80" y="504.89" width="20.40" height="7.81" fill="#EA7169"/>
<rect x="107.80" y="503.45" width="20.40" height="1.44" fill="#84392C"/>
<rect x="107.80" y="502.83" width="20.40" height="0.62" fill="#AC79BC"/>
<rect x="107.80" y="460.50" width="20.40" height="42.33" fill="#E6E6E6"/>
<line x1="118.00" y1="676.60" x2="118.00" y2="678.60" stroke="#4d4d4d" stroke-width="0.9"/>
<text x="118.00" y="692.00" font-size="13.6" text-anchor="middle" fill="#1a1a1a">0/1</text>
<rect x="130.10" y="622.64" width="20.40" height="43.36" fill="#C01F27"/>
<rect x="130.10" y="582.16" width="20.40" height="40.48" fill="#1B8840"/>
<rect x="130.10" y="554.82" width="20.40" height="27.33" fill="#CB8D07"/>
<rect x="130.10" y="530.78" width="20.40" height="24.04" fill="#FDE3C7"/>
<rect x="130.10" y="518.45" width="20.40" height="12.33" fill="#8CA322"/>
<rect x="130.10" y="512.70" width="20.40" height="5.75" fill="#EA7169"/>
<rect x="130.10" y="510.85" width="20.40" height="1.85" fill="#84392C"/>
<rect x="130.10" y="508.18" width="20.40" height="2.67" fill="#AC79BC"/>
<rect x="130.10" y="460.50" width="20.40" height="47.68" fill="#E6E6E6"/>
<line x1="140.30" y1="676.60" x2="140.30" y2="678.60" stroke="#4d4d4d" stroke-width="0.9"/>
<text x="140.30" y="692.00" font-size="13.6" text-anchor="middle" fill="#1a1a1a">2</text>
<rect x="152.50" y="626.96" width="20.30" height="39.04" fill="#C01F27"/>
<rect x="152.50" y="581.75" width="20.30" height="45.21" fill="#1B8840"/>
<rect x="152.50" y="553.80" width="20.30" height="27.95" fill="#CB8D07"/>
<rect x="152.50" y="527.90" width="20.30" height="25.89" fill="#FDE3C7"/>
<rect x="152.50" y="516.60" width="20.30" height="11.30" fill="#8CA322"/>
<rect x="152.50" y="510.03" width="20.30" height="6.58" fill="#EA7169"/>
<rect x="152.50" y="508.18" width="20.30" height="1.85" fill="#84392C"/>
<rect x="152.50" y="504.27" width="20.30" height="3.90" fill="#AC79BC"/>
<rect x="152.50" y="460.50" width="20.30" height="43.77" fill="#E6E6E6"/>
<line x1="162.65" y1="676.60" x2="162.65" y2="678.60" stroke="#4d4d4d" stroke-width="0.9"/>
<text x="162.65" y="692.00" font-size="13.6" text-anchor="middle" fill="#1a1a1a">3</text>
<rect x="174.90" y="623.05" width="20.40" height="42.95" fill="#C01F27"/>
<rect x="174.90" y="590.99" width="20.40" height="32.06" fill="#1B8840"/>
<rect x="174.90" y="566.54" width="20.40" height="24.45" fill="#CB8D07"/>
<rect x="174.90" y="541.67" width="20.40" height="24.87" fill="#FDE3C7"/>
<rect x="174.90" y="527.90" width="20.40" height="13.77" fill="#8CA322"/>
<rect x="174.90" y="520.71" width="20.40" height="7.19" fill="#EA7169"/>
<rect x="174.90" y="515.57" width="20.40" height="5.14" fill="#84392C"/>
<rect x="174.90" y="512.29" width="20.40" height="3.29" fill="#AC79BC"/>
<rect x="174.90" y="460.50" width="20.40" height="51.79" fill="#E6E6E6"/>
<line x1="185.10" y1="676.60" x2="185.10" y2="678.60" stroke="#4d4d4d" stroke-width="0.9"/>
<text x="185.10" y="692.00" font-size="13.6" text-anchor="middle" fill="#1a1a1a">4</text>
<line x1="209.70" y1="450.30" x2="209.70" y2="676.60" stroke="#4d4d4d" stroke-width="1"/>
<line x1="209.20" y1="676.60" x2="255.50" y2="676.60" stroke="#4d4d4d" stroke-width="1"/>
<text x="230.40" y="440.77" font-size="12.7" text-anchor="middle" fill="#1a1a1a">Progression</text>
<line x1="207.30" y1="666.00" x2="209.70" y2="666.00" stroke="#4d4d4d" stroke-width="0.9"/>
<line x1="207.30" y1="614.62" x2="209.70" y2="614.62" stroke="#4d4d4d" stroke-width="0.9"/>
<line x1="207.30" y1="563.25" x2="209.70" y2="563.25" stroke="#4d4d4d" stroke-width="0.9"/>
<line x1="207.30" y1="511.88" x2="209.70" y2="511.88" stroke="#4d4d4d" stroke-width="0.9"/>
<line x1="207.30" y1="460.50" x2="209.70" y2="460.50" stroke="#4d4d4d" stroke-width="0.9"/>
<rect x="212.60" y="625.52" width="19.00" height="40.48" fill="#C01F27"/>
<rect x="212.60" y="579.69" width="19.00" height="45.83" fill="#1B8840"/>
<rect x="212.60" y="551.95" width="19.00" height="27.74" fill="#CB8D07"/>
<rect x="212.60" y="527.49" width="19.00" height="24.45" fill="#FDE3C7"/>
<rect x="212.60" y="515.99" width="19.00" height="11.51" fill="#8CA322"/>
<rect x="212.60" y="509.61" width="19.00" height="6.37" fill="#EA7169"/>
<rect x="212.60" y="507.15" width="19.00" height="2.47" fill="#84392C"/>
<rect x="212.60" y="504.68" width="19.00" height="2.47" fill="#AC79BC"/>
<rect x="212.60" y="460.50" width="19.00" height="44.18" fill="#E6E6E6"/>
<line x1="222.10" y1="676.60" x2="222.10" y2="678.60" stroke="#4d4d4d" stroke-width="0.9"/>
<text x="222.10" y="692.00" font-size="13.6" text-anchor="middle" fill="#1a1a1a">N</text>
<rect x="233.70" y="625.52" width="19.30" height="40.48" fill="#C01F27"/>
<rect x="233.70" y="592.84" width="19.30" height="32.67" fill="#1B8840"/>
<rect x="233.70" y="565.72" width="19.30" height="27.13" fill="#CB8D07"/>
<rect x="233.70" y="539.62" width="19.30" height="26.10" fill="#FDE3C7"/>
<rect x="233.70" y="525.44" width="19.30" height="14.18" fill="#8CA322"/>
<rect x="233.70" y="519.07" width="19.30" height="6.37" fill="#EA7169"/>
<rect x="233.70" y="514.75" width="19.30" height="4.32" fill="#84392C"/>
<rect x="233.70" y="512.29" width="19.30" height="2.47" fill="#AC79BC"/>
<rect x="233.70" y="460.50" width="19.30" height="51.79" fill="#E6E6E6"/>
<line x1="243.35" y1="676.60" x2="243.35" y2="678.60" stroke="#4d4d4d" stroke-width="0.9"/>
<text x="243.35" y="692.00" font-size="13.6" text-anchor="middle" fill="#1a1a1a">Y</text>
<line x1="269.30" y1="450.30" x2="269.30" y2="676.60" stroke="#4d4d4d" stroke-width="1"/>
<line x1="268.80" y1="676.60" x2="315.50" y2="676.60" stroke="#4d4d4d" stroke-width="1"/>
<text x="292.80" y="440.77" font-size="12.7" text-anchor="middle" fill="#1a1a1a">Death</text>
<line x1="266.90" y1="666.00" x2="269.30" y2="666.00" stroke="#4d4d4d" stroke-width="0.9"/>
<line x1="266.90" y1="614.62" x2="269.30" y2="614.62" stroke="#4d4d4d" stroke-width="0.9"/>
<line x1="266.90" y1="563.25" x2="269.30" y2="563.25" stroke="#4d4d4d" stroke-width="0.9"/>
<line x1="266.90" y1="511.88" x2="269.30" y2="511.88" stroke="#4d4d4d" stroke-width="0.9"/>
<line x1="266.90" y1="460.50" x2="269.30" y2="460.50" stroke="#4d4d4d" stroke-width="0.9"/>
<rect x="272.60" y="625.11" width="19.30" height="40.89" fill="#C01F27"/>
<rect x="272.60" y="579.69" width="19.30" height="45.42" fill="#1B8840"/>
<rect x="272.60" y="551.95" width="19.30" height="27.74" fill="#CB8D07"/>
<rect x="272.60" y="527.49" width="19.30" height="24.45" fill="#FDE3C7"/>
<rect x="272.60" y="515.99" width="19.30" height="11.51" fill="#8CA322"/>
<rect x="272.60" y="509.61" width="19.30" height="6.37" fill="#EA7169"/>
<rect x="272.60" y="507.15" width="19.30" height="2.47" fill="#84392C"/>
<rect x="272.60" y="504.27" width="19.30" height="2.88" fill="#AC79BC"/>
<rect x="272.60" y="460.50" width="19.30" height="43.77" fill="#E6E6E6"/>
<line x1="282.25" y1="676.60" x2="282.25" y2="678.60" stroke="#4d4d4d" stroke-width="0.9"/>
<text x="282.25" y="692.00" font-size="13.6" text-anchor="middle" fill="#1a1a1a">N</text>
<rect x="293.80" y="628.80" width="19.20" height="37.20" fill="#C01F27"/>
<rect x="293.80" y="601.88" width="19.20" height="26.92" fill="#1B8840"/>
<rect x="293.80" y="574.55" width="19.20" height="27.33" fill="#CB8D07"/>
<rect x="293.80" y="548.25" width="19.20" height="26.30" fill="#FDE3C7"/>
<rect x="293.80" y="533.45" width="19.20" height="14.80" fill="#8CA322"/>
<rect x="293.80" y="525.44" width="19.20" height="8.01" fill="#EA7169"/>
<rect x="293.80" y="519.89" width="19.20" height="5.55" fill="#84392C"/>
<rect x="293.80" y="518.86" width="19.20" height="1.03" fill="#AC79BC"/>
<rect x="293.80" y="460.50" width="19.20" height="58.36" fill="#E6E6E6"/>
<line x1="303.40" y1="676.60" x2="303.40" y2="678.60" stroke="#4d4d4d" stroke-width="0.9"/>
<text x="303.40" y="692.00" font-size="13.6" text-anchor="middle" fill="#1a1a1a">Y</text>
<text x="22.60" y="569.27" font-size="12.7" text-anchor="middle" fill="#1a1a1a" transform="rotate(-90 22.60 564.70)">Relative abundance (%)</text>
<text x="323.30" y="514.09" font-size="11.35" text-anchor="start" fill="#1a1a1a">Family</text>
<rect x="323.30" y="520.85" width="11.60" height="11.60" fill="#C01F27"/>
<text x="339.80" y="529.66" font-size="8.35" text-anchor="start" font-style="italic" fill="#111">Bacteroidaceae</text>
<rect x="323.30" y="533.71" width="11.60" height="11.60" fill="#1B8840"/>
<text x="339.80" y="542.52" font-size="8.35" text-anchor="start" font-style="italic" fill="#111">Prevotellaceae</text>
<rect x="323.30" y="546.57" width="11.60" height="11.60" fill="#CB8D07"/>
<text x="339.80" y="555.38" font-size="8.35" text-anchor="start" font-style="italic" fill="#111">Ruminococcaceae</text>
<rect x="323.30" y="559.43" width="11.60" height="11.60" fill="#FDE3C7"/>
<text x="339.80" y="568.24" font-size="8.35" text-anchor="start" font-style="italic" fill="#111">Lachnospiraceae</text>
<rect x="323.30" y="572.29" width="11.60" height="11.60" fill="#8CA322"/>
<text x="339.80" y="581.10" font-size="8.35" text-anchor="start" font-style="italic" fill="#111">Oscillospiraceae</text>
<rect x="323.30" y="585.15" width="11.60" height="11.60" fill="#EA7169"/>
<text x="339.80" y="593.96" font-size="8.35" text-anchor="start" font-style="italic" fill="#111">Enterobacteriaceae</text>
<rect x="323.30" y="598.01" width="11.60" height="11.60" fill="#84392C"/>
<text x="339.80" y="606.82" font-size="8.35" text-anchor="start" font-style="italic" fill="#111">Akkermansiaceae</text>
<rect x="323.30" y="610.87" width="11.60" height="11.60" fill="#AC79BC"/>
<text x="339.80" y="619.68" font-size="8.35" text-anchor="start" font-style="italic" fill="#111">Fusobacteriaceae</text>
<rect x="323.30" y="623.73" width="11.60" height="11.60" fill="#E6E6E6"/>
<text x="339.80" y="632.54" font-size="8.35" text-anchor="start" fill="#111">Others</text>
<text x="418.90" y="428.25" font-size="16.8" text-anchor="start" fill="#1a1a1a">H</text>
<text x="434.20" y="580.34" font-size="12.6" text-anchor="middle" fill="#1a1a1a" transform="rotate(-90 434.20 575.80)">Shannon diversity index</text>
<line x1="455.00" y1="478.80" x2="455.00" y2="676.60" stroke="#4d4d4d" stroke-width="1"/>
<line x1="454.50" y1="676.60" x2="515.80" y2="676.60" stroke="#4d4d4d" stroke-width="1"/>
<text x="486.20" y="457.17" font-size="12.7" text-anchor="middle" fill="#1a1a1a">Enterotype</text>
<line x1="452.80" y1="514.10" x2="455.00" y2="514.10" stroke="#4d4d4d" stroke-width="0.9"/>
<text x="452.40" y="517.20" font-size="8.6" text-anchor="end" fill="#1a1a1a">5</text>
<line x1="452.80" y1="554.50" x2="455.00" y2="554.50" stroke="#4d4d4d" stroke-width="0.9"/>
<text x="452.40" y="557.60" font-size="8.6" text-anchor="end" fill="#1a1a1a">4</text>
<line x1="452.80" y1="595.00" x2="455.00" y2="595.00" stroke="#4d4d4d" stroke-width="0.9"/>
<text x="452.40" y="598.10" font-size="8.6" text-anchor="end" fill="#1a1a1a">3</text>
<line x1="452.80" y1="635.00" x2="455.00" y2="635.00" stroke="#4d4d4d" stroke-width="0.9"/>
<text x="452.40" y="638.10" font-size="8.6" text-anchor="end" fill="#1a1a1a">2</text>
<path d="M471.3,489.0 L471.3,492.7 L471.2,496.5 L471.2,500.2 L471.1,503.9 L471.0,507.6 L470.9,511.4 L470.7,515.1 L470.5,518.8 L470.2,522.6 L469.9,526.3 L469.5,530.0 L469.1,533.8 L468.6,537.5 L468.1,541.2 L467.6,544.9 L467.1,548.7 L466.5,552.4 L466.0,556.1 L465.5,559.9 L465.1,563.6 L464.8,567.3 L464.5,571.0 L464.4,574.8 L464.4,578.5 L464.5,582.2 L464.8,586.0 L465.1,589.7 L465.6,593.4 L466.1,597.1 L466.7,600.9 L467.2,604.6 L467.8,608.3 L468.4,612.1 L468.9,615.8 L469.4,619.5 L469.8,623.2 L470.1,627.0 L470.4,630.7 L470.7,634.4 L470.9,638.2 L470.9,641.9 L471.0,645.6 L471.0,649.4 L471.1,653.1 L471.2,656.8 L471.3,660.5 L471.3,664.3 L471.4,668.0 L471.4,668.0 L471.5,664.3 L471.5,660.5 L471.6,656.8 L471.7,653.1 L471.8,649.4 L471.8,645.6 L471.8,641.9 L471.9,638.2 L472.1,634.4 L472.4,630.7 L472.7,627.0 L473.0,623.2 L473.4,619.5 L473.9,615.8 L474.4,612.1 L475.0,608.3 L475.6,604.6 L476.1,600.9 L476.7,597.1 L477.2,593.4 L477.7,589.7 L478.0,586.0 L478.3,582.2 L478.4,578.5 L478.4,574.8 L478.3,571.0 L478.0,567.3 L477.7,563.6 L477.3,559.9 L476.8,556.1 L476.3,552.4 L475.7,548.7 L475.2,544.9 L474.7,541.2 L474.2,537.5 L473.7,533.8 L473.3,530.0 L472.9,526.3 L472.6,522.6 L472.3,518.8 L472.1,515.1 L471.9,511.4 L471.8,507.6 L471.7,503.9 L471.6,500.2 L471.6,496.5 L471.5,492.7 L471.5,489.0Z" fill="#F3F3F3"/>
<line x1="471.40" y1="517.70" x2="471.40" y2="638.70" stroke="#404040" stroke-width="0.8"/>
<rect x="467.20" y="553.40" width="8.4" height="40.10" fill="#C01F27" stroke="#333" stroke-width="0.6"/>
<line x1="467.20" y1="572.40" x2="475.60" y2="572.40" stroke="#333" stroke-width="0.7"/>
<path d="M499.0,494.0 L498.9,496.8 L498.9,499.6 L498.7,502.4 L498.6,505.2 L498.4,508.0 L498.1,510.8 L497.7,513.5 L497.2,516.3 L496.6,519.1 L495.8,521.9 L495.0,524.7 L494.1,527.5 L493.0,530.3 L491.9,533.1 L490.8,535.9 L489.8,538.7 L488.8,541.5 L487.9,544.2 L487.3,547.0 L486.9,549.8 L486.7,552.6 L486.8,555.4 L487.1,558.2 L487.7,561.0 L488.4,563.8 L489.3,566.6 L490.2,569.4 L491.3,572.2 L492.3,575.0 L493.3,577.8 L494.3,580.5 L495.2,583.3 L496.0,586.1 L496.6,588.9 L497.2,591.7 L497.7,594.5 L498.0,597.3 L498.3,600.1 L498.5,602.9 L498.7,605.7 L498.7,608.5 L498.7,611.2 L498.8,614.0 L498.8,616.8 L498.9,619.6 L499.0,622.4 L499.0,625.2 L499.1,628.0 L499.1,628.0 L499.2,625.2 L499.2,622.4 L499.3,619.6 L499.4,616.8 L499.4,614.0 L499.5,611.2 L499.6,608.5 L499.6,605.7 L499.7,602.9 L499.9,600.1 L500.2,597.3 L500.5,594.5 L501.0,591.7 L501.6,588.9 L502.2,586.1 L503.0,583.3 L503.9,580.5 L504.9,577.8 L505.9,575.0 L506.9,572.2 L508.0,569.4 L508.9,566.6 L509.8,563.8 L510.5,561.0 L511.1,558.2 L511.4,555.4 L511.5,552.6 L511.3,549.8 L510.9,547.0 L510.3,544.2 L509.4,541.5 L508.4,538.7 L507.4,535.9 L506.3,533.1 L505.2,530.3 L504.1,527.5 L503.2,524.7 L502.4,521.9 L501.6,519.1 L501.0,516.3 L500.5,513.5 L500.1,510.8 L499.8,508.0 L499.6,505.2 L499.5,502.4 L499.3,499.6 L499.3,496.8 L499.2,494.0Z" fill="#F3F3F3"/>
<line x1="499.10" y1="514.10" x2="499.10" y2="593.50" stroke="#404040" stroke-width="0.8"/>
<rect x="494.90" y="538.90" width="8.4" height="22.50" fill="#1B8840" stroke="#333" stroke-width="0.6"/>
<line x1="494.90" y1="551.60" x2="503.30" y2="551.60" stroke="#333" stroke-width="0.7"/>
<line x1="471.40" y1="676.60" x2="471.40" y2="678.60" stroke="#4d4d4d" stroke-width="0.9"/>
<text x="471.40" y="692.00" font-size="13.6" text-anchor="middle" fill="#1a1a1a">1</text>
<line x1="499.10" y1="676.60" x2="499.10" y2="678.60" stroke="#4d4d4d" stroke-width="0.9"/>
<text x="499.10" y="692.00" font-size="13.6" text-anchor="middle" fill="#1a1a1a">2</text>
<line x1="471.40" y1="485.30" x2="499.10" y2="485.30" stroke="#555" stroke-width="0.7"/>
<text x="485.25" y="483.46" font-size="8.5" text-anchor="middle" fill="#111">1.6e-12</text>
<line x1="524.80" y1="478.80" x2="524.80" y2="676.60" stroke="#4d4d4d" stroke-width="1"/>
<line x1="524.30" y1="676.60" x2="638.60" y2="676.60" stroke="#4d4d4d" stroke-width="1"/>
<text x="580.90" y="457.17" font-size="12.7" text-anchor="middle" fill="#1a1a1a">Stage</text>
<line x1="522.60" y1="521.30" x2="524.80" y2="521.30" stroke="#4d4d4d" stroke-width="0.9"/>
<line x1="522.60" y1="560.90" x2="524.80" y2="560.90" stroke="#4d4d4d" stroke-width="0.9"/>
<line x1="522.60" y1="600.50" x2="524.80" y2="600.50" stroke="#4d4d4d" stroke-width="0.9"/>
<line x1="522.60" y1="639.80" x2="524.80" y2="639.80" stroke="#4d4d4d" stroke-width="0.9"/>
<path d="M541.3,497.0 L541.2,500.5 L541.1,504.0 L540.9,507.4 L540.6,510.9 L540.2,514.4 L539.7,517.9 L539.1,521.4 L538.4,524.8 L537.5,528.3 L536.5,531.8 L535.5,535.3 L534.6,538.8 L533.6,542.2 L532.9,545.7 L532.4,549.2 L532.1,552.7 L532.1,556.1 L532.3,559.6 L532.7,563.1 L533.1,566.6 L533.7,570.1 L534.4,573.5 L535.1,577.0 L535.9,580.5 L536.6,584.0 L537.3,587.5 L538.0,590.9 L538.6,594.4 L539.2,597.9 L539.6,601.4 L540.0,604.9 L540.4,608.3 L540.6,611.8 L540.8,615.3 L540.9,618.8 L540.9,622.2 L540.9,625.7 L540.9,629.2 L540.9,632.7 L540.9,636.2 L541.0,639.6 L541.1,643.1 L541.1,646.6 L541.2,650.1 L541.2,653.6 L541.3,657.0 L541.3,660.5 L541.4,664.0 L541.4,664.0 L541.5,660.5 L541.5,657.0 L541.6,653.6 L541.6,650.1 L541.7,646.6 L541.7,643.1 L541.8,639.6 L541.9,636.2 L541.9,632.7 L541.9,629.2 L541.9,625.7 L541.9,622.2 L541.9,618.8 L542.0,615.3 L542.2,611.8 L542.4,608.3 L542.8,604.9 L543.2,601.4 L543.6,597.9 L544.2,594.4 L544.8,590.9 L545.5,587.5 L546.2,584.0 L546.9,580.5 L547.7,577.0 L548.4,573.5 L549.1,570.1 L549.7,566.6 L550.1,563.1 L550.5,559.6 L550.7,556.1 L550.7,552.7 L550.4,549.2 L549.9,545.7 L549.2,542.2 L548.2,538.8 L547.3,535.3 L546.3,531.8 L545.3,528.3 L544.4,524.8 L543.7,521.4 L543.1,517.9 L542.6,514.4 L542.2,510.9 L541.9,507.4 L541.7,504.0 L541.6,500.5 L541.5,497.0Z" fill="#F3F3F3"/>
<line x1="541.40" y1="525.00" x2="541.40" y2="615.60" stroke="#404040" stroke-width="0.8"/>
<rect x="537.20" y="547.50" width="8.4" height="28.80" fill="#FCF3D5" stroke="#333" stroke-width="0.6"/>
<line x1="537.20" y1="562.30" x2="545.60" y2="562.30" stroke="#333" stroke-width="0.7"/>
<path d="M568.6,497.0 L568.5,500.5 L568.3,504.0 L568.1,507.4 L567.8,510.9 L567.3,514.4 L566.7,517.9 L565.9,521.4 L565.0,524.8 L563.9,528.3 L562.6,531.8 L561.4,535.3 L560.2,538.8 L559.1,542.2 L558.3,545.7 L557.8,549.2 L557.7,552.7 L557.9,556.1 L558.4,559.6 L559.1,563.1 L560.1,566.6 L561.1,570.1 L562.2,573.5 L563.3,577.0 L564.3,580.5 L565.2,584.0 L566.1,587.5 L566.7,590.9 L567.3,594.4 L567.7,597.9 L568.0,601.4 L568.2,604.9 L568.2,608.3 L568.2,611.8 L568.2,615.3 L568.2,618.8 L568.2,622.2 L568.2,625.7 L568.2,629.2 L568.2,632.7 L568.3,636.2 L568.3,639.6 L568.4,643.1 L568.4,646.6 L568.5,650.1 L568.5,653.6 L568.6,657.0 L568.6,660.5 L568.7,664.0 L568.7,664.0 L568.8,660.5 L568.8,657.0 L568.9,653.6 L568.9,650.1 L569.0,646.6 L569.0,643.1 L569.1,639.6 L569.1,636.2 L569.2,632.7 L569.2,629.2 L569.2,625.7 L569.2,622.2 L569.2,618.8 L569.2,615.3 L569.2,611.8 L569.2,608.3 L569.2,604.9 L569.4,601.4 L569.7,597.9 L570.1,594.4 L570.7,590.9 L571.3,587.5 L572.2,584.0 L573.1,580.5 L574.1,577.0 L575.2,573.5 L576.3,570.1 L577.3,566.6 L578.3,563.1 L579.0,559.6 L579.5,556.1 L579.7,552.7 L579.6,549.2 L579.1,545.7 L578.3,542.2 L577.2,538.8 L576.0,535.3 L574.8,531.8 L573.5,528.3 L572.4,524.8 L571.5,521.4 L570.7,517.9 L570.1,514.4 L569.6,510.9 L569.3,507.4 L569.1,504.0 L568.9,500.5 L568.8,497.0Z" fill="#F3F3F3"/>
<line x1="568.70" y1="521.30" x2="568.70" y2="606.00" stroke="#404040" stroke-width="0.8"/>
<rect x="564.50" y="547.20" width="8.4" height="25.30" fill="#CBC6A9" stroke="#333" stroke-width="0.6"/>
<line x1="564.50" y1="558.50" x2="572.90" y2="558.50" stroke="#333" stroke-width="0.7"/>
<path d="M595.6,510.0 L595.5,513.0 L595.4,515.9 L595.2,518.9 L595.0,521.8 L594.6,524.8 L594.2,527.8 L593.5,530.7 L592.7,533.7 L591.7,536.6 L590.6,539.6 L589.4,542.5 L588.1,545.5 L586.9,548.5 L585.7,551.4 L584.8,554.4 L584.2,557.3 L583.9,560.3 L584.0,563.2 L584.5,566.2 L585.4,569.2 L586.6,572.1 L587.9,575.1 L589.3,578.0 L590.6,581.0 L591.8,584.0 L592.8,586.9 L593.6,589.9 L594.3,592.8 L594.7,595.8 L595.1,598.8 L595.2,601.7 L595.2,604.7 L595.2,607.6 L595.2,610.6 L595.2,613.5 L595.2,616.5 L595.2,619.5 L595.2,622.4 L595.2,625.4 L595.2,628.3 L595.3,631.3 L595.3,634.2 L595.4,637.2 L595.5,640.2 L595.5,643.1 L595.6,646.1 L595.6,649.0 L595.7,652.0 L595.7,652.0 L595.8,649.0 L595.8,646.1 L595.9,643.1 L595.9,640.2 L596.0,637.2 L596.1,634.2 L596.1,631.3 L596.2,628.3 L596.2,625.4 L596.2,622.4 L596.2,619.5 L596.2,616.5 L596.2,613.5 L596.2,610.6 L596.2,607.6 L596.2,604.7 L596.2,601.7 L596.3,598.8 L596.7,595.8 L597.1,592.8 L597.8,589.9 L598.6,586.9 L599.6,584.0 L600.8,581.0 L602.1,578.0 L603.5,575.1 L604.8,572.1 L606.0,569.2 L606.9,566.2 L607.4,563.2 L607.5,560.3 L607.2,557.3 L606.6,554.4 L605.7,551.4 L604.5,548.5 L603.3,545.5 L602.0,542.5 L600.8,539.6 L599.7,536.6 L598.7,533.7 L597.9,530.7 L597.2,527.8 L596.8,524.8 L596.4,521.8 L596.2,518.9 L596.0,515.9 L595.9,513.0 L595.8,510.0Z" fill="#F3F3F3"/>
<line x1="595.70" y1="525.50" x2="595.70" y2="611.20" stroke="#404040" stroke-width="0.8"/>
<rect x="591.50" y="551.00" width="8.4" height="24.80" fill="#F0694F" stroke="#333" stroke-width="0.6"/>
<line x1="591.50" y1="562.30" x2="599.90" y2="562.30" stroke="#333" stroke-width="0.7"/>
<path d="M623.1,500.0 L623.1,503.0 L623.0,506.0 L622.9,509.1 L622.7,512.1 L622.5,515.1 L622.1,518.1 L621.7,521.1 L621.1,524.2 L620.5,527.2 L619.6,530.2 L618.7,533.2 L617.6,536.2 L616.5,539.3 L615.3,542.3 L614.2,545.3 L613.1,548.3 L612.2,551.4 L611.5,554.4 L611.1,557.4 L611.0,560.4 L611.3,563.4 L612.0,566.5 L613.0,569.5 L614.2,572.5 L615.6,575.5 L617.0,578.5 L618.3,581.6 L619.5,584.6 L620.4,587.6 L621.2,590.6 L621.9,593.6 L622.3,596.7 L622.6,599.7 L622.8,602.7 L622.8,605.7 L622.8,608.8 L622.8,611.8 L622.8,614.8 L622.8,617.8 L622.8,620.8 L622.8,623.9 L622.8,626.9 L622.9,629.9 L622.9,632.9 L623.0,635.9 L623.1,639.0 L623.1,642.0 L623.2,645.0 L623.2,645.0 L623.3,642.0 L623.3,639.0 L623.4,635.9 L623.5,632.9 L623.5,629.9 L623.6,626.9 L623.6,623.9 L623.7,620.8 L623.7,617.8 L623.7,614.8 L623.7,611.8 L623.7,608.8 L623.7,605.7 L623.7,602.7 L623.8,599.7 L624.1,596.7 L624.5,593.6 L625.2,590.6 L626.0,587.6 L626.9,584.6 L628.1,581.6 L629.4,578.5 L630.8,575.5 L632.2,572.5 L633.4,569.5 L634.4,566.5 L635.1,563.4 L635.4,560.4 L635.3,557.4 L634.9,554.4 L634.2,551.4 L633.3,548.3 L632.2,545.3 L631.1,542.3 L629.9,539.3 L628.8,536.2 L627.7,533.2 L626.8,530.2 L625.9,527.2 L625.3,524.2 L624.7,521.1 L624.3,518.1 L623.9,515.1 L623.7,512.1 L623.5,509.1 L623.4,506.0 L623.3,503.0 L623.3,500.0Z" fill="#F3F3F3"/>
<line x1="623.20" y1="524.60" x2="623.20" y2="598.00" stroke="#404040" stroke-width="0.8"/>
<rect x="619.00" y="551.30" width="8.4" height="22.60" fill="#8A3225" stroke="#333" stroke-width="0.6"/>
<line x1="619.00" y1="561.50" x2="627.40" y2="561.50" stroke="#333" stroke-width="0.7"/>
<line x1="541.40" y1="676.60" x2="541.40" y2="678.60" stroke="#4d4d4d" stroke-width="0.9"/>
<text x="541.40" y="692.00" font-size="13.6" text-anchor="middle" fill="#1a1a1a">0/1</text>
<line x1="568.70" y1="676.60" x2="568.70" y2="678.60" stroke="#4d4d4d" stroke-width="0.9"/>
<text x="568.70" y="692.00" font-size="13.6" text-anchor="middle" fill="#1a1a1a">2</text>
<line x1="595.70" y1="676.60" x2="595.70" y2="678.60" stroke="#4d4d4d" stroke-width="0.9"/>
<text x="595.70" y="692.00" font-size="13.6" text-anchor="middle" fill="#1a1a1a">3</text>
<line x1="623.20" y1="676.60" x2="623.20" y2="678.60" stroke="#4d4d4d" stroke-width="0.9"/>
<text x="623.20" y="692.00" font-size="13.6" text-anchor="middle" fill="#1a1a1a">4</text>
<line x1="541.40" y1="477.50" x2="623.20" y2="477.50" stroke="#555" stroke-width="0.7"/>
<text x="577.80" y="475.26" font-size="8.5" text-anchor="middle" fill="#111">0.92</text>
<line x1="568.70" y1="487.00" x2="623.20" y2="487.00" stroke="#555" stroke-width="0.7"/>
<text x="591.05" y="485.96" font-size="8.5" text-anchor="middle" fill="#111">0.54</text>
<line x1="568.70" y1="498.20" x2="595.70" y2="498.20" stroke="#555" stroke-width="0.7"/>
<text x="580.00" y="495.86" font-size="8.5" text-anchor="middle" fill="#111">0.25</text>
<line x1="649.00" y1="478.80" x2="649.00" y2="676.60" stroke="#4d4d4d" stroke-width="1"/>
<line x1="648.50" y1="676.60" x2="709.40" y2="676.60" stroke="#4d4d4d" stroke-width="1"/>
<text x="680.00" y="457.17" font-size="12.7" text-anchor="middle" fill="#1a1a1a">Progression</text>
<line x1="646.80" y1="515.80" x2="649.00" y2="515.80" stroke="#4d4d4d" stroke-width="0.9"/>
<line x1="646.80" y1="558.40" x2="649.00" y2="558.40" stroke="#4d4d4d" stroke-width="0.9"/>
<line x1="646.80" y1="601.60" x2="649.00" y2="601.60" stroke="#4d4d4d" stroke-width="0.9"/>
<line x1="646.80" y1="644.70" x2="649.00" y2="644.70" stroke="#4d4d4d" stroke-width="0.9"/>
<path d="M665.4,490.0 L665.3,493.7 L665.2,497.5 L665.0,501.2 L664.8,504.9 L664.5,508.6 L664.1,512.4 L663.5,516.1 L662.9,519.8 L662.1,523.6 L661.2,527.3 L660.2,531.0 L659.1,534.8 L658.1,538.5 L657.0,542.2 L656.1,545.9 L655.3,549.7 L654.8,553.4 L654.5,557.1 L654.5,560.9 L654.8,564.6 L655.4,568.3 L656.1,572.0 L657.0,575.8 L658.0,579.5 L659.1,583.2 L660.1,587.0 L661.1,590.7 L662.0,594.4 L662.8,598.1 L663.4,601.9 L664.0,605.6 L664.4,609.3 L664.7,613.1 L665.0,616.8 L665.0,620.5 L665.0,624.2 L665.0,628.0 L665.0,631.7 L665.0,635.4 L665.0,639.2 L665.1,642.9 L665.1,646.6 L665.2,650.4 L665.3,654.1 L665.3,657.8 L665.4,661.5 L665.4,665.3 L665.5,669.0 L665.5,669.0 L665.6,665.3 L665.6,661.5 L665.7,657.8 L665.7,654.1 L665.8,650.4 L665.9,646.6 L665.9,642.9 L666.0,639.2 L666.0,635.4 L666.0,631.7 L666.0,628.0 L666.0,624.2 L666.0,620.5 L666.0,616.8 L666.3,613.1 L666.6,609.3 L667.0,605.6 L667.6,601.9 L668.2,598.1 L669.0,594.4 L669.9,590.7 L670.9,587.0 L671.9,583.2 L673.0,579.5 L674.0,575.8 L674.9,572.0 L675.6,568.3 L676.2,564.6 L676.5,560.9 L676.5,557.1 L676.2,553.4 L675.7,549.7 L674.9,545.9 L674.0,542.2 L672.9,538.5 L671.9,534.8 L670.8,531.0 L669.8,527.3 L668.9,523.6 L668.1,519.8 L667.5,516.1 L666.9,512.4 L666.5,508.6 L666.2,504.9 L666.0,501.2 L665.8,497.5 L665.7,493.7 L665.6,490.0Z" fill="#F3F3F3"/>
<line x1="665.50" y1="515.80" x2="665.50" y2="616.40" stroke="#404040" stroke-width="0.8"/>
<rect x="661.30" y="545.50" width="8.4" height="28.90" fill="#EFE8CD" stroke="#333" stroke-width="0.6"/>
<line x1="661.30" y1="559.80" x2="669.70" y2="559.80" stroke="#333" stroke-width="0.7"/>
<path d="M692.1,495.0 L691.9,498.0 L691.6,501.0 L691.3,504.1 L690.9,507.1 L690.4,510.1 L689.8,513.1 L689.2,516.1 L688.5,519.2 L687.7,522.2 L686.9,525.2 L686.0,528.2 L685.2,531.2 L684.3,534.3 L683.5,537.3 L682.7,540.3 L682.0,543.3 L681.5,546.4 L681.1,549.4 L680.9,552.4 L680.8,555.4 L680.9,558.4 L681.3,561.5 L681.9,564.5 L682.6,567.5 L683.4,570.5 L684.4,573.5 L685.4,576.6 L686.4,579.6 L687.3,582.6 L688.2,585.6 L689.1,588.6 L689.8,591.7 L690.4,594.7 L691.0,597.7 L691.4,600.7 L691.8,603.8 L692.0,606.8 L692.3,609.8 L692.3,612.8 L692.3,615.8 L692.4,618.9 L692.4,621.9 L692.5,624.9 L692.5,627.9 L692.6,630.9 L692.7,634.0 L692.7,637.0 L692.8,640.0 L692.8,640.0 L692.9,637.0 L692.9,634.0 L693.0,630.9 L693.1,627.9 L693.1,624.9 L693.2,621.9 L693.2,618.9 L693.2,615.8 L693.2,612.8 L693.3,609.8 L693.6,606.8 L693.8,603.8 L694.2,600.7 L694.6,597.7 L695.2,594.7 L695.8,591.7 L696.5,588.6 L697.4,585.6 L698.3,582.6 L699.2,579.6 L700.2,576.6 L701.2,573.5 L702.2,570.5 L703.0,567.5 L703.7,564.5 L704.3,561.5 L704.7,558.4 L704.8,555.4 L704.7,552.4 L704.5,549.4 L704.1,546.4 L703.6,543.3 L702.9,540.3 L702.1,537.3 L701.3,534.3 L700.4,531.2 L699.6,528.2 L698.7,525.2 L697.9,522.2 L697.1,519.2 L696.4,516.1 L695.8,513.1 L695.2,510.1 L694.7,507.1 L694.3,504.1 L694.0,501.0 L693.7,498.0 L693.5,495.0Z" fill="#F3F3F3"/>
<line x1="692.80" y1="519.70" x2="692.80" y2="602.10" stroke="#404040" stroke-width="0.8"/>
<rect x="688.60" y="545.20" width="8.4" height="27.00" fill="#8A3225" stroke="#333" stroke-width="0.6"/>
<line x1="688.60" y1="557.30" x2="697.00" y2="557.30" stroke="#333" stroke-width="0.7"/>
<line x1="666.00" y1="676.60" x2="666.00" y2="678.60" stroke="#4d4d4d" stroke-width="0.9"/>
<text x="666.00" y="692.00" font-size="13.6" text-anchor="middle" fill="#1a1a1a">N</text>
<line x1="692.80" y1="676.60" x2="692.80" y2="678.60" stroke="#4d4d4d" stroke-width="0.9"/>
<text x="692.80" y="692.00" font-size="13.6" text-anchor="middle" fill="#1a1a1a">Y</text>
<line x1="665.30" y1="485.50" x2="692.80" y2="485.50" stroke="#555" stroke-width="0.7"/>
<text x="679.05" y="483.66" font-size="8.5" text-anchor="middle" fill="#111">0.55</text>
<line x1="719.00" y1="478.80" x2="719.00" y2="676.60" stroke="#4d4d4d" stroke-width="1"/>
<line x1="718.50" y1="676.60" x2="780.00" y2="676.60" stroke="#4d4d4d" stroke-width="1"/>
<text x="747.50" y="457.17" font-size="12.7" text-anchor="middle" fill="#1a1a1a">Death</text>
<line x1="716.80" y1="514.70" x2="719.00" y2="514.70" stroke="#4d4d4d" stroke-width="0.9"/>
<line x1="716.80" y1="556.00" x2="719.00" y2="556.00" stroke="#4d4d4d" stroke-width="0.9"/>
<line x1="716.80" y1="597.50" x2="719.00" y2="597.50" stroke="#4d4d4d" stroke-width="0.9"/>
<line x1="716.80" y1="638.70" x2="719.00" y2="638.70" stroke="#4d4d4d" stroke-width="0.9"/>
<path d="M735.2,490.0 L735.1,493.6 L735.0,497.3 L734.8,500.9 L734.5,504.6 L734.1,508.2 L733.6,511.9 L733.0,515.5 L732.2,519.2 L731.3,522.8 L730.3,526.5 L729.2,530.1 L728.1,533.8 L727.0,537.4 L726.0,541.0 L725.1,544.7 L724.5,548.3 L724.1,552.0 L724.0,555.6 L724.2,559.3 L724.6,562.9 L725.2,566.6 L725.9,570.2 L726.8,573.9 L727.8,577.5 L728.8,581.1 L729.8,584.8 L730.7,588.4 L731.6,592.1 L732.4,595.7 L733.0,599.4 L733.6,603.0 L734.1,606.7 L734.4,610.3 L734.7,614.0 L734.9,617.6 L734.9,621.2 L734.9,624.9 L734.9,628.5 L734.9,632.2 L734.9,635.8 L735.0,639.5 L735.0,643.1 L735.1,646.8 L735.2,650.4 L735.2,654.1 L735.3,657.7 L735.3,661.4 L735.4,665.0 L735.4,665.0 L735.5,661.4 L735.5,657.7 L735.6,654.1 L735.6,650.4 L735.7,646.8 L735.8,643.1 L735.8,639.5 L735.9,635.8 L735.9,632.2 L735.9,628.5 L735.9,624.9 L735.9,621.2 L735.9,617.6 L736.1,614.0 L736.4,610.3 L736.7,606.7 L737.2,603.0 L737.8,599.4 L738.4,595.7 L739.2,592.1 L740.1,588.4 L741.0,584.8 L742.0,581.1 L743.0,577.5 L744.0,573.9 L744.9,570.2 L745.6,566.6 L746.2,562.9 L746.6,559.3 L746.8,555.6 L746.7,552.0 L746.3,548.3 L745.7,544.7 L744.8,541.0 L743.8,537.4 L742.7,533.8 L741.6,530.1 L740.5,526.5 L739.5,522.8 L738.6,519.2 L737.8,515.5 L737.2,511.9 L736.7,508.2 L736.3,504.6 L736.0,500.9 L735.8,497.3 L735.7,493.6 L735.6,490.0Z" fill="#F3F3F3"/>
<line x1="735.40" y1="514.70" x2="735.40" y2="612.30" stroke="#404040" stroke-width="0.8"/>
<rect x="731.20" y="543.30" width="8.4" height="28.00" fill="#EFE8CD" stroke="#333" stroke-width="0.6"/>
<line x1="731.20" y1="557.30" x2="739.60" y2="557.30" stroke="#333" stroke-width="0.7"/>
<path d="M762.0,495.0 L761.7,497.9 L761.3,500.8 L760.9,503.8 L760.4,506.7 L759.9,509.6 L759.2,512.5 L758.5,515.4 L757.6,518.3 L756.8,521.2 L755.8,524.2 L754.9,527.1 L754.0,530.0 L753.1,532.9 L752.3,535.8 L751.6,538.8 L751.0,541.7 L750.6,544.6 L750.3,547.5 L750.3,550.4 L750.5,553.3 L751.0,556.2 L751.6,559.2 L752.5,562.1 L753.4,565.0 L754.5,567.9 L755.6,570.8 L756.6,573.8 L757.7,576.7 L758.6,579.6 L759.4,582.5 L760.2,585.4 L760.8,588.3 L761.3,591.2 L761.7,594.2 L762.0,597.1 L762.2,600.0 L762.3,602.9 L762.3,605.8 L762.3,608.8 L762.3,611.7 L762.4,614.6 L762.4,617.5 L762.5,620.4 L762.6,623.3 L762.6,626.2 L762.7,629.2 L762.7,632.1 L762.8,635.0 L762.8,635.0 L762.9,632.1 L762.9,629.2 L763.0,626.2 L763.0,623.3 L763.1,620.4 L763.2,617.5 L763.2,614.6 L763.2,611.7 L763.2,608.8 L763.2,605.8 L763.2,602.9 L763.4,600.0 L763.6,597.1 L763.9,594.2 L764.3,591.2 L764.8,588.3 L765.4,585.4 L766.2,582.5 L767.0,579.6 L767.9,576.7 L769.0,573.8 L770.0,570.8 L771.1,567.9 L772.2,565.0 L773.1,562.1 L774.0,559.2 L774.6,556.2 L775.1,553.3 L775.3,550.4 L775.3,547.5 L775.0,544.6 L774.6,541.7 L774.0,538.8 L773.3,535.8 L772.5,532.9 L771.6,530.0 L770.7,527.1 L769.8,524.2 L768.8,521.2 L768.0,518.3 L767.1,515.4 L766.4,512.5 L765.7,509.6 L765.2,506.7 L764.7,503.8 L764.3,500.8 L763.9,497.9 L763.6,495.0Z" fill="#F3F3F3"/>
<line x1="762.80" y1="518.00" x2="762.80" y2="598.60" stroke="#404040" stroke-width="0.8"/>
<rect x="758.60" y="541.90" width="8.4" height="25.90" fill="#8A3225" stroke="#333" stroke-width="0.6"/>
<line x1="758.60" y1="554.30" x2="767.00" y2="554.30" stroke="#333" stroke-width="0.7"/>
<line x1="735.50" y1="676.60" x2="735.50" y2="678.60" stroke="#4d4d4d" stroke-width="0.9"/>
<text x="735.50" y="692.00" font-size="13.6" text-anchor="middle" fill="#1a1a1a">N</text>
<line x1="762.40" y1="676.60" x2="762.40" y2="678.60" stroke="#4d4d4d" stroke-width="0.9"/>
<text x="762.40" y="692.00" font-size="13.6" text-anchor="middle" fill="#1a1a1a">Y</text>
<line x1="735.40" y1="485.50" x2="762.80" y2="485.50" stroke="#555" stroke-width="0.7"/>
<text x="749.10" y="483.66" font-size="8.5" text-anchor="middle" fill="#111">0.51</text>
<text x="2.7" y="708.9" font-size="11.85" fill="#303030" textLength="753.5" lengthAdjust="spacing" xml:space="preserve"><tspan font-weight="bold" fill="#000">Fig. 1</tspan><tspan>  Preoperative gut microbiota of colorectal cancer patients. </tspan><tspan font-weight="bold" fill="#000">A</tspan><tspan> Illustration of the study. </tspan><tspan font-weight="bold" fill="#000">B</tspan><tspan> Taxonomic profile at the family level. Samples are</tspan></text>
<text x="2.7" y="725.3" font-size="11.85" fill="#303030" textLength="762.9" lengthAdjust="spacing" xml:space="preserve"><tspan>arranged in the descending order of relative abundance of </tspan><tspan font-style="italic">Bacteroidaceae</tspan><tspan> family. </tspan><tspan font-weight="bold" fill="#000">C–F</tspan><tspan> PCoA plots of the gut microbiota based on the Bray-Curtis</tspan></text>
<text x="2.7" y="741.6999999999999" font-size="11.85" fill="#303030" textLength="744.4" lengthAdjust="spacing" xml:space="preserve"><tspan>dissimilarity. Samples were colored based on their enterotype (</tspan><tspan font-weight="bold" fill="#000">C</tspan><tspan>), clinicopathological stage (</tspan><tspan font-weight="bold" fill="#000">D</tspan><tspan>), progression (</tspan><tspan font-weight="bold" fill="#000">E</tspan><tspan>), and decease (</tspan><tspan font-weight="bold" fill="#000">F</tspan><tspan>), respectively.</tspan></text>
<text x="2.7" y="758.1" font-size="11.85" fill="#303030" textLength="756.8" lengthAdjust="spacing" xml:space="preserve"><tspan>PERMANOVA was performed for </tspan><tspan font-style="italic">P</tspan><tspan> value calculation. </tspan><tspan font-weight="bold" fill="#000">G</tspan><tspan> Taxonomic profile at the family level by indicated variables. </tspan><tspan font-weight="bold" fill="#000">H</tspan><tspan> Shannon diversity index by</tspan></text>
<text x="2.7" y="774.5" font-size="11.85" fill="#303030" textLength="98.7" lengthAdjust="spacing" xml:space="preserve"><tspan>indicated variables</tspan></text>
</svg>
</body></html>
